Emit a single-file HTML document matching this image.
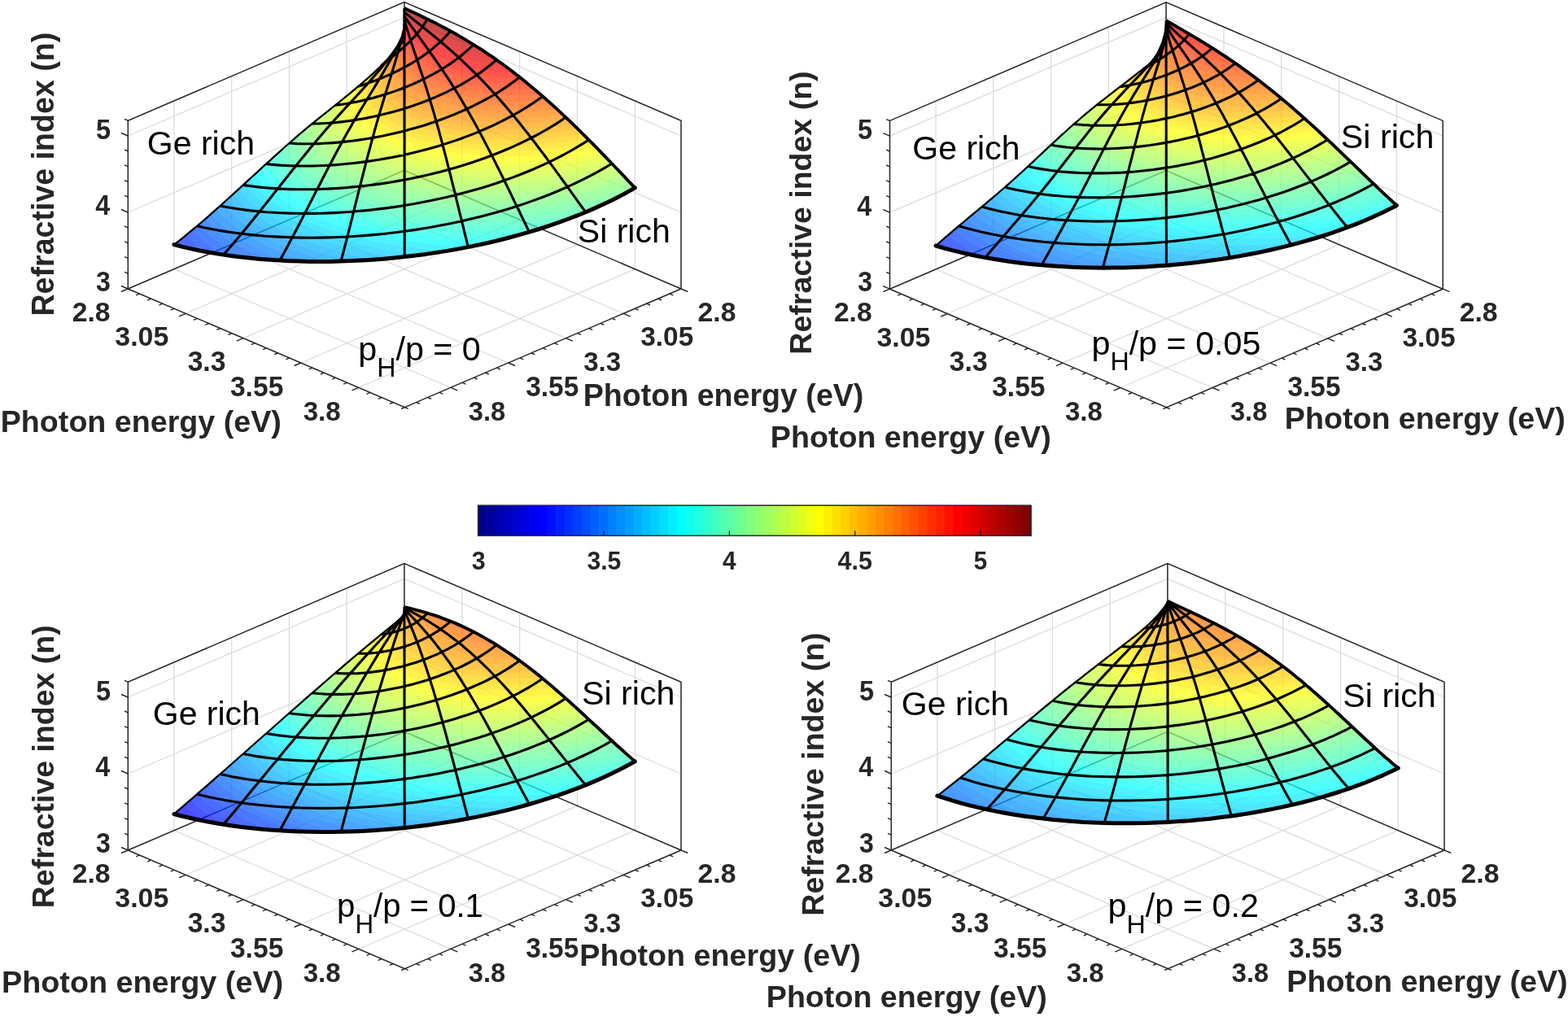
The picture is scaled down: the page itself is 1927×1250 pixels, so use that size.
<!DOCTYPE html>
<html><head><meta charset="utf-8"><title>Refractive index surfaces</title><style>html,body{margin:0;padding:0;background:#fff;}svg{display:block;}</style></head><body>
<svg width="1927" height="1250" viewBox="0 0 1927 1250" font-family='"Liberation Sans", Arial, sans-serif'>
<rect width="1927" height="1250" fill="#fff"/>
<path fill="none" stroke="#dcdcdc" stroke-width="1.3" d="M426.1 239.7L426.1 32.9M567.8 239.7L567.8 32.9M426.1 239.7L766.2 385.3M567.8 239.7L228.2 385.3M355.4 270.1L355.4 63.3M638.6 270.1L638.6 63.3M355.4 270.1L695.5 415.7M638.6 270.1L299 415.7M284.6 300.4L284.6 93.6M709.5 300.4L709.5 93.6M284.6 300.4L624.8 446M709.5 300.4L369.9 446M213.9 330.7L213.9 123.9M780.3 330.7L780.3 123.9M213.9 330.7L554 476.3M780.3 330.7L440.7 476.3M496.9 115.4L157.3 261M496.9 115.4L837 261M496.9 21.4L157.3 167M496.9 21.4L837 167"/>
<path fill="none" stroke="#262626" stroke-width="1.5" d="M496.9 209.4L157.3 355M496.9 209.4L837 355M496.9 209.4L496.9 2.6"/>
<g opacity="0.7">
<path fill="#0020ff" stroke="#0020ff" stroke-width="0.7" d="M218.6 297l-4.7 3.6 14.3 3.6 -7.9 -8.5z"/>
<path fill="#0030ff" stroke="#0030ff" stroke-width="0.7" d="M228 289.5l-7.7 6.2 7.9 8.5 21.8 4.7 -10.7 -9.4 -10.3 -10.8z"/>
<path fill="#0040ff" stroke="#0040ff" stroke-width="0.7" d="M235.1 283.7l-6.1 5 10.3 10.8 10.7 9.4 23.2 4 -10.1 -7.1 -9.8 -7.9 -8.7 -7.9 -7.4 -8z"/>
<path fill="#0050ff" stroke="#0050ff" stroke-width="0.7" d="M244.6 275.8l-7.4 6.2 5.5 6 6.4 6.3 7.3 6.3 6.7 5.2 10.1 7.1 24.3 3.2 -16.7 -10 -14 -10.1 -12 -10.3 -9.8 -10.3z"/>
<path fill="#0060ff" stroke="#0060ff" stroke-width="0.7" d="M251.6 269.7l-6.6 5.7 7.2 7.8 8.3 7.7 8.8 7 7.8 5.7 10.1 6.6 10.3 5.9 25.4 2.6 -11.5 -5.7 -11 -6 -9.6 -5.7 -9.4 -6.3 -8.1 -6.2 -8.6 -7.3 -5.3 -5.1 -6.8 -7.5z"/>
<path fill="#0070ff" stroke="#0070ff" stroke-width="0.7" d="M258.7 263.6l-6.1 5.3 1 1.3 8.4 8.8 8.4 7.5 9.6 7.5 10.8 7.3 16.2 9.4 15.9 8 26.4 1.7 -14.4 -6 -13.9 -6.6 -12.7 -6.7 -11.6 -7 -10.4 -7.1 -9.6 -7.5 -10 -9.2 -6.9 -7.7z"/>
<path fill="#0080ff" stroke="#0080ff" stroke-width="0.7" d="M265.8 257.3l-6 5.3 4.3 4.9 9.1 8.9 9.9 8.2 10 7.1 11.2 7.1 12.3 6.8 8.9 4.4 10.6 4.9 13.2 5.5 27.2 0.9 -17.6 -6.2 -19.6 -8.2 -15.1 -7.2 -14.5 -8 -10.8 -6.9 -12.7 -9.4 -10.6 -9.5 -8.7 -9.6z"/>
<path fill="#008fff" stroke="#008fff" stroke-width="0.7" d="M272.9 251l-6 5.3 4.1 4.8 5.7 5.9 9.5 8.4 9.3 7.1 13.1 8.5 13.1 7.4 13 6.4 13.6 6 13.6 5.4 14.6 5.1 27.8 0.1 -20.8 -6.3 -20.9 -7.5 -19 -7.9 -19.4 -9.7 -16.3 -9.8 -12.7 -9.1 -5.6 -4.6 -6.5 -6 -5.4 -5.7 -3.9 -4.7z"/>
<path fill="#009fff" stroke="#009fff" stroke-width="0.7" d="M279.9 244.6l-6.1 5.5 6.1 7 6.4 6.4 10.7 9 10.9 7.7 14.6 8.9 12.3 6.4 13.4 6.2 19.5 7.8 15.8 5.6 20.8 6.3 28.4 -0.8 -25.5 -6.6 -26 -8.1 -19.8 -7.5 -10.3 -4.4 -11.8 -5.6 -10.3 -5.4 -8.9 -5.2 -9.6 -6.3 -6.6 -4.8 -5.6 -4.5 -7.5 -6.8 -6.4 -6.9 -3.7 -4.5z"/>
<path fill="#00afff" stroke="#00afff" stroke-width="0.7" d="M287 238.2l-6.3 5.8 7.8 9.1 7 6.7 11.4 9.2 12.4 8.3 11.9 6.9 16.6 8.3 18.4 7.8 20.2 7.3 22 6.8 23.6 6 6.4 -0.1 23.1 -1.4 -15.8 -3.2 -18 -4.2 -26 -7.2 -14.7 -4.7 -12.6 -4.6 -9.4 -3.8 -13.2 -5.8 -12.1 -6.1 -7.5 -4.1 -10.4 -6.4 -9.3 -6.5 -8 -6.4 -6.4 -5.8 -5.6 -5.9 -5.1 -6.4z"/>
<path fill="#00bfff" stroke="#00bfff" stroke-width="0.7" d="M291.7 233.9l-4.3 3.9 5.1 6.4 4.5 4.8 7.2 6.7 5.4 4.4 12.2 8.7 11.6 7.1 14.3 7.5 17.3 7.8 19.2 7.4 21 6.8 22.5 6.1 24.4 5.6 9.4 1.8 29 -2.6 -31.5 -5.4 -18 -3.9 -17.2 -4.2 -12.8 -3.7 -14.7 -4.6 -13.9 -4.9 -13.8 -5.5 -12.8 -5.7 -11.7 -6 -10.7 -6.1 -9.7 -6.3 -8.5 -6.5 -8.5 -7.4 -7.5 -7.8 -5.2 -6.6z"/>
<path fill="#00cfff" stroke="#00cfff" stroke-width="0.7" d="M298.8 227.4l-4.8 4.3 4.5 5.8 5.2 5.8 6.3 5.9 7.9 6.5 12.2 8.5 14 8.2 15.9 7.9 17.7 7.5 11.6 4.3 13 4.4 21.5 6.3 23.1 5.6 24.5 4.8 19.1 3.1 29.2 -3.4 -20.8 -2.6 -19.6 -3.1 -18.4 -3.4 -17.3 -3.8 -17.9 -4.5 -15.9 -4.6 -14.9 -4.9 -14 -5.3 -13 -5.5 -12 -5.7 -11 -5.9 -13 -8.2 -10.4 -7.7 -8 -7 -6.7 -7.1 -6.1 -7.9z"/>
<path fill="#00dfff" stroke="#00dfff" stroke-width="0.7" d="M305.9 220.9l-5.2 4.8 4.8 6.4 5.8 6.4 6.9 6.4 7.8 6.3 6.8 4.9 8.7 5.4 14.4 8 16.7 7.8 18.7 7.4 20.9 6.9 24.5 6.8 24.2 5.4 29.9 5.3 28.9 3.8 29 -4.4 -21.7 -1.9 -20.5 -2.5 -19.4 -2.8 -20.4 -3.7 -17.3 -3.7 -21.9 -5.6 -15.4 -4.5 -19.1 -6.6 -13.2 -5.3 -16.1 -7.4 -14 -7.5 -9.9 -6.2 -10.1 -7.3 -9.5 -8.3 -6.7 -7.2 -6.2 -8.4z"/>
<path fill="#00efff" stroke="#00efff" stroke-width="0.7" d="M312.9 214.4l-5.6 5.2 5.2 7.2 6.8 7.5 6.8 6.2 7.9 6.2 7.1 4.9 8.2 5.2 9.9 5.4 8.3 4.2 19.3 8.4 19.3 7 21.6 6.6 27.4 6.8 29.7 5.7 25.1 3.7 19.5 2.2 19.3 1.7 28.9 -5.3 -22.6 -1.2 -26.3 -2.3 -19.1 -2.2 -24.6 -3.8 -17.7 -3.3 -22.2 -5 -17.2 -4.6 -18.3 -5.7 -18.1 -6.7 -14.1 -6 -15.2 -7.5 -13.2 -7.8 -11.3 -8 -9.5 -8.1 -7.7 -8.2 -4 -5.1 -2.6 -4.1z"/>
<path fill="#00ffff" stroke="#00ffff" stroke-width="0.7" d="M320 207.9l-6.1 5.7 0.6 1 5.1 7.2 5.8 6.4 8.5 7.9 7.9 6 7.2 5 8 4.8 10.1 5.5 8 3.9 20.7 8.8 23.4 8.1 25.9 7.2 28.1 6.2 30.1 5 25.4 3.1 26.3 2.3 22.6 1.2 28.4 -6.2 -25.8 -0.5 -26.5 -1.5 -24.3 -2.2 -20.1 -2.4 -24 -3.8 -22.7 -4.5 -21.4 -5.1 -19.9 -5.9 -18.3 -6.3 -16.7 -6.8 -15 -7.2 -14.5 -8.4 -11.3 -7.8 -10.6 -9.1 -4.2 -4.2 -4.5 -5.3 -5.7 -8.5z"/>
<path fill="#10ffef" stroke="#10ffef" stroke-width="0.7" d="M327.1 201.4l-6.6 6.1 1.1 2 5.8 8 5.9 6.5 8.3 7.5 7.8 5.9 7.4 5 8.5 5.1 9.6 5.1 10.1 4.8 11.1 4.7 11.3 4.3 23.7 7.7 26 6.8 28.2 5.7 30.1 4.6 18.9 2.2 15.6 1.3 30.3 1.8 25.8 0.5 27.9 -7.1 -29 0.3 -26.6 -0.6 -25.9 -1.5 -25.2 -2.4 -24.2 -3.2 -22.6 -3.9 -22.2 -4.8 -20.5 -5.3 -22.4 -7.2 -17.6 -6.7 -15.6 -7.1 -9.3 -4.9 -7.3 -4.2 -12.3 -8.4 -10.7 -8.9 -4 -4 -5 -5.9 -3.3 -4.6 -3.1 -5.2z"/>
<path fill="#20ffdf" stroke="#20ffdf" stroke-width="0.7" d="M331.8 197.1l-4.7 4.3 3.1 5.2 3.3 4.6 5 5.9 8.2 7.8 7.5 5.9 8.3 5.7 9.3 5.6 10.3 5.4 10.2 4.8 9.2 3.8 21.9 8 11.4 3.5 14.3 4 15.1 3.6 15.8 3.3 29 4.9 30.7 3.6 32.1 2.3 33.1 0.9 29 -0.3 27.3 -8 -32.1 1.5 -26.5 0.1 -26.1 -0.7 -26.9 -1.7 -28.6 -3.1 -23.8 -3.5 -26.8 -5.1 -21.3 -5.2 -20.8 -6.2 -20 -7.2 -19 -8.4 -9.2 -4.7 -7.4 -4.3 -5.8 -3.7 -7.9 -5.6 -10.3 -8.8 -4.9 -5.1 -4.1 -5.1 -3.3 -5.1 -2.5 -4.7z"/>
<path fill="#30ffcf" stroke="#30ffcf" stroke-width="0.7" d="M338.9 190.7l-5 4.6 3.1 5.7 4 5.8 5.2 5.9 8 7.6 7.3 5.7 10.2 6.8 8.4 4.9 9.2 4.7 11.1 5.1 12.1 4.9 22.2 7.6 13.6 3.9 14.5 3.7 15.4 3.4 16.4 3.1 14.1 2.3 17.8 2.3 30.9 3 33.9 1.6 33.9 0.1 17.3 -0.5 18.7 -1 26.4 -8.8 -28.3 2.3 -26.4 1.2 -27.3 0.3 -31.7 -0.9 -29.5 -2.2 -27.4 -3.2 -25.4 -4.1 -26.4 -5.6 -24.1 -6.5 -22 -7.4 -19.5 -8.1 -7.9 -3.9 -8.9 -4.8 -7.6 -4.7 -7.1 -4.8 -6.3 -4.9 -5.6 -5 -4.8 -4.9 -4.3 -5.5 -3.7 -5.6 -2.7 -5.7z"/>
<path fill="#40ffbf" stroke="#40ffbf" stroke-width="0.7" d="M346 184.4l-5.3 4.7 2.7 5.7 4 6.1 6.3 7.4 7.8 7.2 7.2 5.6 10.3 6.8 10.2 5.8 10.4 5.2 11.4 4.9 11.7 4.5 12 4.1 13 3.9 13.8 3.7 14.7 3.4 15.6 3.2 16.6 2.8 17.4 2.4 17.9 2 18.5 1.5 18.9 1 32.1 0.6 19.7 -0.3 18.2 -0.7 21.4 -1.4 15.1 -1.4 25.5 -9.6 -31.1 3.6 -29.1 2.1 -29.4 1 -31.8 -0.2 -31 -1.6 -29.8 -2.8 -28.3 -4.1 -26.5 -5.2 -24.4 -6.3 -22.6 -7.2 -11 -4.2 -10.1 -4.3 -9.4 -4.4 -8.9 -4.8 -7.4 -4.5 -6.9 -4.7 -6.7 -5.2 -6.2 -5.5 -5.1 -5.6 -4.1 -5.4 -3.4 -5.8 -2.3 -5.5z"/>
<path fill="#50ffaf" stroke="#50ffaf" stroke-width="0.7" d="M353 178.1l-5.4 4.8 2.8 6.5 4.6 7.2 6.3 7.3 7.4 6.8 9.6 7.3 8.4 5.3 9.3 5.2 12 5.8 13.4 5.6 12.4 4.6 13.3 4.2 13.2 3.7 14.1 3.5 14.9 3.1 15.8 2.9 16.7 2.5 17.6 2.1 18.6 1.7 14.9 1 18.8 0.8 19 0.3 19.5 -0.2 19.2 -0.7 19.5 -1.2 19.6 -1.8 24.6 -2.9 24.3 -10.5 -27.2 4.2 -33.1 3.7 -34 2.2 -32.2 0.6 -15.2 -0.2 -18.5 -0.7 -29.9 -2.2 -28.5 -3.5 -26.9 -4.6 -25.9 -5.9 -13 -3.6 -13.1 -4.2 -12.2 -4.4 -11.4 -4.6 -10.4 -4.9 -8.9 -4.7 -9.2 -5.5 -7.6 -5.4 -6.5 -5.2 -5 -4.8 -5.5 -6.3 -3.7 -5.4 -2.9 -5.5 -1.9 -5.4z"/>
<path fill="#60ff9f" stroke="#60ff9f" stroke-width="0.7" d="M360.1 171.9l-5.4 4.8 2.7 7.2 2.1 3.7 3.1 4.7 6.1 7 7.8 7.1 9.4 7 10.5 6.4 9.5 5.1 13.6 6.2 12.2 4.8 12.5 4.3 13.4 4.1 14.2 3.7 15.1 3.5 15.5 3 16.4 2.6 16.9 2.2 17.5 1.8 17.9 1.4 18.4 0.8 18.7 0.4 18.9 -0.1 19.1 -0.6 19.4 -1.1 25.4 -2.3 21.8 -2.7 24.6 -3.9 23 -11.2 -29.5 5.7 -31.2 4.5 -33.3 3.3 -32.6 1.6 -30.7 0.2 -15.8 -0.5 -18 -0.9 -30.6 -2.8 -16.4 -2.2 -15.6 -2.5 -14.7 -2.8 -14.7 -3.3 -14 -3.6 -13.2 -4 -12.4 -4.2 -11.5 -4.5 -10.6 -4.7 -9.7 -4.9 -8.7 -5 -7.8 -5.2 -8.4 -6.7 -6 -5.7 -4.6 -5.4 -3.6 -5.4 -3.1 -6.3 -1.7 -6.2z"/>
<path fill="#70ff8f" stroke="#70ff8f" stroke-width="0.7" d="M367.2 165.8l-5.2 4.5 1 4 1.7 4.5 2.4 4.5 3.1 4.6 5.9 6.9 7.6 6.8 9.2 6.8 10 6.1 9.4 5 13.6 6.2 11.8 4.6 15.1 5.1 15.1 4.3 14.2 3.6 15 3.2 17.3 3 20.3 2.9 17.1 1.9 17.5 1.4 18 0.9 18.3 0.5 18.6 0 20.3 -0.6 21.9 -1.2 22.6 -2.1 23.3 -2.8 24.7 -4 23.4 -4.6 19.9 -11 -0.4 -0.4 -17.5 4.2 -17.9 3.8 -18.1 3.2 -14.9 2.3 -15.9 2.1 -17.8 1.8 -31.8 2.1 -30.9 0.7 -18 -0.2 -17.9 -0.8 -28.8 -2.2 -16.7 -1.9 -16.1 -2.4 -15.5 -2.7 -14.8 -3.1 -14 -3.4 -14.8 -4.3 -15 -5 -11.3 -4.4 -10.4 -4.6 -9.5 -4.8 -9 -5.2 -9.6 -6.6 -6.3 -5.2 -6 -5.9 -5.1 -6.5 -3.1 -5.3 -2.4 -5.9 -1.3 -6.3z"/>
<path fill="#80ff80" stroke="#80ff80" stroke-width="0.7" d="M376.6 157.8l-7.1 6.1 0.5 3.4 1 3.5 3.1 7.1 4.8 7.1 6.9 7.3 7.9 6.7 9.6 6.6 9 5.2 10.6 5.3 13 5.6 11.6 4.3 12.5 4.1 16.8 4.7 15.4 3.6 15 3 15.7 2.6 16.3 2.2 16.9 1.8 17.3 1.3 17.7 0.9 18 0.4 18.4 -0.1 18.1 -0.5 32.2 -2.2 17.8 -1.8 18.5 -2.5 18.3 -2.9 14 -2.6 16 -3.4 17.5 -4.2 -5.2 -5.5 -17.3 4.2 -17.6 3.6 -18 3.1 -18.1 2.6 -18.3 2.2 -18.2 1.6 -18.5 1.1 -18.2 0.6 -30 0 -29.4 -1.4 -16.9 -1.4 -16.1 -1.8 -26.2 -4.1 -14.8 -2.9 -14.1 -3.2 -13.2 -3.6 -12.7 -3.9 -11.8 -4.2 -11.6 -4.7 -9.2 -4.3 -10.9 -5.9 -8.7 -5.5 -6.9 -5.1 -5.8 -5.1 -5.3 -5.7 -4.5 -6.5 -2.7 -5.3 -1.7 -5.3 -0.5 -3.3 -0.2 -3.4z"/>
<path fill="#8fff70" stroke="#8fff70" stroke-width="0.7" d="M383.7 152l-6.4 5.3 0.2 3.4 0.5 3.4 1.3 4.1 1.9 4.2 4 6.5 5.7 6.5 7.1 6.5 8.8 6.4 8.7 5.4 9.6 5 12.9 5.8 11.2 4.4 12 4 14.6 4.3 16.5 4.1 16.1 3.3 14.5 2.5 15.2 2.2 16.4 1.8 16.9 1.4 17.4 1 18.5 0.5 17.2 0 18.1 -0.4 18.3 -1 16.9 -1.3 32.7 -3.8 17.3 -2.7 16.5 -3 13.1 -2.7 17.3 -4.2 -5.1 -5.4 -17.1 4 -17.5 3.5 -17.7 3 -17.9 2.4 -18.1 2 -18 1.5 -18 1.1 -17.9 0.5 -29.4 -0.3 -15.6 -0.6 -16.9 -1.2 -28.6 -3.1 -25.4 -4.1 -14.4 -3 -13.7 -3.3 -12.9 -3.6 -12.1 -3.9 -11.2 -4.2 -11.6 -5 -11.2 -5.6 -7.5 -4.3 -8 -5.4 -6.3 -5.1 -6.4 -6.3 -4.6 -5.7 -3 -5.2 -2.2 -5.7 -1.1 -6 0.2 -5.4z"/>
<path fill="#9fff60" stroke="#9fff60" stroke-width="0.7" d="M393.1 144.4l-7.6 6.1 -0.2 3.4 0.1 3.4 1.6 6.6 3 6.2 4.4 6.3 6.3 6.7 8.2 6.8 8 5.4 10.6 6 12.4 5.9 10.9 4.4 13.3 4.7 15 4.4 14 3.6 13.5 2.9 14.9 2.8 15.4 2.3 16.1 1.9 16.5 1.5 17 1.1 17.3 0.6 17.6 0.1 16 -0.3 31.9 -1.7 18.1 -1.7 18 -2.1 17.8 -2.7 17.7 -3.1 28.7 -6.4 -5.2 -5.4 -16.9 3.8 -17.3 3.3 -17.5 2.9 -17.6 2.4 -17.8 1.8 -19.9 1.5 -19.2 0.9 -18.5 0.3 -30 -0.7 -27.6 -1.9 -26.3 -3.1 -25.4 -4.4 -13.3 -2.8 -13.2 -3.4 -12.4 -3.6 -11.9 -4.1 -10.5 -4.1 -11.3 -5.1 -10.3 -5.5 -7 -4.3 -7.5 -5.4 -5.8 -5 -5.4 -5.9 -4.2 -6.1 -2.5 -5.1 -1.5 -5.2 -0.4 -5.4 0.8 -6.3z"/>
<path fill="#afff50" stroke="#afff50" stroke-width="0.7" d="M402.6 136.8l-8.6 6.8 -0.8 6.3 0.5 5.8 2.1 6.5 4 6.9 5.6 6.7 6.8 6.2 8.3 6 9.7 5.9 9 4.6 11.1 4.9 13.3 5.1 11.2 3.6 13.4 3.8 15.8 3.7 13 2.6 13.7 2.3 15.4 2.2 16 1.7 16.4 1.3 16.9 0.9 17.2 0.4 17.4 -0.1 17.7 -0.6 17.7 -1 17.8 -1.5 14.5 -1.7 15 -2 17.5 -2.9 17.3 -3.3 16.9 -3.8 -5.2 -5.5 -16.7 3.7 -17.1 3.2 -17.3 2.7 -17.4 2.2 -17.5 1.8 -17.5 1.2 -16.8 0.8 -18 0.3 -28.1 -0.6 -29.4 -2.1 -14.9 -1.6 -13.9 -1.9 -26.2 -4.8 -11.9 -2.8 -12.2 -3.3 -11.9 -3.7 -11.8 -4.2 -9.6 -3.9 -10.7 -5.1 -9.7 -5.6 -7.2 -4.8 -6.5 -5.2 -4.9 -4.7 -4.3 -5.2 -3.6 -5.9 -2.2 -5.8 -0.8 -5.2 0.3 -5.9 1.4 -5.5z"/>
<path fill="#bfff40" stroke="#bfff40" stroke-width="0.7" d="M409.6 131.2l-6.8 5.5 -1.1 3.7 -0.6 3.6 0 3.7 0.4 3.7 1.7 5.8 3.1 5.8 4.5 6 6.4 6.2 7.2 5.6 9 5.9 10.6 5.6 10.3 4.7 10.9 4.2 14.8 5 12.8 3.5 13.2 3.2 14 2.9 14.4 2.4 15.4 2.1 15.7 1.7 16.3 1.3 16.6 0.8 31.5 0.3 31.6 -1.3 17.6 -1.4 17.4 -1.9 30.7 -4.6 15.3 -2.9 16.7 -3.7 -5.2 -5.5 -16.6 3.6 -16.8 3 -17.1 2.6 -17.7 2.2 -18.9 1.7 -18.4 1.1 -17.8 0.5 -17.1 0.1 -28.9 -1.1 -26.3 -2.2 -26.9 -3.8 -24.6 -4.8 -14 -3.6 -12 -3.5 -11.2 -3.9 -10.3 -4.1 -9.2 -4.1 -8.8 -4.7 -7.5 -4.6 -6.7 -4.9 -5.4 -4.7 -4.9 -5.2 -3.6 -5.1 -2.5 -5.1 -1.6 -5.4 -0.4 -5.5 0.7 -5.8 2.1 -6.1z"/>
<path fill="#cfff30" stroke="#cfff30" stroke-width="0.7" d="M419.1 123.7l-7.5 6 -1.7 4.5 -0.7 3.2 -0.3 6.6 0.4 3.4 0.9 3.4 2.5 5.6 3.8 5.8 5.3 5.7 6.8 5.8 8.2 5.7 9.8 5.5 9.5 4.6 10.2 4.2 13.9 4.9 12.7 3.8 12.8 3.3 13.1 2.8 14.6 2.7 14.8 2.1 15.3 1.8 15.9 1.4 16.2 0.9 16.6 0.5 16.9 0 17.1 -0.5 17.2 -1 28.7 -2.6 17.1 -2.3 15.9 -2.5 28.9 -5.9 -5.3 -5.4 -16 3.3 -17 3 -16.8 2.4 -17 2 -16.9 1.4 -16.2 1 -17.2 0.5 -17 0 -27.1 -1 -26 -2.2 -26.3 -3.6 -12.3 -2.2 -13.3 -2.9 -12.5 -3.2 -11.7 -3.5 -11.1 -3.9 -10.1 -4 -9.2 -4.3 -8.7 -4.7 -7 -4.5 -6.3 -4.8 -5.4 -4.9 -4.3 -5 -3.1 -4.9 -2.4 -5.5 -1.2 -5.4 0 -6.1 1.2 -6.1 2.5 -5.9z"/>
<path fill="#dfff20" stroke="#dfff20" stroke-width="0.7" d="M428.5 116l-8.2 6.7 -1.9 4.2 -1 3.1 -0.9 6.4 0.5 6.6 0.8 3.2 1.4 3.6 3.2 5.6 4.6 5.6 6.1 5.6 7.4 5.6 8.8 5.3 8.6 4.4 9.8 4.4 13 4.8 12.4 3.9 12.3 3.3 13 3 13.8 2.7 14.3 2.3 15.3 1.9 14.4 1.3 15 1.1 15.6 0.6 16.4 0.2 16.9 -0.3 17.5 -0.8 30 -2.5 16.9 -2.2 16.8 -2.5 27.4 -5.4 -5.3 -5.5 -16.2 3.2 -15.7 2.7 -17.3 2.4 -16.7 1.8 -16.8 1.3 -16.6 0.8 -20 0.4 -15.8 -0.2 -23.5 -1.1 -26.8 -2.6 -25.2 -3.8 -23.6 -5.1 -12.1 -3.3 -11.1 -3.5 -10.7 -4 -9.4 -4.1 -8.8 -4.4 -7.3 -4.2 -7.2 -5 -5.7 -4.9 -4.4 -4.5 -3.9 -5.4 -2.7 -5.4 -1.5 -5.3 -0.5 -5.2 0.5 -5.7 1.7 -5.9 2.6 -5.4z"/>
<path fill="#efff10" stroke="#efff10" stroke-width="0.7" d="M435.6 110.2l-7 5.8 -1.9 3.8 -1.5 4.3 -0.9 3.5 -0.3 3.4 0.2 5.8 1.7 6.5 2.7 5.4 3.9 5.4 5.3 5.4 6.7 5.5 7.3 4.7 8 4.5 9.7 4.6 12.1 4.8 11.6 3.9 11.9 3.4 12.5 3.1 13.3 2.7 14.1 2.4 14.4 2 15.1 1.6 15.5 1.1 15.9 0.7 16.2 0.3 16.5 -0.2 16.6 -0.7 28.8 -2.3 15.7 -1.9 16.6 -2.4 27.1 -5.1 -5.3 -5.6 -16 3.1 -16.3 2.6 -16.4 2.2 -15 1.5 -17 1.3 -16.4 0.7 -15.9 0.2 -17.2 -0.2 -27 -1.5 -26.3 -2.9 -23.7 -4 -22.2 -5.1 -11.6 -3.4 -10.1 -3.4 -10.7 -4.3 -8 -3.7 -6.5 -3.4 -8.2 -5 -5.7 -4.3 -5.4 -4.8 -4.3 -5 -3.3 -5.2 -2.3 -5.3 -1.1 -5.1 -0.3 -6.1 1 -5.7 2 -5.8 2.6 -4.9z"/>
<path fill="#ffff00" stroke="#ffff00" stroke-width="0.7" d="M442.7 104.2l-5.9 4.9 -1.4 2.4 -2.8 6.6 -1.3 6.7 0 5.5 1.3 6.4 2.3 5.3 3.3 5.2 4.7 5.3 5.9 5.3 7.4 5.2 8.3 4.8 8.7 4.3 9.7 4 10.5 3.8 11.4 3.5 12 3.2 14.1 3 12.3 2.3 14.1 2.1 14.6 1.7 15.2 1.3 15.2 0.8 15 0.4 15.7 0 16.1 -0.5 29.3 -2.1 16.5 -1.8 14.7 -2 28.5 -5.2 -5.4 -5.5 -16.2 3 -15.7 2.4 -16.2 2 -16.3 1.5 -16.2 1 -16.1 0.5 -15.9 0.1 -16.2 -0.4 -24.7 -1.6 -24.1 -2.8 -22.5 -3.9 -12.6 -2.9 -10.5 -2.8 -12.4 -3.9 -8.8 -3.1 -7.9 -3.3 -8.7 -4.2 -7.8 -4.5 -6.2 -4.2 -4.6 -3.6 -5.1 -5 -3.9 -5 -2.9 -5.1 -1.9 -5.2 -1 -5 0 -6 1.1 -5.6 1.9 -5.3 3.2 -5.6z"/>
<path fill="#ffef00" stroke="#ffef00" stroke-width="0.7" d="M449.7 98.1l-5.2 4.5 -2 3.3 -2.7 6.1 -1.5 7.1 0 6 1 5.2 2.7 6.6 3.3 5.2 4.4 5.1 5.8 5.1 7.1 5.1 6.4 3.8 8.5 4.3 9.3 4.1 9.5 3.5 11.9 3.7 10.9 3 13.5 3.1 13.3 2.4 11.8 1.8 26.4 2.9 15.2 1 15.6 0.5 26.5 -0.1 15.9 -0.7 16.5 -1.2 16.7 -1.7 15.6 -2.1 26.6 -4.6 -5.5 -5.6 -15.7 2.8 -14 2 -16.5 2 -16.1 1.3 -15.6 0.9 -15.1 0.5 -17.9 -0.1 -15.3 -0.5 -24.7 -1.9 -23.4 -3 -21.8 -4.2 -12.1 -2.9 -9.3 -2.7 -9.2 -3 -10 -3.8 -7.3 -3.3 -7.4 -3.7 -7 -4.2 -6.8 -4.9 -3.9 -3.3 -4.7 -5 -3.5 -5 -2.6 -5.2 -1.6 -4.9 -0.8 -6.3 0.4 -5.9 1.4 -5.2 2 -4.7 3.1 -5z"/>
<path fill="#ffdf00" stroke="#ffdf00" stroke-width="0.7" d="M456.8 91.7l-5 4.6 -2.6 3.9 -2.5 5.8 -1.5 6 -0.3 5.1 0.8 6.4 2.3 6.5 3 5.2 3.9 5 5.1 5 6.4 4.9 6.8 4.3 8.2 4.4 8.6 3.9 10.5 4 9.2 3 13.3 3.7 10.3 2.4 10.7 2.1 13.4 2.3 14.1 1.8 13.9 1.4 27 1.4 14.4 0.2 14.9 -0.2 27.3 -1.5 28.5 -3 14 -2 15.7 -2.8 -5.6 -5.6 -15.5 2.6 -15.7 2.1 -15.7 1.7 -15.8 1.1 -15.7 0.8 -15.6 0.2 -15.2 -0.3 -15 -0.6 -24.1 -2.2 -22.7 -3.3 -21 -4.4 -19 -5.3 -10.3 -3.7 -8.3 -3.4 -6.9 -3.3 -7.7 -4.3 -4.9 -3.2 -6 -4.8 -5 -4.9 -2.9 -3.5 -3 -4.6 -2.4 -5.4 -1.3 -4.9 -0.6 -6 0.5 -5.5 1.3 -4.9 2.5 -5.3 3 -4.5z"/>
<path fill="#ffcf00" stroke="#ffcf00" stroke-width="0.7" d="M463.9 85.2l-5.3 4.9 -2.5 3.5 -2.7 5.4 -1.6 5.8 -0.5 5.5 0.6 6 1.5 5.4 3 6.1 3.7 5.3 4.5 4.8 5.8 4.9 4.5 3.2 7.9 4.7 8.1 4 9.4 3.9 9.9 3.6 11.5 3.4 10.6 2.7 22.7 4.5 13.6 2 12.8 1.4 26 1.8 27.3 0.3 14.6 -0.4 15.2 -0.8 15.5 -1.3 15.6 -1.8 26 -4.1 -5.7 -5.7 -13.7 2.2 -15.6 2 -15.2 1.5 -14.8 1.1 -28.3 0.7 -15 -0.2 -17.5 -0.9 -23.7 -2.3 -19.6 -3.1 -20.6 -4.4 -16.9 -4.9 -8.5 -3 -9.2 -3.8 -6.1 -2.9 -7.9 -4.5 -6.7 -4.6 -4 -3.3 -4.7 -4.6 -3.8 -4.8 -2.9 -4.8 -2.4 -5.7 -1.2 -5.6 -0.2 -4.8 0.5 -5.1 1.7 -5.6 2.5 -4.7 2.8 -3.9z"/>
<path fill="#ffbf00" stroke="#ffbf00" stroke-width="0.7" d="M468.6 80.6l-3.7 3.6 -3.4 4.7 -2.4 5.1 -1.4 5.6 -0.3 5.5 0.6 5.6 1.7 5.7 2.9 5.7 3.5 5 4.7 5.1 3.8 3.3 6.3 4.7 7.6 4.5 5.7 3 9.7 4.2 9.4 3.4 18.6 5.5 12.1 2.8 12.8 2.4 13.4 2 13.5 1.6 24.7 1.7 26.8 0.4 14.1 -0.4 14.7 -0.8 26.3 -2.5 25.6 -3.8 -5.8 -5.7 -25.3 3.5 -14.2 1.4 -16.5 1 -15.2 0.6 -15 0 -14.1 -0.4 -15.1 -0.9 -20 -2.1 -20.6 -3.2 -20.3 -4.6 -17.9 -5.5 -7 -2.6 -9.3 -4.1 -5.6 -2.9 -7.3 -4.4 -6.1 -4.6 -4 -3.5 -3.9 -4.2 -3.6 -4.7 -2.6 -4.7 -2.3 -6.1 -1 -5 -0.2 -4.8 0.7 -4.8 1.6 -5.1 2.3 -4.2 3.2 -4.2z"/>
<path fill="#ffaf00" stroke="#ffaf00" stroke-width="0.7" d="M475.7 73.5l-5.5 5.5 -2.6 3.6 -2.3 4.2 -1.7 5.2 -0.6 6 0.4 5.1 1.2 4.9 2.7 6.1 2.9 4.8 3.8 4.7 4.8 4.6 5.8 4.6 6.9 4.5 8.1 4.3 6.3 2.9 9.8 3.8 10.6 3.4 9.4 2.6 10 2.4 12.6 2.4 21.9 3.2 24 2 24.8 0.7 27.3 -0.7 14.3 -0.9 14.2 -1.4 25.3 -3.5 -5.9 -5.8 -12.9 1.9 -14.4 1.5 -27.6 1.9 -25.9 0.2 -13.9 -0.4 -15.9 -1.1 -21.5 -2.5 -19.4 -3.3 -17.2 -4.2 -15 -4.7 -9.2 -3.6 -6.6 -3 -7.7 -4.1 -4.9 -3.1 -5.7 -4.3 -5.1 -4.5 -4.1 -4.6 -3.3 -4.7 -2.5 -4.6 -1.8 -5 -1.2 -5.6 -0.1 -5 0.8 -4.7 1.6 -4.6 2.5 -4.2 3.1 -3.6z"/>
<path fill="#ff9f00" stroke="#ff9f00" stroke-width="0.7" d="M480.4 68.5l-5.7 6 -2.3 3.1 -2.2 4.2 -1.4 4.8 -0.5 4.5 0.3 5.2 1.4 5.7 2.2 5 2.7 4.7 3.9 4.9 4.1 4.3 5.3 4.5 6.4 4.4 7.4 4.2 6.2 3 8.8 3.7 7.5 2.7 11 3.3 11.6 3 10.3 2.1 10.7 1.8 13.3 1.9 23.3 2 25 0.8 24.2 -0.5 25.2 -1.9 25.1 -3.2 -6.1 -5.8 -15.4 1.9 -13.7 1.3 -26.2 1.4 -24.6 -0.2 -13.3 -0.6 -14.8 -1.2 -20.3 -2.7 -17.7 -3.4 -16.5 -4.3 -14 -4.7 -8.5 -3.6 -6 -3 -5.2 -2.9 -6.3 -4.1 -5.5 -4.3 -4.7 -4.5 -3.9 -4.5 -3.1 -4.6 -2.4 -4.6 -1.9 -5.3 -0.9 -5.2 0 -4.6 0.9 -4.9 1.7 -4 2.3 -3.5 3.2 -3.4z"/>
<path fill="#ff8f00" stroke="#ff8f00" stroke-width="0.7" d="M485.1 63.3l-6.3 6.6 -1.8 2.3 -1.9 3.6 -1.4 4.4 -0.6 5.2 0.4 4.9 1.3 4.9 2.2 5.2 2.9 4.8 4.1 5.3 4.4 4.5 5.3 4.4 6.2 4.3 7.2 4.1 6 3 8.5 3.6 7.9 2.8 9.9 3 16.8 4.1 21.3 3.6 23.5 2.5 23.2 1.1 25 -0.2 24.1 -1.5 24.8 -2.9 -6.2 -5.9 -23.7 2.5 -25.4 1.2 -24 -0.2 -14.2 -0.7 -13.7 -1.2 -18.4 -2.5 -17.5 -3.4 -15.5 -4.1 -13.5 -4.7 -6 -2.4 -8.1 -3.9 -5.6 -3.2 -5.6 -3.7 -5.5 -4.3 -4.7 -4.3 -3.9 -4.5 -3.3 -4.6 -2.5 -4.6 -2.2 -5.6 -0.9 -4.9 -0.1 -4.4 0.8 -4.5 1.8 -4.4 2.5 -3.4 3.3 -3z"/>
<path fill="#ff8000" stroke="#ff8000" stroke-width="0.7" d="M489.8 57.8l-3.8 4.4 -2.4 2.1 -2.2 2.5 -1.9 3.2 -1.3 3.8 -0.6 4.7 0.2 4.5 1.2 5 1.9 4.6 3.4 6 3.5 4.5 4.2 4.4 5 4.4 5.8 4.2 6.1 3.8 5.7 3 8.3 3.8 7.6 2.9 9 3 9.3 2.6 10.4 2.4 18.4 3.3 22.4 2.5 19.2 1.1 23.7 0.2 25.3 -1.2 23.7 -2.5 -6.5 -6 -24.3 2.2 -24 0.8 -23.8 -0.6 -24.3 -2.1 -18.3 -2.8 -16.5 -3.5 -14.5 -4.1 -12.5 -4.6 -5.8 -2.6 -7.3 -3.8 -6.6 -4 -5.8 -4.2 -4.9 -4.2 -4.3 -4.3 -3.5 -4.4 -2.6 -4 -2.5 -5 -1.5 -4.6 -0.8 -4.5 0.1 -4.5 1 -4.1 1.7 -3.3 2.7 -3.2 3.4 -2.5z"/>
<path fill="#ff7000" stroke="#ff7000" stroke-width="0.7" d="M494.5 52.1l-4 5 -2.9 2.1 -2.1 2.1 -1.9 2.9 -1.1 2.6 -0.9 4.1 0 3.8 0.8 4.6 1.7 5.1 2.9 5.4 3.1 4.4 3.8 4.4 5 4.8 4.7 3.7 6.6 4.5 6.3 3.6 8 3.9 6.5 2.7 8.7 3.1 17 4.7 18.4 3.7 19.9 2.7 19.6 1.5 22.5 0.5 24 -0.8 24.3 -2.2 -6.6 -6.1 -24.3 1.8 -22.8 0.4 -24.1 -1 -22.4 -2.4 -16.1 -2.7 -15.4 -3.6 -13.5 -4.2 -11.8 -4.7 -12.3 -6.3 -6.2 -4 -5.5 -4.1 -4.8 -4.1 -4.1 -4.3 -3.4 -4.4 -2.8 -4.4 -2.2 -4.4 -1.4 -4.7 -0.6 -4 0.3 -4.2 1.1 -3.6 1.9 -3.1 2.5 -2.5 3.7 -2.4z"/>
<path fill="#ff6000" stroke="#ff6000" stroke-width="0.7" d="M494.5 52.1l-3.6 2.3 -2.7 2.8 -2 3.6 -0.9 3.5 -0.1 4.4 0.7 4.2 1.8 4.9 2.2 4.2 3 4.5 3.9 4.6 4.3 4.3 5 4.1 5.8 4.1 6.5 3.9 12.8 6.2 13.8 5.1 16.1 4.4 16.4 3.3 21 2.8 18.3 1.4 20.4 0.4 22.4 -0.6 19.2 -1.6 -6.9 -6.1 -23.6 1.3 -21.6 0 -20.6 -1.1 -22.1 -2.7 -12.7 -2.2 -14.6 -3.5 -10 -3 -11.8 -4.5 -12.6 -6 -6.2 -3.7 -4.9 -3.4 -4.5 -3.5 -4.7 -4.1 -4 -4.2 -3.3 -4.3 -2.7 -4.3 -2.1 -4.5 -1.3 -4.5 -0.4 -3.7 0.6 -4.3 1.9 -3.8 2.7 -2.8 3.5 -2.2 0 1.4 -2.3 2.8z"/>
<path fill="#ff5000" stroke="#ff5000" stroke-width="0.7" d="M496.6 48l-3.4 2.2 -2.5 2.6 -1.7 3.2 -0.7 3.4 0.1 4.1 0.9 4.1 1.9 4.4 2.5 4.4 3.1 4.3 3.8 4.3 4.4 4.2 5.1 4 5.8 4 5.6 3.4 5.9 3.1 7.5 3.4 15.1 5.5 13.9 3.8 15.8 3.3 17.5 2.4 19.3 1.6 17.4 0.6 20.1 -0.4 17.9 -1.1 -7.2 -6.4 -18.9 0.9 -18.7 -0.1 -14.7 -0.7 -18.1 -1.8 -16.5 -2.7 -14.8 -3.3 -13.2 -3.9 -11.5 -4.3 -12.4 -5.9 -10.4 -6.4 -5.3 -4 -4.8 -4 -4.1 -4.2 -3.3 -3.9 -3.1 -4.6 -2.2 -4.4 -1.4 -4 -0.4 -3.3 0.5 -4.2 1.7 -3.6 1.8 -1.9 2 -1.5 0 3.2z"/>
<path fill="#ff4000" stroke="#ff4000" stroke-width="0.7" d="M496.6 44.8l-2.4 2 -1.9 2.6 -1.1 2.8 -0.3 3.6 0.4 3.3 1.4 4 2.2 4.4 2.9 4.3 3.5 4.2 3.8 3.8 8.5 7.1 5.8 3.9 6.5 3.8 12.4 5.9 11.5 4.3 13.2 3.9 14.8 3.3 16.5 2.7 18.1 1.8 14.7 0.7 18.7 0.1 18.9 -0.9 -7.5 -6.4 -18.8 0.4 -15.9 -0.3 -13.8 -1 -16 -1.8 -13 -2.2 -14.3 -3.2 -12.8 -3.8 -12.1 -4.6 -11.5 -5.5 -10.4 -6.2 -8.7 -6.6 -4.5 -4 -3.5 -3.7 -3.3 -4.2 -2.4 -3.7 -1.6 -3.2 -1.2 -3.7 -0.3 -3.8 0.8 -3.5 1.3 -2.3 1.7 -1.7 0 3.2z"/>
<path fill="#ff3000" stroke="#ff3000" stroke-width="0.7" d="M496.6 41.6l-1.7 1.9 -1.2 2.4 -0.6 3 0.2 3 0.9 3.5 2 4.2 2.4 3.7 2.9 3.7 3.9 4.2 4.5 4 8.7 6.6 10.4 6.2 11.5 5.5 12.1 4.6 12.8 3.8 14.3 3.2 13 2.2 16 1.8 13.8 1 15.9 0.3 18.8 -0.4 -8 -6.7 -17.1 0.1 -13.9 -0.6 -15.3 -1.3 -14 -2 -12.4 -2.4 -12.3 -3 -12.1 -3.9 -10.8 -4.2 -10.3 -4.9 -9.8 -5.8 -8.6 -6.2 -7.2 -6.4 -5.8 -6.8 -2.1 -3.4 -1.5 -2.9 -0.9 -3.4 -0.2 -3.3 0.7 -2.7 1.3 -2.1 0 3.3z"/>
<path fill="#ff2000" stroke="#ff2000" stroke-width="0.7" d="M496.6 38.5l-1.2 2.2 -0.5 2.2 0 2.6 0.6 2.6 1.4 3.4 1.9 3.2 5.2 6.5 6.7 6.4 8.8 6.6 9.9 6 11.9 5.8 10.8 4.2 12.1 3.9 12.3 3 12.4 2.4 14 2 15.3 1.3 13.9 0.6 17.1 -0.1 -8.5 -6.8 -13.4 -0.3 -13.2 -0.7 -12.4 -1.3 -15.3 -2.3 -10.6 -2.2 -12.9 -3.4 -8.8 -2.9 -10.7 -4.1 -9.5 -4.5 -8.6 -4.7 -8.8 -5.9 -7 -5.6 -6.6 -6.6 -4.2 -5.6 -1.5 -2.9 -0.9 -2.9 -0.2 -2.1 0.3 -2.2 0.5 -1.4 0 3.2z"/>
<path fill="#ff1000" stroke="#ff1000" stroke-width="0.7" d="M496.7 35.3l-0.5 2.1 0 2.4 0.5 2.3 1.2 2.8 3.9 5.9 6.2 6.5 7.9 6.5 7.4 5 10.3 5.9 9.8 4.6 10.7 4.1 8.8 2.9 12.9 3.4 10.6 2.2 15.3 2.3 12.4 1.3 13.2 0.7 13.4 0.3 -9.1 -7.1 -13.2 -0.7 -12.2 -1.1 -11.5 -1.5 -9.5 -1.7 -11.4 -2.5 -9.3 -2.5 -9.8 -3.2 -9.5 -3.7 -9.6 -4.4 -8.7 -4.6 -7.7 -4.8 -6.5 -4.7 -6.9 -6 -5.6 -6.4 -1.8 -2.8 -1.2 -2.8 -0.4 -2.1 0.1 -2.2 0 3.2z"/>
<path fill="#ff0000" stroke="#ff0000" stroke-width="0.7" d="M496.8 32.2l0.1 2.3 0.6 2.2 2.3 4.3 4.7 5.7 6.1 5.6 8.6 6.4 7.7 4.8 8.7 4.6 9.6 4.4 9.5 3.7 9.8 3.2 9.3 2.5 11.4 2.5 9.5 1.7 11.5 1.5 12.2 1.1 13.2 0.7 -9.8 -7.5 -19.3 -1.8 -11 -1.7 -10.3 -2 -9.6 -2.3 -9 -2.5 -8.4 -2.8 -10.3 -4.1 -7.7 -3.5 -8.2 -4.2 -6 -3.6 -7.4 -4.9 -7.8 -6.2 -5 -4.9 -3.4 -4.7 -1 -2.3 -0.5 -2 0 3.3z"/>
<path fill="#ef0000" stroke="#ef0000" stroke-width="0.7" d="M496.9 28.5l1.1 3.4 2.9 4.4 4.4 4.7 5.9 5 7 5 7.8 4.8 8.5 4.6 9.4 4.3 10.3 4.1 8.4 2.8 9 2.5 9.6 2.3 10.3 2 11 1.7 19.3 1.8 -11 -7.9 -19.1 -2.6 -16.4 -3.4 -17.6 -5.1 -15.5 -6 -7 -3.2 -8.8 -4.4 -8 -4.7 -5.6 -3.7 -6.1 -4.6 -4.3 -3.8 -3.6 -4 -1.9 -3.3 0 3.2z"/>
<path fill="#df0000" stroke="#df0000" stroke-width="0.7" d="M496.9 25.3l1.9 3.2 3.6 4 4.3 3.8 6.1 4.6 5.6 3.7 8 4.7 8.8 4.4 7 3.2 15.5 6 17.6 5.1 16.4 3.4 19.1 2.6 -12.3 -8.5 -13.6 -2.4 -15.5 -3.7 -14.2 -4.3 -15.2 -5.9 -14.7 -6.9 -13.1 -7.6 -8.7 -6.2 -4 -3.5 -2.6 -3 0 3.2z"/>
<path fill="#cf0000" stroke="#cf0000" stroke-width="0.7" d="M497 22.2l2.5 2.8 4 3.5 10.6 7.4 12.2 6.9 13.7 6.4 15.2 5.9 14.2 4.3 15.5 3.7 13.6 2.4 -14.6 -9.5 -10.9 -2.5 -9.7 -2.6 -11 -3.5 -10.3 -3.8 -14.2 -6.2 -12.9 -6.6 -10.9 -6.6 -7.1 -5.4 0 3.2z"/>
<path fill="#bf0000" stroke="#bf0000" stroke-width="0.7" d="M497.2 19.1l6.8 5.1 8.8 5.5 11.9 6.2 12.4 5.7 12.6 4.9 10.8 3.5 11.5 3.3 11.9 2.7 -18.4 -11.1 -19.3 -6 -17.4 -6.8 -18 -8.5 -7.5 -4.1 -6.4 -4 0 3.3z"/>
<path fill="#af0000" stroke="#af0000" stroke-width="0.7" d="M497.7 16.1l13.4 7.6 17.7 8.4 17.4 6.8 19.3 6 -27.2 -14.9 -21 -8.2 -20.4 -9.5 0 3.2z"/>
<path fill="#9f0000" stroke="#9f0000" stroke-width="0.7" d="M499.1 13.4l11.2 5.3 11.8 5.1 16.2 6.2 -6 -3 -16.5 -8.1 -18.9 -8.8 0 2.2z"/>
</g>
<path fill="none" stroke="#000" stroke-width="3.1" stroke-linejoin="round" d="M496.9 44.3 492.5 51.2 488 57.7 483.6 64 479.1 70 474.7 75.7 470.2 81.3 465.8 86.7 461.3 92 456.9 97.1 452.4 102.2 448 107.2 443.6 112.1 439.1 117 434.7 121.8 430.2 126.6 425.8 131.4 421.3 136.3 416.9 141.1 412.4 146 408 150.9 403.5 156 399.1 161 394.7 166.2 390.2 171.4 385.8 176.7 381.3 182.1 376.9 187.5 372.4 192.9 368 198.4 363.5 203.9 359.1 209.5 354.6 215.1 350.2 220.7 345.8 226.3 341.3 231.9 336.9 237.5 332.4 243.2 328 248.8 323.5 254.4 319.1 259.9 314.6 265.5 310.2 271 305.7 276.5 301.3 281.9 296.9 287.3 292.4 292.6 288 297.8 283.5 303 279.1 308.1 274.6 313.1M496.9 39.4 493.8 46.1 490.8 52.5 487.7 58.6 484.7 64.5 481.6 70.3 478.5 75.9 475.5 81.3 472.4 86.6 469.4 91.8 466.3 97 463.2 102.1 460.2 107.2 457.1 112.2 454.1 117.2 451 122.2 447.9 127.3 444.9 132.3 441.8 137.4 438.8 142.5 435.7 147.6 432.6 152.9 429.6 158.2 426.5 163.6 423.5 169 420.4 174.6 417.3 180.2 414.3 185.8 411.2 191.5 408.2 197.3 405.1 203.1 402 209 399 214.8 395.9 220.7 392.9 226.7 389.8 232.6 386.7 238.6 383.7 244.5 380.6 250.5 377.6 256.5 374.5 262.4 371.4 268.4 368.4 274.3 365.3 280.2 362.3 286 359.2 291.8 356.1 297.6 353.1 303.3 350 309 347 314.6 343.9 320.1M496.9 34.5 495.3 40.9 493.8 47 492.2 52.9 490.7 58.6 489.1 64.2 487.6 69.6 486 75 484.4 80.2 482.9 85.4 481.3 90.6 479.8 95.7 478.2 100.7 476.7 105.8 475.1 110.9 473.5 116 472 121 470.4 126.2 468.9 131.3 467.3 136.5 465.8 141.8 464.2 147.2 462.6 152.6 461.1 158.1 459.5 163.7 458 169.4 456.4 175.1 454.9 180.9 453.3 186.7 451.7 192.7 450.2 198.6 448.6 204.6 447.1 210.7 445.5 216.8 444 222.9 442.4 229 440.8 235.2 439.3 241.4 437.7 247.6 436.2 253.8 434.6 260 433.1 266.3 431.5 272.5 430 278.6 428.4 284.8 426.8 291 425.3 297.1 423.7 303.1 422.2 309.2 420.6 315.2 419.1 321.1M496.9 29.6 496.9 35.5 496.9 41.2 496.9 46.7 496.9 52.1 496.9 57.4 496.9 62.6 496.9 67.7 496.9 72.7 497 77.7 497 82.7 497 87.7 497 92.7 497 97.7 497 102.6 497 107.7 497 112.7 497 117.8 497 122.9 497 128.1 497 133.4 497 138.7 497 144.1 497 149.6 497 155.2 497 160.9 497.1 166.6 497.1 172.4 497.1 178.3 497.1 184.2 497.1 190.2 497.1 196.3 497.1 202.4 497.1 208.5 497.1 214.7 497.1 221 497.1 227.2 497.1 233.5 497.1 239.8 497.1 246.2 497.1 252.5 497.1 258.9 497.1 265.2 497.2 271.6 497.2 278 497.2 284.3 497.2 290.6 497.2 296.9 497.2 303.2 497.2 309.4 497.2 315.6M496.9 24.8 498.5 30 500 35.1 501.6 40.1 503.2 45 504.7 49.9 506.3 54.7 507.9 59.4 509.4 64.1 511 68.8 512.6 73.5 514.2 78.2 515.7 83 517.3 87.7 518.9 92.5 520.4 97.3 522 102.2 523.6 107.1 525.1 112.1 526.7 117.1 528.3 122.2 529.8 127.4 531.4 132.7 533 138.1 534.5 143.5 536.1 149.1 537.7 154.7 539.3 160.4 540.8 166.1 542.4 172 544 177.9 545.5 183.8 547.1 189.9 548.7 195.9 550.2 202.1 551.8 208.3 553.4 214.5 554.9 220.7 556.5 227.1 558.1 233.4 559.6 239.7 561.2 246.1 562.8 252.5 564.3 258.9 565.9 265.4 567.5 271.8 569.1 278.2 570.6 284.6 572.2 291 573.8 297.3 575.3 303.6M496.9 19.9 500 24.3 503 28.8 506.1 33.1 509.2 37.4 512.3 41.7 515.3 45.9 518.4 50.2 521.5 54.4 524.5 58.7 527.6 63 530.7 67.3 533.8 71.6 536.8 76 539.9 80.5 543 85 546 89.5 549.1 94.1 552.2 98.8 555.2 103.6 558.3 108.4 561.4 113.4 564.5 118.4 567.5 123.5 570.6 128.7 573.7 134 576.7 139.3 579.8 144.8 582.9 150.3 586 155.9 589 161.6 592.1 167.3 595.2 173.2 598.2 179.1 601.3 185 604.4 191 607.5 197.1 610.5 203.2 613.6 209.4 616.7 215.6 619.7 221.8 622.8 228.1 625.9 234.4 628.9 240.7 632 247.1 635.1 253.4 638.2 259.8 641.2 266.2 644.3 272.5 647.4 278.9 650.4 285.2M496.9 15 501.4 18.6 505.8 22.1 510.3 25.7 514.7 29.3 519.2 32.9 523.6 36.5 528.1 40.1 532.5 43.7 537 47.4 541.5 51.2 545.9 54.9 550.4 58.8 554.8 62.7 559.3 66.7 563.7 70.7 568.2 74.8 572.6 79 577.1 83.3 581.5 87.7 586 92.1 590.5 96.7 594.9 101.3 599.4 106 603.8 110.9 608.3 115.8 612.7 120.8 617.2 125.9 621.6 131 626.1 136.3 630.6 141.7 635 147.1 639.5 152.6 643.9 158.2 648.4 163.8 652.8 169.5 657.3 175.3 661.7 181.2 666.2 187.1 670.7 193 675.1 199.1 679.6 205.1 684 211.2 688.5 217.3 692.9 223.5 697.4 229.7 701.8 235.9 706.3 242.1 710.7 248.3 715.2 254.5 719.7 260.7M468.6 80.6 469.5 79.8 470.5 79 471.5 78.2 472.5 77.4 473.6 76.6 474.7 75.7 475.8 74.9 476.9 74 478 73.1 479.2 72.2 480.4 71.2 481.6 70.3 482.8 69.3 484.1 68.3 485.3 67.3 486.6 66.3 487.8 65.2 489.1 64.2 490.4 63.1 491.7 62 493 60.9 494.3 59.7 495.6 58.6 496.9 57.4 498.2 56.2 499.5 55 500.9 53.7 502.2 52.5 503.5 51.2 504.7 49.9 506 48.6 507.3 47.2 508.6 45.9 509.8 44.5 511 43.1 512.3 41.7 513.5 40.3 514.6 38.8 515.8 37.4 517 35.9 518.1 34.4 519.2 32.9 520.3 31.3 521.3 29.8 522.3 28.2 523.3 26.6 524.3 25 525.2 23.4M440.3 106.2 442.2 105.6 444.1 105 446.1 104.3 448.2 103.7 450.3 102.9 452.4 102.2 454.7 101.4 456.9 100.6 459.2 99.8 461.5 98.9 463.9 98 466.3 97 468.7 96 471.2 95 473.7 93.9 476.2 92.9 478.8 91.7 481.3 90.6 483.9 89.3 486.5 88.1 489.1 86.8 491.7 85.5 494.3 84.1 497 82.7 499.6 81.3 502.2 79.8 504.8 78.3 507.4 76.8 510 75.2 512.6 73.5 515.1 71.9 517.7 70.2 520.2 68.4 522.7 66.7 525.2 64.8 527.6 63 530 61.1 532.4 59.2 534.7 57.2 537 55.2 539.3 53.2 541.5 51.2 543.6 49.1 545.7 46.9 547.8 44.8 549.8 42.6 551.7 40.4 553.6 38.2M412 129.3 414.8 129 417.7 128.6 420.7 128.2 423.8 127.7 427 127.2 430.2 126.6 433.5 126 436.9 125.4 440.3 124.7 443.8 123.9 447.4 123.1 451 122.2 454.7 121.3 458.4 120.4 462.1 119.3 465.9 118.3 469.7 117.1 473.5 116 477.4 114.7 481.3 113.4 485.2 112.1 489.1 110.6 493.1 109.2 497 107.7 500.9 106.1 504.8 104.4 508.8 102.7 512.7 101 516.6 99.2 520.4 97.3 524.3 95.4 528.1 93.4 531.9 91.4 535.6 89.3 539.3 87.2 543 85 546.6 82.7 550.1 80.4 553.6 78.1 557.1 75.7 560.4 73.2 563.7 70.7 567 68.2 570.1 65.6 573.2 62.9 576.2 60.3 579.1 57.5 581.9 54.8M383.7 152 387.5 152 391.4 151.9 395.4 151.7 399.5 151.5 403.7 151.3 408 150.9 412.4 150.6 416.9 150.1 421.5 149.6 426.1 149 430.9 148.4 435.7 147.6 440.6 146.8 445.5 146 450.5 145.1 455.5 144.1 460.6 143 465.8 141.8 470.9 140.6 476.1 139.3 481.3 137.9 486.5 136.5 491.8 135 497 133.4 502.3 131.7 507.5 130 512.7 128.1 517.9 126.2 523.1 124.3 528.3 122.2 533.4 120.1 538.5 117.9 543.5 115.6 548.5 113.3 553.4 110.9 558.3 108.4 563.1 105.9 567.9 103.3 572.5 100.6 577.1 97.8 581.6 95 586 92.1 590.3 89.2 594.5 86.2 598.6 83.1 602.6 80 606.5 76.8 610.3 73.6M355.4 176 360.1 176.3 365 176.6 370 176.7 375.1 176.8 380.4 176.8 385.8 176.7 391.3 176.6 396.9 176.3 402.6 176 408.5 175.6 414.4 175.1 420.4 174.6 426.5 173.9 432.7 173.2 438.9 172.4 445.2 171.5 451.6 170.5 458 169.4 464.4 168.2 470.9 166.9 477.4 165.5 483.9 164.1 490.5 162.5 497 160.9 503.6 159.1 510.1 157.3 516.7 155.4 523.2 153.4 529.7 151.3 536.1 149.1 542.5 146.8 548.9 144.4 555.2 141.9 561.4 139.4 567.6 136.7 573.7 134 579.7 131.1 585.6 128.2 591.4 125.2 597.2 122.2 602.8 119 608.3 115.8 613.7 112.5 618.9 109.1 624.1 105.6 629.1 102.1 633.9 98.5 638.6 94.8M327.1 201.4 332.8 202.1 338.6 202.6 344.6 203.1 350.7 203.4 357.1 203.7 363.5 203.9 370.2 204 376.9 204 383.8 204 390.8 203.8 397.9 203.5 405.1 203.1 412.4 202.6 419.8 202 427.3 201.3 434.9 200.5 442.5 199.6 450.2 198.6 457.9 197.5 465.7 196.3 473.5 194.9 481.4 193.5 489.2 191.9 497.1 190.2 504.9 188.4 512.8 186.5 520.6 184.5 528.4 182.4 536.2 180.2 544 177.9 551.6 175.4 559.3 172.9 566.8 170.2 574.3 167.4 581.7 164.6 589 161.6 596.2 158.5 603.3 155.3 610.3 152.1 617.2 148.7 624 145.2 630.6 141.7 637 138 643.3 134.2 649.5 130.4 655.5 126.5 661.3 122.5 667 118.4M298.8 227.4 305.4 228.4 312.2 229.3 319.2 230.1 326.4 230.8 333.8 231.4 341.3 231.9 349 232.3 356.9 232.6 364.9 232.8 373.1 232.8 381.4 232.8 389.8 232.6 398.3 232.3 407 231.9 415.7 231.4 424.5 230.7 433.4 229.9 442.4 229 451.4 228 460.5 226.9 469.6 225.6 478.8 224.2 487.9 222.6 497.1 221 506.3 219.2 515.4 217.2 524.6 215.2 533.7 213 542.8 210.7 551.8 208.3 560.8 205.7 569.7 203 578.5 200.2 587.2 197.3 595.9 194.2 604.4 191 612.8 187.7 621.1 184.3 629.2 180.8 637.3 177.2 645.1 173.4 652.8 169.5 660.4 165.6 667.7 161.5 674.9 157.3 681.9 153.1 688.7 148.7 695.3 144.2M270.5 253.1 278 254.5 285.8 255.8 293.8 257 302 258.1 310.5 259.1 319.1 259.9 327.9 260.7 336.9 261.3 346.1 261.8 355.4 262.1 364.9 262.3 374.5 262.4 384.3 262.4 394.1 262.2 404.1 261.9 414.2 261.4 424.4 260.8 434.6 260 444.9 259.1 455.3 258.1 465.7 256.9 476.2 255.6 486.7 254.1 497.1 252.5 507.6 250.8 518.1 248.8 528.5 246.8 539 244.6 549.3 242.2 559.6 239.7 569.9 237.1 580.1 234.3 590.1 231.4 600.1 228.4 610 225.2 619.7 221.8 629.4 218.4 638.8 214.8 648.1 211 657.3 207.2 666.3 203.2 675.1 199.1 683.7 194.8 692.1 190.5 700.4 186 708.3 181.4 716.1 176.7 723.6 171.9M242.2 277.8 250.7 279.7 259.4 281.4 268.4 283.1 277.7 284.6 287.2 286 296.9 287.3 306.8 288.4 316.9 289.4 327.2 290.2 337.7 290.9 348.4 291.4 359.2 291.8 370.2 292.1 381.3 292.2 392.5 292.1 403.9 291.9 415.3 291.5 426.8 291 438.4 290.3 450.1 289.4 461.8 288.4 473.6 287.2 485.4 285.8 497.2 284.3 509 282.6 520.7 280.8 532.5 278.8 544.2 276.6 555.9 274.3 567.5 271.8 579 269.1 590.5 266.3 601.8 263.3 613 260.2 624.1 256.9 635.1 253.4 645.9 249.9 656.6 246.1 667.1 242.2 677.4 238.2 687.5 234 697.4 229.7 707.1 225.2 716.5 220.6 725.8 215.9 734.8 211.1 743.5 206.1 752 201"/>
<path fill="none" stroke="#000" stroke-width="3.1" d="M496.9 49.2 496.9 10.1"/>
<path fill="none" stroke="#000" stroke-width="2.3" stroke-linejoin="round" d="M496.9 49.2 491.2 56.1 485.6 62.7 479.9 69 474.3 74.9 468.6 80.6 462.9 86.1 457.3 91.3 451.6 96.4 446 101.4 440.3 106.2 434.6 111 429 115.6 423.3 120.2 417.7 124.8 412 129.3 406.3 133.8 400.7 138.3 395 142.9 389.4 147.4 383.7 152 378 156.7 372.4 161.4 366.7 166.2 361.1 171.1 355.4 176 349.7 181 344.1 186.1 338.4 191.2 332.8 196.3 327.1 201.4 321.4 206.6 315.8 211.8 310.1 217 304.5 222.2 298.8 227.4 293.1 232.6 287.5 237.7 281.8 242.9 276.2 248 270.5 253.1 264.8 258.1 259.2 263.1 253.5 268.1 247.9 273 242.2 277.8 236.5 282.5 230.9 287.2 225.2 291.8 219.6 296.3 213.9 300.6"/>
<path fill="none" stroke="#000" stroke-width="3.9" stroke-linejoin="round" d="M496.9 10.1 502.6 12.7 508.2 15.3 513.9 18 519.6 20.7 525.2 23.4 530.9 26.3 536.6 29.1 542.2 32.1 547.9 35.1 553.6 38.2 559.3 41.3 564.9 44.6 570.6 47.9 576.3 51.3 581.9 54.8 587.6 58.3 593.3 62 598.9 65.8 604.6 69.6 610.3 73.6 615.9 77.6 621.6 81.8 627.3 86 632.9 90.4 638.6 94.8 644.3 99.3 649.9 104 655.6 108.7 661.3 113.5 667 118.4 672.6 123.4 678.3 128.5 684 133.6 689.6 138.9 695.3 144.2 701 149.6 706.6 155.1 712.3 160.6 718 166.3 723.6 171.9 729.3 177.7 735 183.4 740.6 189.3 746.3 195.1 752 201 757.6 207 763.3 212.9 769 218.9 774.6 224.8 780.3 230.8"/>
<path fill="none" stroke="#000" stroke-width="5.0" stroke-linejoin="round" stroke-linecap="round" d="M213.9 300.6 223.3 303.1 233 305.4 243 307.5 253.3 309.5 263.8 311.4 274.6 313.1 285.7 314.7 296.9 316.1 308.4 317.3 320 318.4 331.9 319.3 343.9 320.1 356.1 320.7 368.4 321.1 380.9 321.4 393.5 321.5 406.2 321.4 419.1 321.1 431.9 320.6 444.9 320 457.9 319.2 471 318.2 484.1 317 497.2 315.6 510.3 314.1 523.4 312.4 536.5 310.4 549.5 308.4 562.4 306.1 575.3 303.6 588.1 301 600.8 298.2 613.4 295.2 625.9 292 638.3 288.7 650.4 285.2 662.5 281.5 674.3 277.7 686 273.7 697.4 269.5 708.7 265.2 719.7 260.7 730.4 256.1 741 251.3 751.2 246.4 761.2 241.4 770.9 236.2 780.3 230.8"/>
<path fill="none" stroke="#262626" stroke-width="1.5" stroke-linejoin="miter" d="M157.3 355L497.4 500.6L837 355M157.3 355L157.3 148.2L496.9 2.6L837 148.2L837 355"/>
<path fill="none" stroke="#262626" stroke-width="1.4" d="M157.3 355L149 358.5M837 355L845.3 358.5M171.5 361.1L167.2 362.9M822.9 361.1L827.2 362.9M185.6 367.1L181.3 369M808.7 367.1L813 369M199.8 373.2L195.5 375.1M794.5 373.2L798.9 375M214 379.3L209.7 381.1M780.4 379.3L784.7 381.1M228.2 385.3L219.9 388.9M766.2 385.3L774.5 388.9M242.3 391.4L238 393.3M752.1 391.4L756.4 393.2M256.5 397.5L252.2 399.3M738 397.5L742.3 399.3M270.7 403.5L266.3 405.4M723.8 403.5L728.1 405.4M284.8 409.6L280.5 411.5M709.6 409.6L714 411.4M299 415.7L290.7 419.2M695.5 415.7L703.8 419.2M313.2 421.7L308.9 423.6M681.4 421.7L685.7 423.6M327.4 427.8L323 429.7M667.2 427.8L671.5 429.6M341.5 433.9L337.2 435.7M653 433.9L657.4 435.7M355.7 439.9L351.4 441.8M638.9 439.9L643.2 441.8M369.9 446L361.6 449.5M624.8 446L633 449.5M384 452.1L379.7 453.9M610.6 452.1L614.9 453.9M398.2 458.1L393.9 460M596.4 458.1L600.8 460M412.4 464.2L408.1 466.1M582.3 464.2L586.6 466M426.5 470.3L422.2 472.1M568.1 470.3L572.5 472.1M440.7 476.3L432.4 479.9M554 476.3L562.3 479.9M454.9 482.4L450.6 484.3M539.9 482.4L544.2 484.2M469.1 488.5L464.7 490.3M525.7 488.5L530 490.3M483.2 494.5L478.9 496.4M511.5 494.5L515.9 496.4M497.4 500.6L493.1 502.5M497.4 500.6L501.7 502.4M157.3 355L149 351.5M157.3 336.2L153 334.4M157.3 317.4L153 315.6M157.3 298.6L153 296.8M157.3 279.8L153 278M157.3 261L149 257.5M157.3 242.2L153 240.4M157.3 223.4L153 221.6M157.3 204.6L153 202.8M157.3 185.8L153 184M157.3 167L149 163.5M157.3 148.2L153 146.4"/>
<path fill="none" stroke="#dcdcdc" stroke-width="1.3" d="M1362.3 239.9L1362.3 33.1M1504 239.9L1504 33.1M1362.3 239.9L1702.4 385.5M1504 239.9L1164.4 385.5M1291.6 270.3L1291.6 63.5M1574.8 270.3L1574.8 63.5M1291.6 270.3L1631.7 415.9M1574.8 270.3L1235.2 415.9M1220.8 300.6L1220.8 93.8M1645.7 300.6L1645.7 93.8M1220.8 300.6L1560.9 446.2M1645.7 300.6L1306.1 446.2M1150.1 330.9L1150.1 124.1M1716.5 330.9L1716.5 124.1M1150.1 330.9L1490.2 476.5M1716.5 330.9L1376.9 476.5M1433.1 115.6L1093.5 261.2M1433.1 115.6L1773.2 261.2M1433.1 21.6L1093.5 167.2M1433.1 21.6L1773.2 167.2"/>
<path fill="none" stroke="#262626" stroke-width="1.5" d="M1433.1 209.6L1093.5 355.2M1433.1 209.6L1773.2 355.2M1433.1 209.6L1433.1 2.8"/>
<g opacity="0.7">
<path fill="#0010ff" stroke="#0010ff" stroke-width="0.7" d="M1150.1 302l1.3 0.4 -1 -0.7z"/>
<path fill="#0020ff" stroke="#0020ff" stroke-width="0.7" d="M1157.2 295.8l-6.8 5.9 1 0.7 12.9 3.7 14.8 3.8 -11.2 -7.2 -10.2 -7.3z"/>
<path fill="#0030ff" stroke="#0030ff" stroke-width="0.7" d="M1164.2 289.7l-6.5 5.7 10.2 7.3 11.2 7.2 30.3 6.4 -11.7 -6.1 -11.8 -7 -10.9 -7 -9.9 -7.2z"/>
<path fill="#0040ff" stroke="#0040ff" stroke-width="0.7" d="M1171.3 283.7l-6.2 5.3 8.3 6.1 8.7 5.8 7.6 4.7 11.8 6.6 7.9 4.1 32.7 5.3 -21.2 -9.6 -16.8 -8.8 -15.7 -9.5 -9.4 -6.5 -6.2 -4.8z"/>
<path fill="#0050ff" stroke="#0050ff" stroke-width="0.7" d="M1178.4 277.7l-5.6 4.7 9.4 7.1 12.9 8.4 13.1 7.6 12.7 6.5 21.2 9.6 34.8 4 -12.8 -4.7 -14.8 -5.8 -13.8 -6.1 -12.9 -6.3 -11.9 -6.5 -11 -6.6 -10.1 -6.8 -9 -7z"/>
<path fill="#0060ff" stroke="#0060ff" stroke-width="0.7" d="M1187.8 269.8l-7.2 6 10.7 8.2 12.6 8.2 14.6 8.4 17 8.4 18.7 8.1 22.7 8.5 36.8 2.5 -19.8 -5.9 -18.7 -6.4 -17.5 -6.8 -16.5 -7.3 -14.7 -7.4 -13.6 -7.7 -12.7 -8.4 -11.6 -9z"/>
<path fill="#0070ff" stroke="#0070ff" stroke-width="0.7" d="M1194.9 263.9l-6.3 5.3 11.6 9 12.7 8.4 13.6 7.7 15 7.5 16.2 7.2 11.1 4.4 15.7 5.6 15.5 5.1 13.7 4 38.4 1 -26.4 -6.4 -21.9 -6.4 -20.9 -7 -23.1 -9.1 -17.4 -8.1 -18.5 -10 -13.6 -8.9 -8.4 -6.2 -5.3 -4.5z"/>
<path fill="#0080ff" stroke="#0080ff" stroke-width="0.7" d="M1204.3 256.1l-7.7 6.4 11.1 8.9 14.4 9.5 16.8 9.4 16.5 8 18.2 7.5 18.4 6.7 19 6 20.4 5.7 20.7 4.9 22.5 -0.1 17.2 -0.4 -28.6 -5.5 -28.9 -6.8 -26.8 -7.7 -25.6 -9 -12.5 -5 -11.3 -5 -9.3 -4.6 -11.2 -5.9 -10.3 -6.2 -7.7 -5.2 -7.3 -5.4 -7.7 -6.4z"/>
<path fill="#008fff" stroke="#008fff" stroke-width="0.7" d="M1211.4 250.2l-6.8 5.7 10.5 8.6 12.2 8.4 13.9 8.2 16.9 8.5 20.3 8.7 19.1 6.9 20.5 6.5 21.9 6 23.3 5.4 28.6 5.5 21.9 -1.1 18.8 -1.2 -34.9 -5 -32.8 -6.3 -16.6 -3.8 -16.3 -4.3 -15.6 -4.5 -14.8 -4.8 -13.9 -5.1 -13.1 -5.4 -12.2 -5.5 -11.3 -5.8 -11.1 -6.4 -11.2 -7.2 -8.9 -6.6 -7.3 -6.3z"/>
<path fill="#009fff" stroke="#009fff" stroke-width="0.7" d="M1218.5 244.2l-6 5.1 6.3 5.4 6.5 5 8.8 6.1 6.5 4.1 17.9 9.8 16 7.4 22.3 8.8 19.5 6.5 26.4 7.4 28.4 6.5 26.5 5 29.3 4.3 5.6 0.7 20.5 -1.9 20.7 -2.2 -20.9 -1.8 -19.4 -2.1 -19.5 -2.6 -22.3 -3.7 -18.7 -3.6 -16.8 -3.7 -21.2 -5.6 -15 -4.4 -15.3 -5.2 -16.7 -6.3 -14.1 -6.1 -13.3 -6.6 -12.3 -7 -10.2 -6.6 -10.3 -7.7 -7.4 -6.5z"/>
<path fill="#00afff" stroke="#00afff" stroke-width="0.7" d="M1225.6 238.2l-5.3 4.5 7.4 6.5 9.7 7.2 9.7 6.4 9.9 5.8 18.6 9.3 20.8 8.6 23.5 8.2 20.4 5.9 26.9 6.6 29.1 5.7 30.7 4.6 32.3 3.5 14.4 1.2 18.5 -2.5 22.9 -3.5 -23.9 -0.9 -19.7 -1.2 -25.6 -2.4 -18.7 -2.2 -20.4 -3 -21.4 -3.8 -21.6 -4.6 -20.9 -5.3 -19.5 -5.8 -18.2 -6.3 -16.6 -6.7 -14.2 -6.6 -14.7 -7.9 -12.1 -7.6 -10.6 -7.8 -9.1 -7.9z"/>
<path fill="#00bfff" stroke="#00bfff" stroke-width="0.7" d="M1235 230l-7.1 6.2 8.2 7.2 8.7 6.6 11.4 7.4 10.1 5.8 10.7 5.5 11.1 5.1 21.5 8.5 23.4 7.7 25.4 6.8 27.5 6 32.1 5.4 34.2 4.2 32.4 2.5 30.5 1.3 21.9 -4 19.2 -3.9 -27.2 0.3 -24.7 -0.6 -24.9 -1.2 -24 -2 -28 -3.2 -23.3 -3.5 -22.3 -4.2 -21.1 -4.9 -19.8 -5.3 -18.5 -5.9 -20.6 -7.7 -15.9 -7 -13.9 -7 -15.2 -9.2 -10.4 -7.5 -11.1 -9.6z"/>
<path fill="#00cfff" stroke="#00cfff" stroke-width="0.7" d="M1242.1 223.8l-6.8 6 2 1.9 9.1 7.7 10.4 7.5 12 7.4 12.5 6.6 8.3 4 12.2 5.2 11.8 4.6 13.3 4.6 14 4.4 14.7 4.1 26.2 6.1 16.6 3.2 17.2 2.8 29.9 3.9 33.9 3 16.7 0.9 19.7 0.7 19.9 0.2 20.5 -0.3 18.3 -4.2 22.1 -5.7 -27 1.7 -26.4 0.7 -29.7 -0.2 -25.5 -1 -24.8 -1.8 -29.8 -3.2 -22.9 -3.4 -27.1 -5.1 -25.3 -6 -19.9 -5.8 -20.6 -7.1 -19.5 -8 -17.3 -8.5 -15 -8.8 -12.8 -9.2 -10.5 -9.2z"/>
<path fill="#00dfff" stroke="#00dfff" stroke-width="0.7" d="M1249.1 217.5l-6.6 6 4 3.7 11.4 9.2 10.7 7.3 12.2 7 13.2 6.7 11.6 5.1 12 4.7 12.7 4.6 13.5 4.3 14.3 4 14.9 3.7 29.7 6.1 19.1 3.1 17.4 2.3 18 2 18.3 1.5 18.8 1.1 19.2 0.7 32.5 0.2 26.3 -0.9 24.3 -1.5 19.8 -5.6 19.2 -6.2 -28.1 3.2 -32.4 2.4 -25.8 0.9 -31.8 0 -31 -1.2 -24.1 -1.8 -29 -3.2 -27.6 -4.4 -25.9 -5.2 -24.1 -6.2 -22.1 -6.8 -20.9 -7.9 -10.1 -4.4 -9.3 -4.5 -7.3 -3.8 -9.6 -5.6 -7.4 -4.8 -7.3 -5.3 -6.6 -5.3 -5.8 -5.4z"/>
<path fill="#00efff" stroke="#00efff" stroke-width="0.7" d="M1253.9 213.2l-4.5 4.1 5.8 5.4 9 7.1 10.2 7 11.7 6.9 13.1 6.7 13.6 6 12.6 4.9 12.5 4.4 13.3 4.1 14 3.9 14.7 3.6 15.3 3.2 16 3 16.5 2.6 17.1 2.2 17.6 1.8 18 1.5 18.4 1 18.7 0.5 19 0.2 19.2 -0.3 19.4 -0.8 32.4 -2.4 28.1 -3.2 20.3 -7.2 16.8 -6.5 -27.6 4.6 -29.5 3.8 -31.6 2.8 -31.6 1.5 -31.1 0.1 -30.4 -1 -32.6 -2.5 -30.4 -3.8 -16.1 -2.6 -14.2 -2.7 -25.6 -5.8 -13.7 -3.7 -12 -3.6 -21.1 -7.5 -11.1 -4.6 -10.3 -4.7 -9.5 -4.8 -8.8 -5 -8 -5 -7.3 -5.1 -8.5 -6.9 -5.6 -5.2z"/>
<path fill="#00ffff" stroke="#00ffff" stroke-width="0.7" d="M1260.9 206.7l-4.8 4.5 7.6 6.9 8.9 6.9 12.9 8.4 11.9 6.6 13.2 6.4 13.7 5.7 12.7 4.7 12.5 4.2 17.9 5.1 14.2 3.5 16 3.5 19.2 3.6 16.5 2.5 16.8 2.1 19.2 1.9 21.6 1.5 18.2 0.8 18.4 0.3 18.7 -0.1 19.1 -0.6 18.7 -1 20.6 -1.6 17.3 -1.9 18.9 -2.4 31.9 -5.3 19.7 -8.6 15 -7.1 -29.6 6.8 -30.1 5.5 -18.3 2.7 -16.4 1.9 -33 2.9 -30.8 1.3 -18.3 0.2 -17.4 -0.3 -18.4 -0.7 -15.6 -0.9 -29.9 -2.9 -16.3 -2.1 -15.7 -2.5 -15.1 -2.8 -14.6 -3.1 -13.9 -3.4 -13.2 -3.7 -12.6 -3.9 -11.8 -4.1 -11.1 -4.3 -10.4 -4.5 -11.8 -5.7 -9.6 -5.3 -7.9 -4.8 -9.5 -6.6 -7.1 -5.8 -6.3 -6z"/>
<path fill="#10ffef" stroke="#10ffef" stroke-width="0.7" d="M1268 200.2l-5.3 4.9 6.3 6 7.1 5.8 10.8 7.4 12.3 7.2 12.4 6.3 13.7 6 15 5.7 12 4 17.2 5.1 13.7 3.5 16.1 3.6 18.3 3.4 15.7 2.5 16.3 2.1 16.7 1.8 17.2 1.3 17.5 1 17.9 0.5 18.1 0.1 18.3 -0.3 18.5 -0.8 18.5 -1.2 18.6 -1.7 18.5 -2.2 18.3 -2.7 18.7 -3.2 23.2 -4.8 17.8 -4.3 9.1 -4.7 -4.8 -4.4 -16.8 4.4 -17.2 3.9 -17.6 3.4 -17.7 3 -18 2.6 -18.1 2 -18.1 1.7 -18.2 1.1 -29.9 0.9 -29.5 -0.3 -32.5 -1.7 -29 -2.9 -15.8 -2.1 -14.8 -2.4 -26.5 -5.4 -16 -4 -12.8 -3.6 -12.1 -3.8 -11.4 -4.1 -10.7 -4.2 -10.2 -4.4 -9 -4.4 -11.3 -6.2 -9.9 -6.3 -6.7 -4.8 -5.9 -4.8 -6.9 -6.6z"/>
<path fill="#20ffdf" stroke="#20ffdf" stroke-width="0.7" d="M1275.1 193.6l-6 5.5 5 4.9 5.7 4.9 11.1 8 10.6 6.5 14.4 7.4 13.1 5.8 14.4 5.6 11.7 4 12.4 3.8 16.1 4.3 15.1 3.5 14.5 2.9 15 2.6 19.1 2.7 18 2 16.7 1.4 17.1 1 17.4 0.6 17.6 0.2 17.9 -0.3 30.1 -1.4 18.2 -1.5 18.1 -1.9 29.9 -4.2 17.7 -3.2 17.4 -3.6 28.3 -7 -6.5 -6 -16.6 4.2 -16.8 3.8 -17.2 3.3 -17.5 2.9 -17.6 2.4 -18.6 2 -22.8 1.8 -17.6 0.9 -29.2 0.5 -28.5 -0.6 -27.7 -1.8 -26.5 -2.8 -29.8 -4.6 -25.7 -5.3 -15.2 -3.9 -12.3 -3.5 -22.6 -7.7 -10.3 -4.1 -10.7 -4.8 -10.6 -5.3 -7.9 -4.5 -8 -5.1 -7.9 -5.7 -5.6 -4.7 -6.5 -6.4z"/>
<path fill="#30ffcf" stroke="#30ffcf" stroke-width="0.7" d="M1279.8 189.1l-4.3 4 6.5 6.4 7.6 6.3 8.9 6.2 10.2 6 11.4 5.9 14.3 6.4 12.2 4.7 11.2 3.9 15.9 4.9 12.8 3.4 14.9 3.5 17.2 3.4 14.7 2.5 15.3 2.1 15.8 1.8 16.2 1.5 16.5 1 17 0.7 17.2 0.2 17.4 -0.1 29.4 -1.3 17.8 -1.3 17.3 -1.8 29.8 -4 17.3 -3.1 16.5 -3.3 28.4 -6.9 -6.4 -6 -16.2 4.1 -16.6 3.6 -16.9 3.2 -17.1 2.7 -17.3 2.3 -17.3 1.8 -17.4 1.4 -20.6 1.1 -25.2 0.5 -29.5 -0.6 -30.5 -2 -26.1 -2.9 -29 -4.6 -25.3 -5.4 -14 -3.7 -11.9 -3.4 -21.7 -7.5 -19.1 -8.2 -11.2 -5.7 -7.6 -4.4 -8.8 -5.7 -6.3 -4.8 -5.4 -4.6 -5.9 -6.1z"/>
<path fill="#40ffbf" stroke="#40ffbf" stroke-width="0.7" d="M1286.9 182.5l-5 4.7 5.9 6.1 5.4 4.6 10.4 7.6 9.7 5.9 10.9 5.7 12.1 5.6 9.9 4 14.2 5 15.4 4.8 12.2 3.3 13.9 3.4 16.8 3.4 29.4 4.7 31 3.3 16.1 1.1 16.5 0.7 16.8 0.4 17 -0.1 28.7 -1.1 31.9 -2.6 31.6 -4.1 29.8 -5.4 15.1 -3.3 16.2 -4.1 -6.2 -5.9 -16 3.9 -16.3 3.5 -16.6 3.1 -16.8 2.5 -16.9 2.2 -17 1.7 -17 1.3 -22.2 1 -28.1 0.2 -27 -0.8 -26.1 -2 -25 -2.9 -28.1 -4.6 -25.3 -5.6 -24 -6.7 -20.9 -7.3 -10.4 -4.3 -10.7 -5 -7.9 -4.2 -8 -4.8 -7.8 -5.3 -5.7 -4.4 -5.9 -5.5 -4.6 -5z"/>
<path fill="#50ffaf" stroke="#50ffaf" stroke-width="0.7" d="M1294 175.9l-5.7 5.3 4.1 4.5 4.7 4.5 9.4 7.4 8.9 5.7 12.1 6.7 11.4 5.4 12.5 5.1 11.6 4.1 14.8 4.7 11.8 3.3 12.4 3 16.3 3.5 15 2.7 14.3 2.1 30.1 3.4 31.7 1.9 16.3 0.4 16.6 0 28.1 -0.9 16.9 -1.1 17 -1.6 28.2 -3.6 16.7 -2.7 16.5 -3.2 26.9 -6.3 -6.2 -5.9 -15.7 3.8 -16.1 3.3 -16.3 2.9 -16.4 2.5 -16.6 2 -16.6 1.6 -16.6 1.2 -16.6 0.7 -27.1 0.3 -26.5 -0.8 -25.6 -1.8 -24.9 -2.8 -27 -4.4 -25.4 -5.4 -22.9 -6.4 -10.6 -3.4 -12.6 -4.7 -9.6 -4 -8.4 -3.9 -9.8 -5.3 -7.2 -4.3 -6.2 -4.3 -7.2 -5.7 -6 -5.8 -3.7 -4.4z"/>
<path fill="#60ff9f" stroke="#60ff9f" stroke-width="0.7" d="M1301 169.4l-6.2 5.8 6.5 7.3 8.5 7.2 8.1 5.7 11.8 6.9 10.8 5.3 11.9 5.1 9.7 3.7 14 4.6 11.1 3.3 14.6 3.8 13.9 3 17.6 3.3 13.8 2.2 29.2 3.4 31.2 2.1 31.7 0.5 30.4 -0.9 30.2 -2.3 27.6 -3.4 16.4 -2.6 16.2 -3 26.4 -6.1 -6.1 -5.8 -15.5 3.6 -15.7 3.2 -16 2.8 -16.2 2.3 -16.3 1.9 -16.2 1.4 -16.3 1.1 -16.1 0.6 -26.5 0.2 -25.8 -0.9 -24.8 -1.9 -25.5 -3.1 -24.8 -4.1 -24.4 -5.4 -22.1 -6.2 -11.4 -3.9 -11.2 -4.3 -8.7 -3.7 -8.9 -4.4 -8.8 -4.8 -6.4 -4.1 -6.8 -4.9 -5.8 -4.8 -4.2 -4.2 -4.6 -5.7z"/>
<path fill="#70ff8f" stroke="#70ff8f" stroke-width="0.7" d="M1305.8 165.1l-4.5 4.1 4.6 5.7 5.8 5.6 8 6.3 8.5 5.5 9.7 5.4 10.7 5.2 11.8 4.9 10.9 3.9 22.8 6.9 14 3.5 12.3 2.6 12.9 2.5 16.1 2.5 15.9 2.1 14.5 1.4 30.1 1.9 31.4 0.5 26.8 -0.8 16.3 -1.1 16.2 -1.4 27.1 -3.4 26.7 -4.6 25.9 -5.8 -6 -5.8 -15.3 3.4 -15.5 3.1 -15.7 2.6 -15.9 2.2 -15.9 1.7 -15.9 1.4 -15.9 0.9 -17.2 0.6 -24.4 -0.1 -25 -1 -24.9 -2 -25.4 -3.3 -26.4 -4.7 -23.2 -5.4 -20.8 -6.3 -18.4 -6.9 -8.2 -3.7 -9.8 -4.9 -6.9 -4 -6.1 -4 -7.1 -5.4 -4.5 -4.1 -4 -4.3 -3.9 -5.4z"/>
<path fill="#80ff80" stroke="#80ff80" stroke-width="0.7" d="M1312.8 158.7l-4.8 4.4 3.9 5.4 4 4.3 7.9 6.8 7.7 5.3 9 5.4 9.8 4.9 11.1 4.9 9.1 3.5 13.1 4.4 10.5 3.1 14.1 3.6 12.7 2.8 26.4 4.7 26.2 3.4 29 2.2 30.4 0.9 31.3 -0.7 26.5 -1.8 28.3 -3.1 29.7 -4.9 25.6 -5.5 -6 -5.8 -15 3.3 -15.3 2.9 -15.4 2.4 -15.6 2.1 -15.6 1.6 -15.6 1.2 -15.5 0.8 -19.1 0.5 -26.4 -0.3 -24.1 -1.3 -23.1 -2.2 -21.9 -3 -23.8 -4.4 -22.8 -5.6 -20 -6.1 -10.2 -3.8 -10 -4.2 -7.6 -3.7 -7.8 -4.2 -7.4 -4.6 -5.5 -3.9 -4.7 -4 -4.1 -4 -3.9 -4.6 -3.1 -4.9z"/>
<path fill="#8fff70" stroke="#8fff70" stroke-width="0.7" d="M1319.9 152.4l-5.1 4.5 3.1 4.9 3.9 4.6 6.5 6.1 7 5.2 8.2 5.2 9.3 5 10.5 4.8 9.7 3.9 20.7 6.8 23.8 6.1 15.8 3.2 12.4 2.2 26.4 3.5 28.1 2.3 29.6 1 30.5 -0.5 29.8 -1.9 27.3 -3 25.7 -4.1 25.2 -5.3 -6 -5.8 -14.8 3.1 -15 2.8 -15.2 2.3 -15.3 1.9 -30.5 2.6 -17.5 0.7 -17.6 0.3 -24.3 -0.5 -23.4 -1.4 -22.2 -2.2 -21.2 -3 -23.5 -4.5 -21.7 -5.5 -18.7 -6 -11.1 -4.3 -8.1 -3.6 -13.7 -7.2 -5.9 -3.8 -6.4 -4.8 -4.8 -4.2 -3.6 -3.9 -3.4 -4.6 -2.5 -4.7z"/>
<path fill="#9fff60" stroke="#9fff60" stroke-width="0.7" d="M1329.3 144.3l-7.4 6.3 2.9 5.3 5.3 6.6 6.1 5.5 6.8 5.1 9.8 5.9 7.3 3.8 10.2 4.6 11.2 4.4 12.2 4 13.1 3.7 11.3 2.8 24.8 5 27.9 3.9 27.2 2.4 28.5 1.1 27.5 -0.2 28.5 -1.5 29.3 -3 25.7 -3.9 24.8 -5 -6 -5.8 -14.5 2.9 -14.9 2.6 -14.9 2.2 -14.9 1.8 -15 1.3 -16.1 1.1 -18.1 0.6 -14.8 0.1 -23.7 -0.6 -21.8 -1.4 -22.4 -2.4 -20.4 -3 -22.6 -4.5 -22.1 -5.9 -17.5 -5.9 -9.7 -3.9 -7.4 -3.5 -7.1 -3.7 -5.7 -3.4 -5.5 -3.7 -6 -4.9 -4 -4 -3.2 -3.8 -2.7 -4.3 -1.9 -4.8z"/>
<path fill="#afff50" stroke="#afff50" stroke-width="0.7" d="M1336.4 138.3l-7 5.9 0.9 2.6 2 3.9 4.1 5.5 4.8 4.9 7.8 6.1 7.7 4.9 6.5 3.6 9.7 4.6 9.7 3.9 11.5 4 21.1 6.1 11.3 2.6 14.4 2.9 24.3 3.7 26 2.7 27.6 1.5 29.1 0.1 27.3 -1.2 28.2 -2.5 28.5 -4.1 24.4 -4.7 -6.1 -5.8 -14.3 2.8 -14.5 2.4 -29.3 3.6 -14.9 1.3 -17.8 1 -29.7 0.4 -22.9 -0.7 -22 -1.6 -20.8 -2.4 -19.6 -3 -21.7 -4.5 -19.6 -5.4 -8.9 -2.9 -10.1 -3.8 -8.3 -3.6 -6.9 -3.3 -6.3 -3.5 -5.6 -3.6 -5.1 -3.8 -5.2 -4.6 -3.5 -4 -2.6 -3.8 -1.9 -3.8 -1.4 -5.1z"/>
<path fill="#bfff40" stroke="#bfff40" stroke-width="0.7" d="M1343.5 132.5l-6.2 5.1 0.9 3.8 1.6 3.7 3.4 5.2 4.6 5 5.8 5 7.1 4.8 8.2 4.7 6.9 3.3 8.3 3.6 10.7 4 11.4 3.7 9.7 2.7 10.2 2.5 14.5 3 23.4 3.7 27.8 3 24.6 1.4 27.4 0.3 24.5 -0.9 28.7 -2.3 25.9 -3.3 27.3 -5 -6.1 -5.9 -14.1 2.7 -14.3 2.2 -28.1 3.3 -29 1.9 -14 0.4 -16.7 0 -23.9 -0.9 -21.2 -1.6 -20.1 -2.5 -18.8 -3.1 -20.8 -4.5 -18.6 -5.3 -8.6 -3 -9.9 -3.9 -13.7 -6.7 -6.4 -3.9 -6 -4.3 -4.2 -3.7 -3.4 -3.7 -2.8 -3.8 -2.3 -4.3 -1.2 -4.2 -0.3 -4z"/>
<path fill="#cfff30" stroke="#cfff30" stroke-width="0.7" d="M1352.9 125l-7.2 5.7 0.3 4 1 3.6 2.5 4.9 3.8 5.1 5.2 4.9 6.3 4.8 7.5 4.6 6.4 3.3 7.3 3.4 10.1 4 10.6 3.6 10 2.9 13.1 3.3 10.5 2.2 22.4 3.8 25.3 3 24.8 1.6 27.2 0.4 28 -0.8 23.8 -1.9 28.7 -3.6 23.6 -4.2 -6.1 -5.9 -13.9 2.5 -14 2.2 -14.1 1.7 -15.8 1.5 -16.7 1 -13.8 0.5 -26.9 0 -21.5 -1 -20.5 -1.7 -19.3 -2.5 -21.5 -3.9 -19.5 -4.7 -18.1 -5.7 -9.4 -3.7 -6.9 -3.1 -5.6 -2.9 -6.4 -3.8 -5 -3.4 -4.3 -3.6 -3.9 -3.9 -3.1 -4.2 -2.1 -4.1 -1.2 -3.8 -0.3 -3.7 0.3 -3.7z"/>
<path fill="#dfff20" stroke="#dfff20" stroke-width="0.7" d="M1362.3 117.6l-7.9 6.1 -0.3 3.7 0.3 3.4 1.7 5.3 3 4.9 3.7 4.3 4.7 4.2 5.9 4.2 7 4.2 7.8 3.9 7.2 3.1 7.7 3 11.3 3.7 9.8 2.7 12.3 3 12.8 2.6 12.1 2 23 2.9 25.3 1.8 26.3 0.7 27.3 -0.7 25.2 -1.8 25.7 -3 23.7 -4.1 -6.3 -5.9 -27.4 4.3 -27.4 2.8 -27.8 1.4 -15.7 0.1 -15.3 -0.3 -19.6 -1.1 -19.7 -1.9 -18.6 -2.5 -20.6 -4 -18.5 -4.7 -16.9 -5.8 -8.8 -3.6 -6.5 -3.2 -5.7 -3.3 -5.1 -3.3 -4.5 -3.6 -3.6 -3.5 -3 -3.7 -2.2 -3.6 -1.5 -3.6 -0.7 -3.8 0 -3.7 1 -4.6z"/>
<path fill="#efff10" stroke="#efff10" stroke-width="0.7" d="M1371.8 110.3l-8.2 6.3 -0.9 3.5 -0.2 2.9 0.5 4.4 2 5.2 2.9 4.5 4.4 4.8 5.7 4.7 5.2 3.4 7.8 4.3 6.6 3.1 7.3 3 10.6 3.7 8.9 2.7 11.4 2.9 20.9 4.3 24.7 3.4 25.3 2.2 25.5 0.8 24.9 -0.4 24.3 -1.5 24.6 -2.6 25.7 -4.1 -6.3 -5.9 -26.9 4 -26.8 2.4 -28.2 1.2 -15.1 -0.1 -14.7 -0.4 -21.4 -1.5 -19.2 -2.2 -17.6 -2.8 -16.2 -3.4 -17.5 -4.8 -15.4 -5.6 -12.6 -6.1 -5.2 -3.1 -5.3 -3.8 -4.3 -3.9 -3.4 -3.8 -2.4 -3.8 -1.6 -3.7 -0.8 -3.8 -0.1 -3.6 0.6 -3.5 1.8 -4.3z"/>
<path fill="#ffff00" stroke="#ffff00" stroke-width="0.7" d="M1381.2 103.1l-8.1 6.2 -1.5 3.4 -0.8 3.4 0 4.8 1.2 4.8 2.3 4.4 3.1 4 3.6 3.7 5.7 4.4 5.2 3.4 8 4.2 6.7 3 8.7 3.3 9.8 3.2 10.6 2.9 19.8 4.3 23.2 3.6 24.9 2.3 24.7 1 22.8 -0.1 25 -1.3 26.9 -2.7 22.4 -3.4 -6.4 -6 -26.4 3.6 -26.2 2.2 -28.2 0.9 -14.5 -0.2 -14 -0.6 -20.4 -1.6 -18.2 -2.3 -16.7 -2.9 -15.4 -3.5 -17.4 -5.3 -13.3 -5.3 -6.1 -3.1 -5.5 -3.1 -4.8 -3.4 -4 -3.4 -3.4 -3.5 -2.6 -3.5 -1.8 -3.6 -1.4 -4.8 -0.1 -3.6 0.5 -3.5 1.2 -3.3 2.3 -4.1z"/>
<path fill="#ffef00" stroke="#ffef00" stroke-width="0.7" d="M1390.6 95.8l-8 6.2 -2.3 4.1 -1.2 3.4 -0.5 4.6 0.5 4 1.5 4.4 3 4.7 3.2 3.7 4.2 3.7 5.1 3.7 6.1 3.5 7 3.5 8.1 3.3 15.9 5.3 19.1 4.7 22.3 3.8 21.4 2.4 24.2 1.5 25.3 0.2 25.2 -1 26.3 -2.5 22 -3.1 -6.6 -6 -25.8 3.3 -25.6 1.8 -27.7 0.6 -13.8 -0.3 -13.4 -0.7 -19.3 -1.8 -18.1 -2.5 -16.7 -3.3 -15.1 -3.8 -9 -2.9 -7 -2.6 -11.6 -5.4 -9.4 -5.9 -4.1 -3.4 -3.4 -3.4 -2.7 -3.5 -1.9 -3.6 -1.1 -3.5 -0.5 -3.5 0.2 -3.5 1.2 -4.2 1.7 -3.2 2.8 -3.9z"/>
<path fill="#ffdf00" stroke="#ffdf00" stroke-width="0.7" d="M1400.1 88.5l-8 6.2 -2.9 3.9 -1.9 4.1 -1 4 0 3.9 1 4.7 1.7 3.5 2.3 3.5 3.2 3.6 4.1 3.5 6.1 4.3 5.5 3.1 6.2 3 7.3 3 9.5 3.2 8.5 2.5 10.3 2.5 20.4 3.9 20.7 2.6 23.1 1.6 24.1 0.5 24.9 -0.8 25.7 -2.1 21.5 -2.8 -6.8 -6.2 -25.2 3 -24.9 1.6 -26.7 0.2 -25.8 -1.2 -18.3 -1.9 -17 -2.6 -15.6 -3.3 -13.8 -3.9 -14.3 -5.3 -10.7 -5.3 -5.1 -3.3 -4.4 -3.4 -3.5 -3.4 -2.8 -3.4 -2 -3.4 -1.3 -3.4 -0.6 -3.3 0.1 -4.3 0.7 -3.3 1.7 -3.6 2.1 -3.3 3.2 -3.4z"/>
<path fill="#ffcf00" stroke="#ffcf00" stroke-width="0.7" d="M1409.5 81l-9 7.3 -3 3.6 -2.2 3.8 -1.4 4.3 -0.4 3.7 0.5 4.2 1.2 3.5 2.3 4.1 2.8 3.4 3.5 3.4 4.4 3.4 5.1 3.3 6 3.2 7 3.1 7.7 2.9 8.7 2.8 9.2 2.4 18.3 3.8 20.5 2.9 21.5 1.8 23.3 0.7 24.1 -0.5 24.4 -1.7 21.6 -2.7 -6.9 -6.2 -24.7 2.6 -24.2 1.3 -25 -0.1 -24.5 -1.4 -17.2 -2 -15.9 -2.7 -14.4 -3.3 -12.7 -3.8 -11.3 -4.4 -5.8 -2.9 -5.5 -3.1 -4.6 -3.2 -3.8 -3.3 -3.1 -3.3 -2.6 -3.6 -1.7 -3.5 -1 -3.5 -0.3 -3.3 0.5 -4 1.1 -3.4 2.2 -3.8 2.6 -3.2 3.4 -3.1z"/>
<path fill="#ffbf00" stroke="#ffbf00" stroke-width="0.7" d="M1414.2 76.8l-7.9 7.4 -2.7 3.5 -1.7 3.2 -1.2 3.8 -0.3 4.1 0.5 3.7 1.3 3.4 2.5 4.4 2.8 3.3 3.4 3.3 4.2 3.2 5.1 3.2 5.8 3 6.6 3 7.5 2.8 16 4.6 16.2 3.5 18.1 2.6 22 2 21.7 0.7 23.2 -0.4 20.2 -1.2 21.2 -2.4 -7.2 -6.3 -24.1 2.3 -23.5 0.9 -22.7 -0.3 -11.8 -0.7 -12.7 -1.1 -14.8 -2 -14.8 -2.7 -13.3 -3.3 -11.6 -3.8 -6.8 -2.7 -6 -2.9 -8.6 -5.3 -6.6 -5.5 -2.7 -3.2 -2.3 -3.6 -1.5 -3.4 -0.7 -3.4 -0.1 -3.3 0.5 -3.1 1 -3 1.5 -2.8 1.8 -2.5 4.5 -5.1z"/>
<path fill="#ffaf00" stroke="#ffaf00" stroke-width="0.7" d="M1418.9 71.3l-7.8 9.3 -1.8 2.6 -1.3 2.9 -1 4.1 -0.1 3.2 0.5 3.3 1.2 3.4 2 3.5 2.6 3.4 3.4 3.4 4.2 3.2 8.6 5.3 6 2.9 6.8 2.7 14.8 4.6 14.9 3.5 18.1 2.9 19.4 1.9 19.3 0.9 22.9 -0.1 19.9 -1 20 -2 -7.4 -6.4 -18.3 1.6 -20.5 0.8 -18.5 -0.1 -19.9 -1.2 -17.7 -2 -17.4 -3 -14.4 -3.6 -12 -4.1 -10.4 -4.7 -9 -5.5 -3.8 -3 -3.1 -3.1 -2.4 -3.1 -1.6 -2.7 -1.1 -2.2 -0.9 -3.4 -0.3 -3.2 0.3 -3.1 1.6 -4.8 5.3 -8.5z"/>
<path fill="#ff9f00" stroke="#ff9f00" stroke-width="0.7" d="M1421.3 67.9l-6.1 9.6 -2 4.8 -0.4 3 0.1 3.1 0.7 3.3 1.5 3.4 1.6 2.7 2.4 3.1 3.3 3.2 4.2 3.3 9 5.4 12.1 5.3 12.3 3.9 16.4 3.8 14.7 2.4 18 1.9 20.5 1 17.8 0.1 18.4 -0.8 18.3 -1.6 -7.7 -6.5 -19.2 1.3 -18.6 0.4 -17.9 -0.5 -15.9 -1.1 -14.9 -1.9 -13.9 -2.5 -13.6 -3.3 -12.3 -4.2 -10 -4.5 -8.2 -5 -3.8 -2.9 -2.9 -2.7 -2.7 -3.3 -1.6 -2.4 -2.2 -5.2 -0.5 -3.1 -0.1 -2.5 1.1 -4.8 3.6 -8.6z"/>
<path fill="#ff8f00" stroke="#ff8f00" stroke-width="0.7" d="M1423.7 63.9l-1.9 3.4 -2.3 6 -1.3 5.1 0 3 0.4 2.8 1.2 3.3 1.1 2.2 1.6 2.4 2.7 3.3 2.9 2.7 3.8 2.9 8.2 5 10.3 4.6 12 4.1 13.6 3.3 13.9 2.5 14.9 1.9 15.9 1.1 17.9 0.5 18.6 -0.4 19.2 -1.3 -8.1 -6.7 -18.2 0.9 -16.5 0.1 -15.7 -0.6 -15 -1.3 -13.8 -1.9 -12.7 -2.5 -12.4 -3.3 -11.7 -4.1 -8.3 -4 -8.1 -5 -5.6 -4.7 -4.2 -5.2 -2.5 -5.2 -0.8 -4.5 0.9 -8.3 1.3 -4.7z"/>
<path fill="#ff8000" stroke="#ff8000" stroke-width="0.7" d="M1426 59.1l-1.3 2.8 -0.7 2.4 -1.2 9 0.1 2.5 0.7 3 2.5 5.2 4.6 5.6 6.5 5.3 7.1 4.2 10.2 4.6 10.6 3.7 11.3 2.9 12.7 2.5 15.4 2.1 13.4 1.1 17.3 0.6 14.9 -0.1 18.2 -0.9 -8.6 -6.9 -13.9 0.5 -15.6 -0.1 -14.9 -0.7 -14 -1.4 -12.9 -2 -11.8 -2.5 -10.6 -3 -9.2 -3.3 -8.1 -3.7 -6.7 -3.9 -5.5 -4.1 -5.2 -5.5 -2.8 -4.4 -1.5 -4.3 -0.9 -8.5 0.2 -2.8 0.5 -1.7z"/>
<path fill="#ff7000" stroke="#ff7000" stroke-width="0.7" d="M1428.4 53.4l-2.1 5.2 -0.1 4.6 1.1 8.1 1.1 3.1 1.7 2.9 4.1 5 5.8 5 7.6 4.6 8 3.8 10.4 3.8 10.6 3 11.8 2.5 12.9 2 14 1.4 14.9 0.7 15.6 0.1 13.9 -0.5 -9 -7.1 -14 0.2 -13.8 -0.5 -9.9 -0.7 -13.2 -1.4 -12.1 -2.1 -11 -2.5 -9.9 -2.9 -8.7 -3.3 -7.6 -3.6 -6.3 -3.9 -5.2 -4 -4.1 -4.2 -3.1 -4.6 -2.4 -6.2 -1.5 -5.9 0.1 -1.5 0.4 -1.2z"/>
<path fill="#ff6000" stroke="#ff6000" stroke-width="0.7" d="M1428.4 53.3l-0.5 2 0.2 2 2.4 7.7 1.9 4.2 3.3 4.4 4.6 4.5 5.8 4.1 6.8 3.8 7.9 3.5 9.1 3.2 10 2.7 11.3 2.4 9.1 1.4 12.7 1.4 13.2 0.9 10.5 0.3 14 -0.2 -9.7 -7.4 -21.6 -0.6 -11.8 -1.1 -9.3 -1.2 -8.9 -1.6 -9.6 -2.1 -9.3 -2.7 -7.2 -2.5 -6.5 -2.8 -5.1 -2.6 -5.8 -3.6 -3.7 -2.8 -5.5 -5.5 -4 -6.1 -3 -6 -0.4 -1.9 0.5 -1.5 -1.4 3.7z"/>
<path fill="#ff5000" stroke="#ff5000" stroke-width="0.7" d="M1430.7 46.7l-1.3 3.9 0.3 2.4 3 6 4.5 6.7 3.4 3.5 5.3 4.2 5.8 3.6 7.2 3.5 8.3 3.3 8.4 2.7 8.1 2 10.7 2.2 12.1 1.7 10.7 1 11.2 0.6 12.6 0.2 -10.5 -7.7 -19.9 -1.3 -18.5 -2.6 -8.6 -1.8 -8.2 -2.2 -8.3 -2.7 -7.9 -3.2 -6.4 -3.2 -4.5 -2.7 -3.8 -2.7 -3.9 -3.4 -5 -5.5 -4 -5.2 -1 -2.8 0.5 -1.4z"/>
<path fill="#ff4000" stroke="#ff4000" stroke-width="0.7" d="M1431 45.8l-0.4 1 0.1 1.3 1.7 3.1 4.4 5.5 4.9 5.2 4.2 3.3 4.9 3.2 5.9 3.2 6.4 2.8 12.8 4.4 7.6 2 9.4 1.9 8.3 1.4 11.1 1.3 18.2 1.1 -11.5 -8.2 -17.1 -1.7 -14.3 -2.5 -12.8 -3.2 -11.2 -3.9 -6.6 -2.9 -5.1 -2.6 -4.4 -2.7 -4.5 -3.3 -5.7 -4.9 -4 -4 -1.7 -2.8 0 -1 0.5 -0.7 -1.1 3.7z"/>
<path fill="#ff3000" stroke="#ff3000" stroke-width="0.7" d="M1432.1 42.2l-0.5 0.6 0 1 1.5 2.5 3.1 3.2 5.5 4.9 8.1 5.9 5.1 2.8 6.5 3 12.3 4.4 13.9 3.6 14.3 2.5 17.1 1.7 -12.8 -8.7 -12.7 -1.8 -11.3 -2.3 -11.9 -3.3 -10.1 -3.7 -10.6 -5.3 -11.2 -7.4 -3.2 -2.5 -2.4 -2.6 -0.5 -1.3 0.8 -1.1 -1 3.8z"/>
<path fill="#ff2000" stroke="#ff2000" stroke-width="0.7" d="M1433.1 38.3l-0.8 1.1 0.5 1.3 2.4 2.6 3.2 2.5 11.2 7.4 10 5 10.6 3.9 11.2 3.2 12.1 2.5 12.7 1.8 -14.5 -9.4 -15.4 -3.3 -14 -4.4 -9.8 -4 -11.3 -6.1 -4.2 -2.6 -3 -2.3 -1 -1.4 0.1 -1 0 3.2z"/>
<path fill="#ff1000" stroke="#ff1000" stroke-width="0.7" d="M1433.1 35.1l-0.2 1 0.8 1.2 5 3.6 9.6 5.5 8.9 4.2 7.7 2.9 8.5 2.6 9.1 2.3 9.2 1.8 -16.6 -10.4 -13.6 -3.8 -11.7 -4.5 -12.9 -6.3 -3.2 -2.2 -0.6 -1.1 0 3.2z"/>
<path fill="#ff0000" stroke="#ff0000" stroke-width="0.7" d="M1433.1 31.9l0.6 1.1 3.2 2.2 12.9 6.3 11.7 4.5 13.6 3.8 -19.4 -11.5 -8.3 -2.9 -7.3 -3 -4.6 -2.1 -2.4 -1.7 0 3.3z"/>
<path fill="#ef0000" stroke="#ef0000" stroke-width="0.7" d="M1433.2 28.8l2.8 1.7 5.5 2.5 14.2 5.3 -21.7 -12.5 -0.9 -0.4 0 3.2z"/>
</g>
<path fill="none" stroke="#000" stroke-width="3.1" stroke-linejoin="round" d="M1433.1 37.1 1428.7 52.8 1424.2 63.4 1419.8 70.9 1415.3 76.5 1410.9 81.3 1406.4 86 1402 90.7 1397.5 95.3 1393.1 100 1388.6 104.7 1384.2 109.4 1379.8 114.1 1375.3 118.9 1370.9 123.7 1366.4 128.6 1362 133.5 1357.5 138.6 1353.1 143.7 1348.6 148.9 1344.2 154.2 1339.7 159.6 1335.3 165.1 1330.9 170.7 1326.4 176.3 1322 181.9 1317.5 187.6 1313.1 193.3 1308.6 199 1304.2 204.7 1299.7 210.4 1295.3 216.1 1290.8 221.7 1286.4 227.3 1282 232.8 1277.5 238.2 1273.1 243.6 1268.6 248.9 1264.2 254.2 1259.7 259.5 1255.3 264.7 1250.8 269.9 1246.4 275.1 1241.9 280.2 1237.5 285.4 1233.1 290.5 1228.6 295.7 1224.2 300.9 1219.7 306.1 1215.3 311.3 1210.8 316.6M1433.1 35.4 1430 49.6 1427 59.6 1423.9 66.8 1420.9 72.4 1417.8 77.3 1414.7 82.1 1411.7 87 1408.6 91.9 1405.6 96.8 1402.5 101.7 1399.4 106.6 1396.4 111.6 1393.3 116.6 1390.3 121.7 1387.2 126.8 1384.1 132 1381.1 137.3 1378 142.7 1375 148.2 1371.9 153.8 1368.8 159.5 1365.8 165.3 1362.7 171.1 1359.7 177 1356.6 182.9 1353.5 188.9 1350.5 194.9 1347.4 200.9 1344.4 206.9 1341.3 212.9 1338.2 218.9 1335.2 224.8 1332.1 230.7 1329.1 236.6 1326 242.4 1322.9 248.2 1319.9 253.9 1316.8 259.5 1313.8 265.2 1310.7 270.8 1307.6 276.3 1304.6 281.9 1301.5 287.4 1298.5 292.9 1295.4 298.4 1292.3 303.9 1289.3 309.4 1286.2 314.9 1283.2 320.3 1280.1 325.8M1433.1 33.7 1431.5 46.4 1430 55.5 1428.4 62.3 1426.9 67.8 1425.3 72.8 1423.8 77.7 1422.2 82.6 1420.6 87.5 1419.1 92.5 1417.5 97.5 1416 102.6 1414.4 107.7 1412.9 112.8 1411.3 118 1409.7 123.3 1408.2 128.7 1406.6 134.1 1405.1 139.6 1403.5 145.3 1402 151 1400.4 156.8 1398.8 162.7 1397.3 168.7 1395.7 174.7 1394.2 180.8 1392.6 186.9 1391.1 193 1389.5 199.2 1387.9 205.4 1386.4 211.6 1384.8 217.7 1383.3 223.9 1381.7 230 1380.2 236.1 1378.6 242.2 1377 248.2 1375.5 254.1 1373.9 260.1 1372.4 266 1370.8 271.8 1369.3 277.7 1367.7 283.5 1366.2 289.3 1364.6 295 1363 300.8 1361.5 306.5 1359.9 312.2 1358.4 317.9 1356.8 323.5 1355.3 329.2M1433.1 32 1433.1 43 1433.1 51.2 1433.1 57.5 1433.1 62.8 1433.1 67.7 1433.1 72.5 1433.1 77.4 1433.1 82.3 1433.2 87.2 1433.2 92.2 1433.2 97.2 1433.2 102.3 1433.2 107.4 1433.2 112.6 1433.2 117.9 1433.2 123.2 1433.2 128.7 1433.2 134.2 1433.2 139.8 1433.2 145.6 1433.2 151.4 1433.2 157.2 1433.2 163.2 1433.2 169.2 1433.2 175.3 1433.3 181.4 1433.3 187.6 1433.3 193.8 1433.3 200 1433.3 206.2 1433.3 212.5 1433.3 218.7 1433.3 224.9 1433.3 231.1 1433.3 237.3 1433.3 243.4 1433.3 249.5 1433.3 255.6 1433.3 261.6 1433.3 267.6 1433.3 273.6 1433.3 279.6 1433.4 285.5 1433.4 291.4 1433.4 297.3 1433.4 303.1 1433.4 309 1433.4 314.7 1433.4 320.5 1433.4 326.2M1433.1 30.3 1434.7 39.5 1436.2 46.6 1437.8 52.4 1439.4 57.3 1440.9 62 1442.5 66.6 1444.1 71.3 1445.6 76 1447.2 80.8 1448.8 85.6 1450.4 90.5 1451.9 95.4 1453.5 100.4 1455.1 105.4 1456.6 110.5 1458.2 115.8 1459.8 121.1 1461.3 126.4 1462.9 131.9 1464.5 137.5 1466 143.1 1467.6 148.9 1469.2 154.7 1470.7 160.5 1472.3 166.5 1473.9 172.5 1475.5 178.5 1477 184.6 1478.6 190.7 1480.2 196.8 1481.7 203 1483.3 209.1 1484.9 215.3 1486.4 221.4 1488 227.6 1489.6 233.7 1491.1 239.8 1492.7 245.9 1494.3 252 1495.8 258 1497.4 264 1499 270 1500.5 276 1502.1 282 1503.7 287.9 1505.3 293.7 1506.8 299.6 1508.4 305.4 1510 311.1 1511.5 316.8M1433.1 28.7 1436.2 36 1439.2 41.9 1442.3 46.9 1445.4 51.4 1448.5 55.7 1451.5 60.1 1454.6 64.4 1457.7 68.8 1460.7 73.3 1463.8 77.8 1466.9 82.4 1470 87 1473 91.7 1476.1 96.5 1479.2 101.3 1482.2 106.3 1485.3 111.3 1488.4 116.4 1491.4 121.5 1494.5 126.8 1497.6 132.2 1500.7 137.6 1503.7 143.1 1506.8 148.7 1509.9 154.3 1512.9 160 1516 165.8 1519.1 171.6 1522.2 177.5 1525.2 183.4 1528.3 189.3 1531.4 195.3 1534.4 201.2 1537.5 207.2 1540.6 213.2 1543.7 219.2 1546.7 225.2 1549.8 231.1 1552.9 237.1 1555.9 243.1 1559 249 1562.1 255 1565.1 260.9 1568.2 266.7 1571.3 272.6 1574.4 278.4 1577.4 284.1 1580.5 289.8 1583.6 295.5 1586.6 301.1M1433.1 27 1437.6 32.3 1442 36.9 1446.5 41.1 1450.9 45.1 1455.4 48.9 1459.8 52.8 1464.3 56.8 1468.7 60.8 1473.2 64.8 1477.7 68.9 1482.1 73 1486.6 77.3 1491 81.5 1495.5 85.9 1499.9 90.3 1504.4 94.8 1508.8 99.4 1513.3 104.1 1517.7 108.8 1522.2 113.7 1526.7 118.6 1531.1 123.6 1535.6 128.7 1540 133.8 1544.5 139.1 1548.9 144.4 1553.4 149.7 1557.8 155.2 1562.3 160.6 1566.8 166.2 1571.2 171.7 1575.7 177.4 1580.1 183 1584.6 188.7 1589 194.4 1593.5 200.1 1597.9 205.9 1602.4 211.6 1606.9 217.4 1611.3 223.2 1615.8 228.9 1620.2 234.7 1624.7 240.4 1629.1 246.1 1633.6 251.8 1638 257.4 1642.5 263 1646.9 268.6 1651.4 274 1655.9 279.4M1404.8 84.8 1405.7 84.2 1406.7 83.7 1407.7 83.1 1408.7 82.5 1409.8 81.9 1410.9 81.3 1412 80.6 1413.1 80 1414.2 79.3 1415.4 78.7 1416.6 78 1417.8 77.3 1419 76.6 1420.3 75.8 1421.5 75.1 1422.8 74.3 1424 73.5 1425.3 72.8 1426.6 71.9 1427.9 71.1 1429.2 70.3 1430.5 69.4 1431.8 68.5 1433.1 67.7 1434.4 66.7 1435.7 65.8 1437.1 64.9 1438.4 63.9 1439.7 63 1440.9 62 1442.2 61 1443.5 60 1444.8 58.9 1446 57.9 1447.2 56.8 1448.5 55.7 1449.7 54.6 1450.8 53.5 1452 52.4 1453.2 51.3 1454.3 50.1 1455.4 48.9 1456.5 47.8 1457.5 46.6 1458.5 45.4 1459.5 44.2 1460.5 42.9 1461.4 41.7M1376.5 106.7 1378.4 106.4 1380.3 106.1 1382.3 105.8 1384.4 105.4 1386.5 105.1 1388.6 104.7 1390.9 104.2 1393.1 103.8 1395.4 103.3 1397.7 102.8 1400.1 102.2 1402.5 101.7 1404.9 101 1407.4 100.4 1409.9 99.7 1412.4 99 1415 98.3 1417.5 97.5 1420.1 96.7 1422.7 95.9 1425.3 95 1427.9 94.1 1430.5 93.1 1433.2 92.2 1435.8 91.2 1438.4 90.1 1441 89 1443.6 87.9 1446.2 86.8 1448.8 85.6 1451.3 84.4 1453.9 83.1 1456.4 81.8 1458.9 80.5 1461.4 79.2 1463.8 77.8 1466.2 76.4 1468.6 75 1470.9 73.5 1473.2 72 1475.5 70.5 1477.7 68.9 1479.8 67.3 1481.9 65.7 1484 64.1 1486 62.4 1487.9 60.7 1489.8 59M1348.2 128.7 1351 128.8 1353.9 128.8 1356.9 128.8 1360 128.8 1363.2 128.7 1366.4 128.6 1369.7 128.4 1373.1 128.2 1376.5 127.9 1380 127.6 1383.6 127.2 1387.2 126.8 1390.9 126.4 1394.6 125.9 1398.3 125.3 1402.1 124.7 1405.9 124 1409.7 123.3 1413.6 122.5 1417.5 121.7 1421.4 120.8 1425.3 119.9 1429.3 118.9 1433.2 117.9 1437.1 116.8 1441 115.7 1445 114.5 1448.9 113.2 1452.8 111.9 1456.6 110.5 1460.5 109.1 1464.3 107.7 1468.1 106.2 1471.8 104.6 1475.5 103 1479.2 101.3 1482.8 99.6 1486.3 97.8 1489.8 96 1493.3 94.2 1496.6 92.3 1499.9 90.3 1503.2 88.3 1506.3 86.3 1509.4 84.2 1512.4 82.1 1515.3 79.9 1518.1 77.7M1319.9 152.4 1323.7 152.9 1327.6 153.2 1331.6 153.6 1335.7 153.8 1339.9 154.1 1344.2 154.2 1348.6 154.3 1353.1 154.3 1357.7 154.3 1362.3 154.2 1367.1 154.1 1371.9 153.8 1376.8 153.5 1381.7 153.2 1386.7 152.7 1391.7 152.2 1396.8 151.6 1402 151 1407.1 150.3 1412.3 149.5 1417.5 148.6 1422.7 147.7 1428 146.6 1433.2 145.6 1438.5 144.4 1443.7 143.2 1448.9 141.8 1454.1 140.5 1459.3 139 1464.5 137.5 1469.6 135.9 1474.7 134.2 1479.7 132.5 1484.7 130.6 1489.6 128.8 1494.5 126.8 1499.3 124.8 1504.1 122.7 1508.7 120.5 1513.3 118.3 1517.8 116 1522.2 113.7 1526.5 111.3 1530.7 108.8 1534.8 106.3 1538.8 103.7 1542.7 101.1 1546.5 98.4M1291.6 178.1 1296.3 179 1301.2 179.7 1306.2 180.4 1311.3 181 1316.6 181.5 1322 181.9 1327.5 182.3 1333.1 182.6 1338.8 182.8 1344.7 182.9 1350.6 183 1356.6 182.9 1362.7 182.8 1368.9 182.5 1375.1 182.2 1381.4 181.8 1387.8 181.3 1394.2 180.8 1400.6 180.1 1407.1 179.3 1413.6 178.5 1420.1 177.5 1426.7 176.4 1433.2 175.3 1439.8 174.1 1446.3 172.7 1452.9 171.3 1459.4 169.8 1465.9 168.2 1472.3 166.5 1478.7 164.7 1485.1 162.8 1491.4 160.8 1497.6 158.7 1503.8 156.6 1509.9 154.3 1515.9 152 1521.8 149.6 1527.6 147.1 1533.4 144.5 1539 141.8 1544.5 139.1 1549.9 136.2 1555.1 133.3 1560.3 130.4 1565.3 127.3 1570.1 124.2 1574.8 121M1263.3 204.5 1269 205.7 1274.8 206.9 1280.8 207.9 1286.9 208.8 1293.3 209.7 1299.7 210.4 1306.4 211.1 1313.1 211.6 1320 212.1 1327 212.5 1334.1 212.7 1341.3 212.9 1348.6 212.9 1356 212.9 1363.5 212.7 1371.1 212.4 1378.7 212.1 1386.4 211.6 1394.1 211 1401.9 210.2 1409.7 209.4 1417.6 208.5 1425.4 207.4 1433.3 206.2 1441.1 205 1449 203.6 1456.8 202 1464.6 200.4 1472.4 198.7 1480.2 196.8 1487.8 194.9 1495.5 192.8 1503 190.6 1510.5 188.3 1517.9 185.9 1525.2 183.4 1532.4 180.8 1539.5 178 1546.5 175.2 1553.4 172.3 1560.2 169.3 1566.8 166.2 1573.2 163 1579.5 159.6 1585.7 156.2 1591.7 152.8 1597.5 149.2 1603.1 145.5M1235 230 1241.6 231.7 1248.4 233.2 1255.4 234.6 1262.6 235.9 1270 237.1 1277.5 238.2 1285.2 239.2 1293.1 240.1 1301.1 240.8 1309.3 241.5 1317.6 242 1326 242.4 1334.5 242.7 1343.2 242.8 1351.9 242.9 1360.7 242.8 1369.6 242.5 1378.6 242.2 1387.6 241.7 1396.7 241.1 1405.8 240.3 1415 239.4 1424.1 238.4 1433.3 237.3 1442.5 236 1451.6 234.6 1460.8 233 1469.9 231.3 1479 229.5 1488 227.6 1497 225.5 1505.9 223.3 1514.7 221 1523.4 218.5 1532.1 215.9 1540.6 213.2 1549 210.4 1557.3 207.4 1565.4 204.3 1573.5 201.1 1581.3 197.8 1589 194.4 1596.6 190.9 1603.9 187.2 1611.1 183.5 1618.1 179.6 1624.9 175.7 1631.5 171.6M1206.7 254.1 1214.2 256.2 1222 258.1 1230 259.9 1238.2 261.6 1246.7 263.2 1255.3 264.7 1264.1 266 1273.1 267.2 1282.3 268.3 1291.6 269.3 1301.1 270.1 1310.7 270.8 1320.5 271.3 1330.3 271.7 1340.3 272 1350.4 272.1 1360.6 272 1370.8 271.8 1381.1 271.5 1391.5 271 1401.9 270.4 1412.4 269.6 1422.9 268.7 1433.3 267.6 1443.8 266.4 1454.3 265 1464.7 263.5 1475.2 261.8 1485.5 260 1495.8 258 1506.1 255.9 1516.3 253.6 1526.3 251.2 1536.3 248.6 1546.2 245.9 1555.9 243.1 1565.6 240.1 1575 237 1584.3 233.7 1593.5 230.3 1602.5 226.8 1611.3 223.2 1619.9 219.4 1628.3 215.5 1636.6 211.5 1644.5 207.3 1652.3 203.1 1659.8 198.7M1178.4 277.7 1186.9 280.2 1195.6 282.5 1204.6 284.7 1213.9 286.8 1223.4 288.7 1233.1 290.5 1243 292.2 1253.1 293.7 1263.4 295.1 1273.9 296.4 1284.6 297.5 1295.4 298.4 1306.4 299.2 1317.5 299.8 1328.7 300.3 1340.1 300.6 1351.5 300.8 1363 300.8 1374.6 300.6 1386.3 300.3 1398 299.8 1409.8 299.1 1421.6 298.3 1433.4 297.3 1445.2 296.1 1456.9 294.8 1468.7 293.3 1480.4 291.7 1492.1 289.8 1503.7 287.9 1515.2 285.7 1526.7 283.4 1538 280.9 1549.2 278.3 1560.3 275.5 1571.3 272.6 1582.1 269.5 1592.8 266.2 1603.3 262.8 1613.6 259.3 1623.7 255.6 1633.6 251.8 1643.3 247.8 1652.7 243.7 1662 239.5 1671 235.1 1679.7 230.6 1688.2 226"/>
<path fill="none" stroke="#000" stroke-width="3.1" d="M1433.1 38.7 1433.1 25.3"/>
<path fill="none" stroke="#000" stroke-width="2.3" stroke-linejoin="round" d="M1433.1 38.7 1427.4 55.8 1421.8 67.1 1416.1 74.8 1410.5 80.3 1404.8 84.8 1399.1 89.2 1393.5 93.6 1387.8 98 1382.2 102.3 1376.5 106.7 1370.8 111 1365.2 115.4 1359.5 119.8 1353.9 124.2 1348.2 128.7 1342.5 133.3 1336.9 137.9 1331.2 142.7 1325.6 147.5 1319.9 152.4 1314.2 157.4 1308.6 162.5 1302.9 167.7 1297.3 172.9 1291.6 178.1 1285.9 183.4 1280.3 188.7 1274.6 194 1269 199.3 1263.3 204.5 1257.6 209.8 1252 214.9 1246.3 220 1240.7 225.1 1235 230 1229.3 235 1223.7 239.8 1218 244.6 1212.4 249.4 1206.7 254.1 1201 258.8 1195.4 263.5 1189.7 268.2 1184.1 273 1178.4 277.7 1172.7 282.5 1167.1 287.3 1161.4 292.1 1155.8 297 1150.1 302"/>
<path fill="none" stroke="#000" stroke-width="3.9" stroke-linejoin="round" d="M1433.1 25.3 1438.8 28.5 1444.4 31.8 1450.1 35.1 1455.8 38.4 1461.4 41.7 1467.1 45.1 1472.8 48.5 1478.4 51.9 1484.1 55.4 1489.8 59 1495.5 62.6 1501.1 66.3 1506.8 70 1512.5 73.8 1518.1 77.7 1523.8 81.7 1529.5 85.8 1535.1 89.9 1540.8 94.1 1546.5 98.4 1552.1 102.7 1557.8 107.2 1563.5 111.7 1569.1 116.3 1574.8 121 1580.5 125.8 1586.1 130.6 1591.8 135.5 1597.5 140.5 1603.1 145.5 1608.8 150.6 1614.5 155.8 1620.2 161 1625.8 166.3 1631.5 171.6 1637.2 177 1642.8 182.4 1648.5 187.8 1654.2 193.3 1659.8 198.7 1665.5 204.2 1671.2 209.7 1676.8 215.1 1682.5 220.6 1688.2 226 1693.8 231.4 1699.5 236.8 1705.2 242.1 1710.8 247.3 1716.5 252.5"/>
<path fill="none" stroke="#000" stroke-width="5.0" stroke-linejoin="round" stroke-linecap="round" d="M1150.1 302 1159.5 304.8 1169.2 307.4 1179.2 309.9 1189.5 312.3 1200 314.5 1210.8 316.6 1221.9 318.5 1233.1 320.3 1244.6 321.9 1256.2 323.4 1268.1 324.7 1280.1 325.8 1292.3 326.8 1304.6 327.6 1317.1 328.3 1329.7 328.7 1342.4 329 1355.3 329.2 1368.1 329.1 1381.1 328.9 1394.1 328.5 1407.2 327.9 1420.3 327.1 1433.4 326.2 1446.5 325.1 1459.6 323.8 1472.7 322.3 1485.7 320.6 1498.6 318.8 1511.5 316.8 1524.3 314.6 1537 312.2 1549.6 309.7 1562.1 307 1574.5 304.1 1586.6 301.1 1598.7 297.9 1610.5 294.5 1622.2 291 1633.6 287.3 1644.9 283.4 1655.9 279.4 1666.6 275.3 1677.2 271 1687.4 266.6 1697.4 262 1707.1 257.3 1716.5 252.5"/>
<path fill="none" stroke="#262626" stroke-width="1.5" stroke-linejoin="miter" d="M1093.5 355.2L1433.6 500.8L1773.2 355.2M1093.5 355.2L1093.5 148.4L1433.1 2.8L1773.2 148.4L1773.2 355.2"/>
<path fill="none" stroke="#262626" stroke-width="1.4" d="M1093.5 355.2L1085.2 358.7M1773.2 355.2L1781.5 358.7M1107.7 361.3L1103.4 363.1M1759.1 361.3L1763.4 363.1M1121.8 367.3L1117.5 369.2M1744.9 367.3L1749.2 369.2M1136 373.4L1131.7 375.3M1730.8 373.4L1735.1 375.2M1150.2 379.5L1145.9 381.3M1716.6 379.5L1720.9 381.3M1164.4 385.5L1156.1 389.1M1702.4 385.5L1710.7 389.1M1178.5 391.6L1174.2 393.5M1688.3 391.6L1692.6 393.4M1192.7 397.7L1188.4 399.5M1674.2 397.7L1678.5 399.5M1206.9 403.7L1202.5 405.6M1660 403.7L1664.3 405.6M1221 409.8L1216.7 411.7M1645.8 409.8L1650.2 411.6M1235.2 415.9L1226.9 419.4M1631.7 415.9L1640 419.4M1249.4 421.9L1245.1 423.8M1617.5 421.9L1621.9 423.8M1263.5 428L1259.2 429.9M1603.4 428L1607.7 429.8M1277.7 434.1L1273.4 435.9M1589.2 434.1L1593.6 435.9M1291.9 440.1L1287.6 442M1575.1 440.1L1579.4 442M1306.1 446.2L1297.8 449.7M1560.9 446.2L1569.2 449.7M1320.2 452.3L1315.9 454.1M1546.8 452.3L1551.1 454.1M1334.4 458.3L1330.1 460.2M1532.6 458.3L1537 460.2M1348.6 464.4L1344.3 466.3M1518.5 464.4L1522.8 466.2M1362.7 470.5L1358.4 472.3M1504.3 470.5L1508.7 472.3M1376.9 476.5L1368.6 480.1M1490.2 476.5L1498.5 480.1M1391.1 482.6L1386.8 484.5M1476 482.6L1480.4 484.4M1405.3 488.7L1400.9 490.5M1461.9 488.7L1466.2 490.5M1419.4 494.7L1415.1 496.6M1447.7 494.7L1452.1 496.6M1433.6 500.8L1429.3 502.7M1433.6 500.8L1437.9 502.6M1093.5 355.2L1085.2 351.7M1093.5 336.4L1089.2 334.6M1093.5 317.6L1089.2 315.8M1093.5 298.8L1089.2 297M1093.5 280L1089.2 278.2M1093.5 261.2L1085.2 257.7M1093.5 242.4L1089.2 240.6M1093.5 223.6L1089.2 221.8M1093.5 204.8L1089.2 203M1093.5 186L1089.2 184.2M1093.5 167.2L1085.2 163.7M1093.5 148.4L1089.2 146.6"/>
<path fill="none" stroke="#dcdcdc" stroke-width="1.3" d="M426.1 929.7L426.1 722.9M567.8 929.7L567.8 722.9M426.1 929.7L766.2 1075.3M567.8 929.7L228.2 1075.3M355.4 960.1L355.4 753.3M638.6 960.1L638.6 753.3M355.4 960.1L695.5 1105.7M638.6 960.1L299 1105.7M284.6 990.4L284.6 783.6M709.5 990.4L709.5 783.6M284.6 990.4L624.8 1136M709.5 990.4L369.9 1136M213.9 1020.7L213.9 813.9M780.3 1020.7L780.3 813.9M213.9 1020.7L554 1166.3M780.3 1020.7L440.7 1166.3M496.9 805.4L157.3 951M496.9 805.4L837 951M496.9 711.4L157.3 857M496.9 711.4L837 857"/>
<path fill="none" stroke="#262626" stroke-width="1.5" d="M496.9 899.4L157.3 1045M496.9 899.4L837 1045M496.9 899.4L496.9 692.6"/>
<g opacity="0.7">
<path fill="#0000ef" stroke="#0000ef" stroke-width="0.7" d="M218.6 996.5l-4.7 4 16 4.1 -10.4 -8.9z"/>
<path fill="#0000ff" stroke="#0000ff" stroke-width="0.7" d="M225.7 990.4l-6.2 5.3 10.4 8.9 22.9 4.9 -13.7 -9.9 -12.1 -10.4z"/>
<path fill="#0010ff" stroke="#0010ff" stroke-width="0.7" d="M232.8 984.3l-5.8 4.9 12.1 10.4 13.7 9.9 24.5 4.2 -13.9 -8.4 -10.8 -7.4 -9.6 -7.5 -8.5 -7.6z"/>
<path fill="#0020ff" stroke="#0020ff" stroke-width="0.7" d="M239.8 978.2l-5.3 4.6 6.9 6.3 7.9 6.4 10.4 7.4 7.5 4.9 10.1 5.9 25.8 3.5 -18.8 -9.9 -16.6 -10.2 -14.3 -10.5 -11.5 -10.2z"/>
<path fill="#0030ff" stroke="#0030ff" stroke-width="0.7" d="M246.9 972.1l-5 4.3 2.6 2.5 8.5 7.4 9.6 7.3 10.8 7.3 10.9 6.4 18.8 9.9 27.1 2.6 -13.2 -5.7 -13.6 -6.5 -8.4 -4.5 -11.8 -6.8 -8.5 -5.5 -9.6 -6.9 -8.4 -6.9 -7.5 -7z"/>
<path fill="#0040ff" stroke="#0040ff" stroke-width="0.7" d="M256.3 963.8l-7.1 6.2 10.7 9.7 9.2 7.2 10.4 7.1 11.4 6.9 18.6 9.7 20.7 9.2 28.2 1.8 -17.5 -6.6 -14.5 -6.1 -13.5 -6.3 -15.6 -8.3 -11.7 -7.2 -10 -6.9 -8.9 -7 -10.2 -9.5z"/>
<path fill="#0050ff" stroke="#0050ff" stroke-width="0.7" d="M263.4 957.7l-6.9 6 3.8 3.7 9.3 8.1 11.9 8.9 11.3 7.2 15.9 8.9 8.6 4.3 13.8 6.2 14.9 6 12.4 4.6 29.2 0.8 -22.3 -7.1 -17 -6.3 -17.3 -7.3 -17.1 -8.3 -15.4 -8.7 -13.4 -8.9 -11.6 -9.2 -9.7 -9.3z"/>
<path fill="#0060ff" stroke="#0060ff" stroke-width="0.7" d="M270.5 951.4l-6.7 5.9 7.4 7.3 10.8 8.9 10.9 7.7 13.1 7.9 16.2 8.5 18.1 8.1 14.7 5.8 15.7 5.6 16.9 5.3 30 -0.1 -25.8 -7 -23 -7.5 -22.7 -8.7 -19 -8.6 -17.7 -9.5 -14.8 -9.6 -12.6 -9.8 -6.6 -6 -4.4 -4.6z"/>
<path fill="#0070ff" stroke="#0070ff" stroke-width="0.7" d="M277.6 945.2l-6.6 5.8 6.8 6.8 7.7 6.8 12.1 8.9 11.8 7.5 13.6 7.4 16.4 7.8 19.4 8 16.8 5.9 20.1 6.3 21.9 5.9 30.6 -1.1 -27.2 -6.2 -28 -7.8 -25.6 -8.6 -23.1 -9.4 -8.3 -3.9 -11.9 -6 -8.8 -5.1 -9.9 -6.2 -7.9 -5.6 -8.1 -6.6 -4.8 -4.4 -6.4 -6.7z"/>
<path fill="#0080ff" stroke="#0080ff" stroke-width="0.7" d="M284.6 939l-6.4 5.7 7.1 7.3 9.4 8.2 12 8.6 13.8 8.5 15.5 8 17.3 7.8 24 9.1 21.1 6.7 22.6 6.1 27.2 6.2 31.2 -2.1 -33 -6.2 -17.7 -4 -16.9 -4.4 -16 -4.7 -12.4 -4 -12.4 -4.5 -13.7 -5.5 -8.5 -3.7 -12.1 -5.8 -11 -6 -10.1 -6.2 -9.1 -6.3 -8 -6.4 -7.1 -6.5 -6.1 -6.5z"/>
<path fill="#008fff" stroke="#008fff" stroke-width="0.7" d="M291.7 932.8l-6.4 5.6 4 4.4 6.3 6.1 10.9 8.9 14.5 9.7 15.7 8.8 16.3 7.7 18 7.3 20.1 7 26.3 7.7 24.3 5.9 29.5 5.8 8.2 1.4 31.4 -3.1 -20.1 -2.8 -18.8 -3.2 -18.2 -3.5 -17.5 -3.8 -16.7 -4.2 -15.8 -4.6 -15 -4.8 -14.1 -5.1 -13.2 -5.4 -12.3 -5.6 -11.2 -5.8 -11.3 -6.5 -11.2 -7.6 -8 -6.2 -8.3 -7.6 -6.7 -7.2z"/>
<path fill="#009fff" stroke="#009fff" stroke-width="0.7" d="M298.8 926.5l-6.4 5.6 5.8 6.4 4.4 4.2 7.3 6.3 7.7 5.7 13.9 9 17.6 9.3 17.1 7.7 20.8 7.8 23 7.3 26.2 6.9 26 5.5 28.7 5 19.9 2.8 31.5 -4.3 -19.3 -1.9 -21.2 -2.7 -19.4 -3 -21.8 -4 -17.2 -3.7 -21.7 -5.4 -15.4 -4.5 -15.9 -5.3 -13.7 -5.1 -15.3 -6.5 -14.3 -7.1 -11 -6.2 -12.1 -7.9 -8.2 -6.3 -8.8 -8 -7.5 -8.2z"/>
<path fill="#00afff" stroke="#00afff" stroke-width="0.7" d="M305.9 920.3l-6.4 5.6 6.4 7.1 6.4 6 7.3 6.1 8.2 5.9 15 9.2 9.7 5.1 8.9 4.3 21.2 8.8 18.8 6.5 25.6 7.5 27.6 6.5 27.8 5.2 29.4 4.3 30.5 3.3 31.5 -5.3 -25.4 -1.7 -19.7 -1.9 -25.3 -3.1 -20.2 -3.1 -21.6 -4 -22.1 -5 -16.6 -4.3 -18.8 -5.7 -17.1 -6.1 -13.6 -5.6 -15.3 -7.1 -13.6 -7.5 -12 -7.8 -10.2 -7.9 -8.6 -8 -7.1 -8z"/>
<path fill="#00bfff" stroke="#00bfff" stroke-width="0.7" d="M312.9 914l-6.3 5.6 6.1 7 7.3 7 9.5 7.8 8.8 6 8.8 5.4 7.4 4.1 11.1 5.5 8.8 4 20.5 8 23.8 7.7 26.2 6.8 28.3 5.9 30.2 4.9 31.8 3.8 19.9 1.7 18.7 1.2 31.1 -6.4 -24.8 -0.8 -26.5 -1.6 -21.8 -1.9 -22.5 -2.7 -23.9 -3.6 -22.8 -4.3 -21.5 -4.9 -20.1 -5.5 -18.6 -6.1 -17.1 -6.5 -15.6 -6.9 -13.8 -7.2 -12.4 -7.7 -11.6 -8.5 -9.7 -8.7 -3.7 -3.9 -4.8 -5.9z"/>
<path fill="#00cfff" stroke="#00cfff" stroke-width="0.7" d="M320 907.7l-6.3 5.6 1.5 2 7 7.8 6.3 5.8 9.7 7.8 9.6 6.4 9.2 5.5 9.1 4.8 19.2 8.7 21.6 8.1 14.1 4.5 11.8 3.3 13.6 3.5 16.2 3.6 30.3 5.5 16.4 2.4 18.6 2.3 32.2 2.8 20 1.1 24.8 0.8 30.7 -7.4 -24.4 0 -29.1 -0.7 -23.6 -1.3 -27.6 -2.4 -22 -2.7 -25 -3.9 -25.7 -5.2 -20.5 -5 -19.1 -5.6 -21.7 -7.7 -15.7 -6.6 -17.4 -8.8 -14.7 -9.1 -11 -8.4 -9.4 -8.7 -4.9 -5.6 -3 -3.9z"/>
<path fill="#00dfff" stroke="#00dfff" stroke-width="0.7" d="M327.1 901.5l-6.3 5.5 4.5 5.7 7.3 7.6 8.8 7.6 10.4 7.5 8.9 5.5 9.8 5.3 10.7 5.3 19.8 8.2 22.3 7.5 14.4 4.2 12.5 3.2 13.4 3 16.4 3.3 31.5 5 15.6 1.9 18.6 1.8 32.2 2.1 26.6 0.9 31.1 0 30 -8.6 -30.7 1.1 -26.6 0.1 -28.3 -0.7 -29.4 -1.8 -24.4 -2.4 -29 -4 -22.1 -4 -23.6 -5.2 -21.9 -6.1 -19.8 -6.6 -17.7 -7 -17.3 -8.3 -15 -8.9 -12.6 -9.1 -6 -5.3 -4.1 -4 -5 -5.5 -4.2 -5.5z"/>
<path fill="#00efff" stroke="#00efff" stroke-width="0.7" d="M334.2 895.2l-6.3 5.6 5.2 6.6 5.8 6.3 8.6 7.7 9.6 7 11.4 7.2 9.6 5.2 10.6 5.1 11.4 4.8 12.3 4.7 13.2 4.4 11 3.3 12.7 3.4 15.2 3.6 16 3.3 16.7 2.9 17.2 2.5 15.3 1.9 33.4 2.9 19.1 1 19.5 0.5 33.2 0 30.7 -1.1 29 -9.6 -30.2 2.2 -33.1 1.2 -25.9 0.1 -31.7 -1 -26.2 -1.8 -28.4 -3 -26.5 -4 -24.5 -4.9 -22.4 -5.5 -22.2 -6.8 -20.1 -7.5 -17.8 -8.2 -9.1 -4.8 -8.4 -5.2 -7.7 -5.2 -5.2 -4 -6.3 -5.4 -5.4 -5.4 -4.6 -5.4 -3.9 -5.3z"/>
<path fill="#00ffff" stroke="#00ffff" stroke-width="0.7" d="M341.2 889l-6.2 5.5 6.9 8.9 7 7.2 8.6 7.2 10.1 7.1 11.6 6.9 11.6 6 10.6 4.7 11.5 4.6 12.4 4.4 13.4 4.2 14.2 3.9 12.6 3 15.5 3.3 16.1 2.9 16.8 2.6 17.4 2.1 17.9 1.8 18.3 1.3 18.8 0.9 19.1 0.4 19.4 0 32.9 -1 36.9 -2.5 27.9 -10.7 -29.8 3.3 -32.6 2.4 -32.3 1.2 -31.5 -0.1 -30.7 -1.3 -29.5 -2.5 -26.8 -3.4 -24.9 -4.3 -13 -2.7 -14.5 -3.5 -22.5 -6.5 -20.3 -7.3 -11 -4.6 -10.2 -4.8 -15.5 -8.7 -7.7 -5.1 -6.8 -5.1 -6.2 -5.3 -5.3 -5.3 -4.7 -5.4 -4.6 -6.5z"/>
<path fill="#10ffef" stroke="#10ffef" stroke-width="0.7" d="M348.3 882.7l-6.2 5.5 4.6 6.5 4.7 5.4 7.5 7.3 8.8 6.9 10.2 6.9 11.8 6.7 10.4 5.1 14 6 11.9 4.5 12.7 4.1 13.5 3.9 14.3 3.6 15 3.3 15.6 3 20.9 3.2 18.1 2.1 17.5 1.7 18 1.2 18.4 0.8 18.8 0.3 19 -0.1 19.3 -0.5 19.5 -1.1 19.6 -1.4 36.3 -3.9 26.6 -11.7 -31.4 4.7 -32.1 3.5 -32.1 2.3 -31.6 1 -34.4 -0.4 -29.7 -1.6 -28.5 -2.8 -28.8 -4.2 -13.6 -2.6 -14.7 -3.1 -22.9 -6.1 -12.5 -3.8 -11.7 -4.2 -10.8 -4.3 -11 -5 -9.4 -4.8 -8.6 -4.9 -7.6 -5 -6.9 -5.1 -6 -5.1 -6.8 -6.8 -4.4 -5.3 -4.3 -6.5z"/>
<path fill="#20ffdf" stroke="#20ffdf" stroke-width="0.7" d="M355.4 876.5l-6.1 5.4 4.5 6.7 5.8 6.8 9.1 8.5 9 6.8 10.4 6.6 11.4 6.3 10.5 4.9 14.6 6 12.2 4.4 12.6 3.9 18.1 4.8 14.5 3.3 15.1 3 15.8 2.6 21.5 2.8 17.6 1.7 17.6 1.3 17.9 0.8 18.3 0.4 18.6 0 18.8 -0.5 21 -1.1 21.4 -1.7 21.3 -2.2 19.3 -2.5 22.9 -3.5 12.1 -5.9 12.9 -6.8 -16.5 3.3 -18.6 3.4 -31.2 4.5 -31.2 3.2 -31.1 2 -30.6 0.7 -18 -0.2 -17.8 -0.6 -17.3 -1 -17 -1.5 -28.7 -3.5 -13.9 -2.3 -14.9 -2.9 -14.3 -3.2 -13.5 -3.5 -12.7 -3.8 -12 -4.1 -11.1 -4.3 -10.5 -4.5 -9.1 -4.5 -8.8 -4.9 -10.2 -6.5 -7.1 -5.3 -5.9 -4.9 -6.2 -6.3 -5.4 -6.5 -4.1 -6.5z"/>
<path fill="#30ffcf" stroke="#30ffcf" stroke-width="0.7" d="M362.5 870.3l-6.1 5.3 4.1 6.5 5.4 6.5 8.5 8.3 8.4 6.6 9.8 6.5 11.3 6.4 12.8 6.2 10.6 4.4 12.3 4.5 11.9 3.9 17 4.7 13.9 3.3 14.7 3 15.3 2.6 16 2.3 16.4 1.8 17 1.5 16.3 1 18.8 0.6 18 0.2 33.5 -0.8 21.1 -1.3 19.6 -1.7 18.7 -2.1 18.7 -2.6 24.9 -4.1 22.7 -4.5 6.2 -3.4 -5.4 -4.7 -17.9 3.8 -18.1 3.4 -18.2 2.9 -18.3 2.5 -18.3 2 -18.3 1.6 -18.2 1.1 -18.1 0.6 -29.6 0.1 -28.8 -1.2 -27.7 -2.3 -28 -3.7 -15.1 -2.6 -12.7 -2.6 -13.7 -3.2 -13 -3.5 -12.3 -3.8 -11.4 -4.1 -10.4 -4.1 -9.4 -4.3 -8.7 -4.4 -9 -5.1 -7.4 -4.8 -8.4 -6.4 -5.5 -4.9 -6.2 -6.4 -4.7 -6.1 -3.9 -6.4z"/>
<path fill="#40ffbf" stroke="#40ffbf" stroke-width="0.7" d="M369.5 864.1l-5.9 5.2 3.9 6.4 4.7 6.1 6.2 6.5 8.6 7.3 10 7 10.8 6.3 9.6 4.9 12.6 5.6 12.4 4.7 11.5 3.8 15.6 4.5 13.4 3.4 14.2 3 14.9 2.7 15.4 2.3 16 1.9 16.5 1.6 15 1 30.9 1 17.8 -0.1 18 -0.5 32.5 -2 16.1 -1.5 18.3 -2.2 18.3 -2.6 18.1 -3.1 30 -6.1 -7 -6.3 -17.5 3.7 -17.7 3.3 -17.8 2.9 -17.8 2.3 -19 2.1 -20.4 1.6 -20 1 -17.7 0.4 -28.7 -0.3 -27.9 -1.6 -25.2 -2.4 -23.2 -3.4 -14.5 -2.6 -13.6 -2.9 -12.8 -3.2 -11.9 -3.4 -11.4 -3.7 -10.4 -3.8 -9.7 -4.1 -9 -4.1 -8.2 -4.3 -9.4 -5.6 -6.8 -4.6 -7.3 -5.7 -5.7 -5.3 -5.7 -6.2 -4.4 -6.1 -3.4 -5.9z"/>
<path fill="#50ffaf" stroke="#50ffaf" stroke-width="0.7" d="M376.6 857.9l-5.8 5.1 3.4 5.9 3.9 5.5 6.7 7.3 8.1 7.1 8.8 6.5 10 6.1 10 5.3 11.1 5 12.7 5.1 10.9 3.7 14.1 4.3 12.9 3.3 13.7 3.1 14.3 2.7 15 2.4 15.5 2 30 2.6 30.8 1.2 17.3 0.1 17.6 -0.4 30.3 -1.8 17.3 -1.5 17.8 -2.1 29.7 -4.5 17.7 -3.3 17.5 -3.7 -6.9 -6.1 -17 3.6 -17.3 3.2 -17.4 2.7 -17.6 2.3 -20.1 2 -19.9 1.4 -18 0.8 -17.2 0.3 -22.5 -0.3 -27.4 -1.4 -26.2 -2.6 -25.6 -3.8 -13.8 -2.6 -12.7 -2.9 -20.8 -5.7 -11.4 -3.7 -10.7 -3.9 -9.8 -4.2 -9.4 -4.4 -7.8 -4.2 -7.5 -4.6 -8.7 -6 -6 -5 -5.9 -5.7 -5.2 -5.9 -4 -5.9 -3.1 -5.6z"/>
<path fill="#60ff9f" stroke="#60ff9f" stroke-width="0.7" d="M383.7 851.7l-5.7 5 3.1 5.6 4 5.9 6.1 7 7.7 6.9 9 6.8 10.4 6.4 11.2 5.9 9.3 4.2 10 4.1 11 3.9 15.8 4.8 12.5 3.3 12.9 2.9 13.8 2.6 14.5 2.3 15.3 2 27.4 2.5 16.4 0.8 15.8 0.5 29.5 -0.3 17.3 -0.7 17.5 -1.2 29.2 -3.1 29 -4.2 17.3 -3.2 17 -3.6 -6.7 -6.1 -16.7 3.5 -16.8 3 -17.1 2.6 -17.1 2.2 -17.1 1.7 -17.1 1.2 -17 0.8 -17.4 0.4 -27 -0.5 -26.6 -1.6 -25.5 -2.7 -23.9 -3.8 -13.2 -2.7 -12.3 -2.9 -20.8 -5.9 -10.9 -3.7 -10.1 -4 -8.8 -3.8 -9 -4.5 -7.7 -4.4 -6.9 -4.4 -7.6 -5.6 -5.6 -4.7 -5.8 -5.9 -4.4 -5.4 -3.9 -5.9 -2.7 -5.4z"/>
<path fill="#70ff8f" stroke="#70ff8f" stroke-width="0.7" d="M390.8 845.5l-5.5 4.8 2.7 5.4 3.9 5.9 5.9 7 7.2 6.8 8.2 6.4 9 5.8 8.7 4.9 10.5 5.1 10.9 4.6 9.7 3.6 14.4 4.6 12.2 3.3 13.2 3.1 13 2.7 13.8 2.3 14.6 2 26.4 2.6 30.5 1.5 29.6 0 17 -0.7 17.1 -1.1 28.5 -2.8 17.1 -2.3 15.1 -2.4 29.8 -5.9 -6.5 -6.1 -16.4 3.4 -16.5 2.9 -16.7 2.5 -16.8 2 -16.8 1.6 -16.7 1.1 -16.8 0.7 -16.3 0.2 -26.7 -0.6 -23.8 -1.6 -22.2 -2.5 -23.3 -3.7 -21.9 -4.7 -11.3 -3 -12 -3.6 -10.6 -3.7 -9.8 -3.9 -9 -4 -8.5 -4.3 -7.2 -4.1 -8.7 -5.7 -6 -4.7 -6.1 -5.4 -5.3 -5.6 -3.6 -4.6 -3.8 -6.2 -2.4 -5.2z"/>
<path fill="#80ff80" stroke="#80ff80" stroke-width="0.7" d="M397.8 839.4l-5.2 4.5 3.1 6.5 3.5 5.3 5.2 6.4 6.8 6.7 8.1 6.4 9.2 6.1 10.1 5.6 8.5 4.2 8.8 3.8 10.6 4 10.8 3.6 11.6 3.3 13.9 3.5 12.4 2.6 13.1 2.4 13.9 2 14.5 1.8 15.4 1.3 16 1 15.9 0.5 27.1 -0.1 28 -1.4 16.7 -1.4 16.8 -1.9 27.8 -4.1 27.4 -5.4 -6.5 -6 -16.1 3.2 -16.2 2.8 -16.4 2.4 -16.4 1.8 -16.4 1.5 -16.3 1 -16.4 0.5 -16 0.1 -26.1 -0.8 -22.6 -1.8 -21.9 -2.6 -22.6 -3.9 -20.8 -4.8 -11.6 -3.3 -10.8 -3.4 -10 -3.7 -9.1 -3.8 -7.7 -3.7 -8.6 -4.5 -6.9 -4.2 -7.3 -5 -5.9 -4.8 -5.9 -5.5 -4.7 -5.4 -3.7 -5.3 -2.9 -5 -2 -4.9z"/>
<path fill="#8fff70" stroke="#8fff70" stroke-width="0.7" d="M407.3 831.3l-7.3 6.2 3.3 7.4 5.3 7.8 6.1 6.8 7.8 6.8 7.8 5.7 9 5.6 8.6 4.5 10.5 4.9 9.5 3.8 10 3.5 11.4 3.6 11.8 3.1 14.8 3.4 25.5 4.4 13.8 1.8 14.4 1.4 25.7 1.5 15.8 0.4 15 -0.1 28.2 -1.1 27.4 -2.4 16.4 -2.1 16.3 -2.5 26.9 -5.1 -6.5 -6 -15.7 3.1 -16 2.6 -30.1 3.8 -28.8 2.1 -16 0.5 -15.7 0.1 -22.7 -0.7 -22.9 -1.6 -23.6 -2.9 -22.1 -3.9 -20.7 -4.8 -10.1 -2.9 -11.2 -3.7 -9.8 -3.7 -8.9 -3.8 -7.9 -3.8 -7.6 -4.2 -6.6 -4.1 -7.3 -5.1 -5.3 -4.4 -5.5 -5.3 -4.2 -4.9 -3.8 -5.3 -3 -5.8 -1.8 -4.8z"/>
<path fill="#9fff60" stroke="#9fff60" stroke-width="0.7" d="M414.4 825.2l-6.9 5.9 1.7 4.6 1.7 3.5 4.9 7.5 5.8 6.5 7 6.3 7.8 5.9 8.6 5.4 7.6 4.2 10.8 5.1 8.7 3.6 10.5 3.8 10.7 3.3 12.4 3.4 11.1 2.6 24.2 4.5 26.9 3.3 14.4 1.1 14.6 0.7 26 0.4 15.9 -0.4 16.1 -0.9 26.8 -2.3 26.8 -3.7 26.3 -4.9 -6.5 -6 -26.9 4.8 -14.7 2 -15.8 1.8 -15.8 1.2 -15.7 0.9 -15.6 0.3 -15.4 0 -21.3 -0.9 -22.9 -1.9 -23.3 -3.1 -20.8 -4 -11.9 -2.9 -10.4 -2.9 -17.9 -6 -8.9 -3.6 -8.3 -3.8 -7.6 -4 -6.8 -3.9 -6 -4 -5.3 -4 -6 -5.2 -4.6 -4.7 -4.3 -5.4 -3 -4.8 -2.4 -4.8 -1.7 -5z"/>
<path fill="#afff50" stroke="#afff50" stroke-width="0.7" d="M421.4 819.1l-6.4 5.6 1.4 4.2 1.4 3.4 3.7 6.1 4.9 6.3 6.1 6.1 8 6.5 7.5 5.1 7.1 4.1 9.3 4.8 9.6 4.2 10.2 4 9.3 3.1 10.9 3.2 13.7 3.4 22.8 4.5 25.4 3.4 27 2 25.4 0.6 26 -0.7 15.7 -0.9 14.6 -1.3 26.4 -3.4 26.9 -4.8 -6.5 -6 -28.1 4.7 -28.2 3.2 -15.5 1.1 -15.4 0.7 -15.3 0.2 -15 -0.2 -19.5 -1 -23.5 -2.2 -20.2 -3 -18.2 -3.7 -11.6 -2.9 -10.8 -3.1 -16.9 -5.9 -8.2 -3.5 -8 -3.8 -7.2 -3.8 -6.4 -3.9 -5.7 -3.9 -6.6 -5.2 -4.6 -4.3 -4 -4.4 -3.7 -4.7 -3 -5.1 -2.2 -4.8 -1.4 -4.9z"/>
<path fill="#bfff40" stroke="#bfff40" stroke-width="0.7" d="M428.5 813.1l-5.9 5.1 1.1 3.9 1.7 4.2 3.2 5.8 4.7 6.1 5.7 5.9 7.3 6.2 7.2 5 6.7 4.1 8.8 4.6 9.2 4.2 9.4 3.8 9.5 3.3 10.5 3.2 12 3.1 21.5 4.5 24.8 3.5 25.8 2.1 27.6 0.8 25.5 -0.6 25.8 -1.8 25.8 -3.1 25.4 -4.4 -6.5 -6 -15 2.6 -14 2 -26.4 2.7 -28.5 1.3 -14.6 0.1 -14 -0.3 -19.9 -1.2 -20.1 -2.1 -21.1 -3.3 -16.4 -3.5 -18.3 -4.9 -10 -3.3 -9.1 -3.5 -7.5 -3.2 -8.5 -4.2 -12.7 -7.5 -5.6 -4 -6 -5 -4 -3.8 -4 -4.5 -3.3 -4.5 -2.8 -4.9 -2.2 -5.4 -1 -4.6z"/>
<path fill="#cfff30" stroke="#cfff30" stroke-width="0.7" d="M437.9 805.2l-7.6 6.4 1.3 5.6 3 6.5 4 6 5.2 6 6.7 6.1 6.1 4.7 8.1 5.3 7.2 4 8.5 4.2 10.4 4.4 8.4 3 11.3 3.6 10.9 3 20.3 4.4 22.6 3.5 25.1 2.4 25.3 1 24.2 -0.3 26.1 -1.6 25.3 -2.8 25 -4 -6.6 -6.1 -14.8 2.4 -14.5 1.9 -25.2 2.3 -27 1 -27 -0.5 -18.8 -1.3 -21.8 -2.6 -17.1 -3 -18.9 -4.3 -17.2 -5.2 -9.4 -3.4 -8.5 -3.6 -6.8 -3.2 -7.9 -4.2 -11.3 -7.3 -5 -3.9 -5.3 -4.8 -3.6 -3.8 -3.2 -4.1 -2.8 -4.2 -2.4 -4.9 -1.4 -4.5 -0.8 -4.2z"/>
<path fill="#dfff20" stroke="#dfff20" stroke-width="0.7" d="M445 799.2l-7 5.9 1.4 6.3 2.5 6 3.7 5.8 4.7 5.6 5.8 5.6 6.4 5.1 7.1 4.8 6.5 3.8 8.8 4.5 9.2 4 8.5 3.3 10.4 3.4 10.5 3 19 4.4 21.4 3.6 23.6 2.5 25.9 1.2 21 0 24.8 -1.3 24.8 -2.4 24.7 -3.8 -6.8 -6.1 -13.9 2.1 -15.1 1.8 -24.6 1.9 -24.9 0.6 -13 -0.2 -14.6 -0.7 -18.1 -1.5 -19.2 -2.6 -18.3 -3.6 -14.4 -3.6 -17 -5.4 -16.2 -6.5 -12.6 -6.6 -11.5 -7.6 -5.7 -4.7 -4.1 -3.9 -3.6 -4 -3.1 -4.2 -2.7 -4.6 -1.7 -3.9 -1.2 -4.2 -0.5 -4.5z"/>
<path fill="#efff10" stroke="#efff10" stroke-width="0.7" d="M452.1 793.3l-6.2 5.2 0.4 3.7 0.7 3.2 2.3 5.7 3.4 5.6 4.4 5.4 5.2 5.3 6.2 5.1 5.5 3.8 6.9 4.3 8.6 4.6 7.5 3.4 9.2 3.7 9 3.1 10.2 3.1 18.3 4.5 20.9 3.7 21.4 2.5 24.4 1.4 23.3 0.2 24.4 -1.2 22.3 -2.1 21.5 -3.1 -6.9 -6.2 -23.9 3.1 -25 1.8 -26.1 0.4 -24.6 -1.1 -17.8 -1.7 -18.6 -2.7 -14.2 -2.9 -16.5 -4.2 -15 -4.9 -8.3 -3.3 -7.8 -3.5 -11.6 -6.3 -11 -7.5 -5.4 -4.5 -3.8 -3.8 -3.4 -3.9 -3.4 -4.9 -2.4 -4.7 -1.5 -4.1 -0.7 -3.7 -0.1 -4z"/>
<path fill="#ffff00" stroke="#ffff00" stroke-width="0.7" d="M461.5 785.5l-7.6 6.3 0.3 5.4 1.6 5.6 2.7 5.4 3.9 5.4 4.4 5 5.8 5.2 5.5 4.2 5.5 3.7 7.9 4.6 8.1 4 6.9 3 7.2 2.8 10.6 3.6 9.4 2.7 11.1 2.7 19.1 3.7 20.9 2.7 19.7 1.5 23.4 0.5 23.9 -0.7 22.1 -1.8 21.1 -2.8 -7.1 -6.3 -23.6 2.7 -23.7 1.4 -23.5 0 -13.6 -0.6 -13.5 -1 -16.1 -1.9 -14.2 -2.4 -14.6 -3.1 -14.2 -3.9 -15.8 -5.6 -13.3 -5.9 -12.7 -7.2 -10.1 -7.5 -5 -4.6 -3.4 -3.7 -3.4 -4.6 -2.2 -3.7 -1.7 -3.8 -1.2 -4 -0.4 -4 0.3 -3.4z"/>
<path fill="#ffef00" stroke="#ffef00" stroke-width="0.7" d="M468.6 779.7l-6.6 5.4 -0.3 2.8 0.2 3.2 1.3 5.1 2.3 5 3.1 4.8 4.4 5.2 3.9 3.9 5.7 4.7 6.5 4.6 7.4 4.4 14.1 6.9 16.7 6.2 17.8 5.1 19.2 4 19.6 2.8 19.6 1.6 19.5 0.7 22.3 -0.3 22.6 -1.5 20 -2.4 -7.3 -6.3 -24.6 2.3 -22.1 0.8 -24.9 -0.5 -20.8 -1.7 -16.4 -2.3 -15.3 -2.9 -11.9 -2.9 -14.3 -4.3 -12.7 -4.9 -13.7 -6.6 -11.4 -7.1 -9.3 -7.5 -3.6 -3.7 -3.5 -4.2 -2.5 -3.7 -2.2 -4.3 -1.3 -3.8 -0.6 -3.4 0.1 -3.5 0.7 -3.1z"/>
<path fill="#ffdf00" stroke="#ffdf00" stroke-width="0.7" d="M478 772.1l-7.7 6.2 -0.8 4.8 0.5 4.6 1.4 4.4 2.5 4.7 3.4 4.9 4.3 4.7 3.8 3.5 5.1 4.1 6.5 4.5 6.9 4.1 8 4 15.1 6.3 17.6 5.5 16.1 3.8 17.9 3.1 19.8 2.2 21.6 1.1 18.5 0 23.4 -1.1 18.7 -1.9 -7.7 -6.5 -18.5 1.5 -20.5 0.7 -16.4 -0.3 -20.4 -1.4 -18.5 -2.3 -16.5 -3 -15.3 -3.9 -13.4 -4.3 -11.9 -4.8 -12.7 -6.4 -10.7 -6.9 -5.5 -4.3 -4 -3.7 -3.4 -3.8 -3.5 -4.6 -2 -3.5 -1.7 -3.9 -0.8 -3.4 -0.2 -3.4 0.6 -3.3 1.2 -2.6z"/>
<path fill="#ffcf00" stroke="#ffcf00" stroke-width="0.7" d="M485.1 766.4l-6.3 5.1 -1.2 2.6 -0.6 3.3 0.3 4.1 1.3 4.2 2.1 4.2 3.2 4.7 4 4.6 4.5 4.3 9.7 7.3 6.7 4.1 7.3 3.9 14.2 6.2 16.5 5.4 15 3.8 16.8 3.1 18.5 2.3 20.4 1.4 16.4 0.3 20.5 -0.7 18.5 -1.5 -8 -6.7 -18 1.1 -16.3 0.2 -16 -0.5 -18.5 -1.5 -17.3 -2.4 -15.7 -3.2 -14 -3.8 -15.5 -5.4 -13.2 -6 -11.1 -6.4 -9.3 -6.9 -7.4 -7.2 -2.8 -3.5 -2.6 -3.9 -1.9 -4 -1 -3.4 -0.3 -3.4 0.4 -2.8 1.1 -2.6 1.9 -2.3z"/>
<path fill="#ffbf00" stroke="#ffbf00" stroke-width="0.7" d="M494.5 758.8l-7.6 6.2 -1.6 2.1 -1 2.7 -0.3 3.4 0.6 3.6 1.4 3.8 2.1 3.9 3.3 4.5 4 4.3 4.6 4.3 5.3 4.2 6 4 6.5 3.8 13 6.2 15 5.5 13.6 3.9 15.3 3.3 16.9 2.7 18.6 1.8 18 0.7 18.7 -0.2 18 -1.1 -8.6 -6.9 -18.3 0.6 -15.3 -0.2 -14.2 -0.9 -17.4 -1.9 -15.8 -2.7 -14.3 -3.4 -12.7 -3.9 -14 -5.4 -12 -6 -10.1 -6.4 -5.2 -4 -4.3 -3.8 -3 -3.1 -3.6 -4.3 -2.7 -4.2 -1.6 -3.1 -1.1 -3.2 -0.4 -3.5 0.4 -2.8 1.2 -2.4 2 -2 2.3 -1.4z"/>
<path fill="#ffaf00" stroke="#ffaf00" stroke-width="0.7" d="M495.9 757.7l-2.6 1.7 -1.8 2.1 -0.9 2.3 -0.3 3 0.6 3.4 1.5 3.9 2.2 3.8 2.6 3.6 7 7.4 4.4 3.7 5.5 4 10.4 6.3 12.4 5.9 11.4 4.3 12.7 3.9 14.3 3.4 15.8 2.7 17.4 1.9 14.2 0.9 15.3 0.2 18.3 -0.6 -9.3 -7.2 -12.7 0.1 -14.8 -0.5 -13.7 -1.1 -15.1 -1.9 -11.2 -2.1 -13.7 -3.2 -12.3 -3.8 -11 -4.2 -9.7 -4.5 -8.9 -5 -8.9 -6.1 -7.1 -6.1 -5.7 -6.2 -4.6 -6.8 -1.4 -3.2 -0.8 -2.9 -0.2 -2.4 0.2 -1.6 1.5 -2.8 0 3 -0.7 0.5z"/>
<path fill="#ff9f00" stroke="#ff9f00" stroke-width="0.7" d="M496.7 754.2l-1.1 2 -0.4 2.2 0.2 2.7 0.9 2.9 1.7 3.5 2.2 3.5 5.8 7 7.4 6.7 8.9 6.3 10.5 6.1 9.7 4.5 11 4.2 12.3 3.8 13.7 3.2 11.2 2.1 15.1 1.9 13.7 1.1 14.8 0.5 12.7 -0.1 -10.2 -7.7 -10.1 -0.2 -13 -0.8 -12.1 -1.3 -11.3 -1.7 -10.5 -2.2 -12.8 -3.3 -8.7 -2.8 -10.6 -4 -7.2 -3.3 -8.6 -4.6 -5.9 -3.7 -6.9 -5 -7.5 -6.4 -7.2 -7.8 -5 -7.1 -1.5 -2.8 -1 -2.8 0 3.2z"/>
<path fill="#ff8f00" stroke="#ff8f00" stroke-width="0.7" d="M497 751.1l2.4 5.3 4.8 6.9 6 6.7 5.7 5.2 6.5 5.1 7.5 4.9 8.3 4.6 9.5 4.5 10.6 4 8.7 2.8 12.8 3.3 10.5 2.2 11.3 1.7 12.1 1.3 13 0.8 10.1 0.2 -11.7 -8.2 -9.3 -0.7 -11.6 -1.3 -17.7 -3 -9.6 -2.3 -8.9 -2.6 -8.2 -2.8 -7.6 -3 -13.5 -6.6 -5.9 -3.5 -7.2 -4.8 -9.6 -7.6 -14.3 -12.9 -4.8 -3.8 0 3.3z"/>
<path fill="#ff8000" stroke="#ff8000" stroke-width="0.7" d="M510.2 759.1l12 10.2 10.6 7.3 12.4 6.9 7 3.2 7.6 3 14.1 4.6 16 3.8 18.1 2.8 17.1 1.5 -14.2 -9.3 -15 -2.3 -15.8 -3.6 -14 -4.3 -12.4 -5 -8.9 -4.3 -10 -5.8 -9.1 -6 -14.1 -10.1 -5.4 -3.4 -9.3 -2.2 0 1.4 4.4 3.4 8.6 7.9z"/>
<path fill="#ff7000" stroke="#ff7000" stroke-width="0.7" d="M531.1 765.5l9.6 5.8 8.4 4.5 9.4 4.1 10.2 3.9 11.4 3.4 9.2 2.3 10 1.9 11.6 1.7 -20.2 -11.9 -16.5 -4.5 -15.1 -5.7 -15.5 -7.5 -15.3 -9 -22.1 -6.2 5.4 3.4 18.9 13.4z"/>
<path fill="#ff6000" stroke="#ff6000" stroke-width="0.7" d="M541.6 762.3l12.8 6.6 12 5 13.3 4.5 11 2.8 -20.6 -10.4 -18.9 -8.2 -11.8 -4.4 -11.1 -3.7 11.2 6.7z"/>
</g>
<path fill="none" stroke="#000" stroke-width="3.1" stroke-linejoin="round" d="M496.9 755.6 492.5 760.2 488 764.9 483.6 769.5 479.1 774.2 474.7 779 470.2 783.7 465.8 788.5 461.3 793.3 456.9 798.2 452.4 803.1 448 808 443.6 812.9 439.1 817.9 434.7 822.9 430.2 827.9 425.8 832.9 421.3 838 416.9 843.1 412.4 848.2 408 853.4 403.5 858.6 399.1 863.8 394.7 869 390.2 874.2 385.8 879.5 381.3 884.7 376.9 890 372.4 895.3 368 900.7 363.5 906 359.1 911.4 354.6 916.7 350.2 922.1 345.8 927.5 341.3 932.9 336.9 938.2 332.4 943.6 328 949 323.5 954.4 319.1 959.8 314.6 965.2 310.2 970.6 305.7 976 301.3 981.4 296.9 986.7 292.4 992.1 288 997.4 283.5 1002.8 279.1 1008.1 274.6 1013.3M496.9 754.3 493.8 758.9 490.8 763.5 487.7 768.1 484.7 772.8 481.6 777.6 478.5 782.3 475.5 787.1 472.4 791.9 469.4 796.8 466.3 801.7 463.2 806.6 460.2 811.6 457.1 816.6 454.1 821.7 451 826.7 447.9 831.9 444.9 837 441.8 842.2 438.8 847.5 435.7 852.7 432.6 858 429.6 863.4 426.5 868.7 423.5 874.1 420.4 879.6 417.3 885 414.3 890.5 411.2 896.1 408.2 901.6 405.1 907.2 402 912.8 399 918.4 395.9 924 392.9 929.7 389.8 935.4 386.7 941.1 383.7 946.8 380.6 952.5 377.6 958.2 374.5 963.9 371.4 969.7 368.4 975.4 365.3 981.1 362.3 986.8 359.2 992.5 356.1 998.2 353.1 1003.9 350 1009.6 347 1015.2 343.9 1020.8M496.9 752.9 495.3 757.3 493.8 761.8 492.2 766.3 490.7 770.8 489.1 775.4 487.6 780 486 784.7 484.4 789.4 482.9 794.2 481.3 798.9 479.8 803.8 478.2 808.7 476.7 813.6 475.1 818.6 473.5 823.6 472 828.7 470.4 833.8 468.9 839 467.3 844.2 465.8 849.5 464.2 854.8 462.6 860.2 461.1 865.6 459.5 871 458 876.5 456.4 882.1 454.9 887.7 453.3 893.3 451.7 899 450.2 904.7 448.6 910.4 447.1 916.2 445.5 922 444 927.8 442.4 933.7 440.8 939.6 439.3 945.4 437.7 951.4 436.2 957.3 434.6 963.2 433.1 969.2 431.5 975.1 430 981.1 428.4 987 426.8 992.9 425.3 998.8 423.7 1004.7 422.2 1010.6 420.6 1016.5 419.1 1022.3M496.9 751.5 496.9 755.6 496.9 759.8 496.9 764 496.9 768.3 496.9 772.5 496.9 776.9 496.9 781.3 496.9 785.7 497 790.2 497 794.7 497 799.3 497 804 497 808.7 497 813.5 497 818.4 497 823.3 497 828.2 497 833.3 497 838.3 497 843.5 497 848.7 497 854 497 859.3 497 864.7 497 870.2 497.1 875.7 497.1 881.2 497.1 886.9 497.1 892.5 497.1 898.2 497.1 904 497.1 909.8 497.1 915.7 497.1 921.5 497.1 927.5 497.1 933.4 497.1 939.4 497.1 945.4 497.1 951.4 497.1 957.4 497.1 963.5 497.1 969.5 497.2 975.6 497.2 981.6 497.2 987.6 497.2 993.7 497.2 999.6 497.2 1005.6 497.2 1011.6 497.2 1017.5M496.9 750.2 498.5 753.8 500 757.5 501.6 761.2 503.2 765 504.7 768.9 506.3 772.8 507.9 776.8 509.4 780.8 511 784.9 512.6 789 514.2 793.3 515.7 797.6 517.3 802 518.9 806.4 520.4 810.9 522 815.5 523.6 820.2 525.1 825 526.7 829.8 528.3 834.7 529.8 839.7 531.4 844.8 533 849.9 534.5 855.1 536.1 860.4 537.7 865.8 539.3 871.2 540.8 876.7 542.4 882.2 544 887.8 545.5 893.5 547.1 899.2 548.7 905 550.2 910.8 551.8 916.7 553.4 922.6 554.9 928.5 556.5 934.4 558.1 940.4 559.6 946.4 561.2 952.4 562.8 958.5 564.3 964.5 565.9 970.5 567.5 976.5 569.1 982.5 570.6 988.5 572.2 994.4 573.8 1000.3 575.3 1006.1M496.9 748.8 500 751.8 503 754.9 506.1 758 509.2 761.2 512.3 764.5 515.3 767.8 518.4 771.2 521.5 774.7 524.5 778.3 527.6 781.9 530.7 785.6 533.8 789.4 536.8 793.3 539.9 797.3 543 801.4 546 805.6 549.1 809.9 552.2 814.2 555.2 818.7 558.3 823.2 561.4 827.9 564.5 832.6 567.5 837.4 570.6 842.3 573.7 847.3 576.7 852.4 579.8 857.5 582.9 862.8 586 868.1 589 873.5 592.1 878.9 595.2 884.4 598.2 890 601.3 895.7 604.4 901.3 607.5 907.1 610.5 912.8 613.6 918.6 616.7 924.5 619.7 930.3 622.8 936.2 625.9 942.1 628.9 948 632 953.8 635.1 959.7 638.2 965.5 641.2 971.3 644.3 977.1 647.4 982.8 650.4 988.5M496.9 747.4 501.4 749.7 505.8 752 510.3 754.4 514.7 756.8 519.2 759.4 523.6 762 528.1 764.7 532.5 767.5 537 770.4 541.5 773.4 545.9 776.5 550.4 779.7 554.8 783 559.3 786.4 563.7 789.9 568.2 793.5 572.6 797.3 577.1 801.1 581.5 805.1 586 809.1 590.5 813.3 594.9 817.6 599.4 822 603.8 826.5 608.3 831.1 612.7 835.8 617.2 840.5 621.6 845.4 626.1 850.4 630.6 855.4 635 860.6 639.5 865.8 643.9 871.1 648.4 876.4 652.8 881.8 657.3 887.2 661.7 892.7 666.2 898.3 670.7 903.9 675.1 909.5 679.6 915.1 684 920.7 688.5 926.3 692.9 931.9 697.4 937.5 701.8 943.1 706.3 948.6 710.7 954.1 715.2 959.5 719.7 964.9M468.6 779.7 469.5 779.6 470.5 779.5 471.5 779.4 472.5 779.3 473.6 779.1 474.7 779 475.8 778.8 476.9 778.6 478 778.3 479.2 778.1 480.4 777.8 481.6 777.6 482.8 777.3 484.1 776.9 485.3 776.6 486.6 776.2 487.8 775.8 489.1 775.4 490.4 775 491.7 774.6 493 774.1 494.3 773.6 495.6 773.1 496.9 772.5 498.2 772 499.5 771.4 500.9 770.8 502.2 770.2 503.5 769.6 504.7 768.9 506 768.2 507.3 767.5 508.6 766.8 509.8 766 511 765.3 512.3 764.5 513.5 763.7 514.6 762.8 515.8 762 517 761.1 518.1 760.3 519.2 759.4 520.3 758.4 521.3 757.5 522.3 756.5 523.3 755.6 524.3 754.6 525.2 753.6M440.3 803.2 442.2 803.2 444.1 803.3 446.1 803.3 448.2 803.2 450.3 803.2 452.4 803.1 454.7 802.9 456.9 802.8 459.2 802.5 461.5 802.3 463.9 802 466.3 801.7 468.7 801.3 471.2 800.9 473.7 800.5 476.2 800 478.8 799.5 481.3 798.9 483.9 798.3 486.5 797.7 489.1 797 491.7 796.3 494.3 795.5 497 794.7 499.6 793.9 502.2 793 504.8 792.1 507.4 791.1 510 790.1 512.6 789 515.1 788 517.7 786.8 520.2 785.7 522.7 784.4 525.2 783.2 527.6 781.9 530 780.6 532.4 779.2 534.7 777.8 537 776.4 539.3 774.9 541.5 773.4 543.6 771.8 545.7 770.2 547.8 768.6 549.8 767 551.7 765.3 553.6 763.6M412 827.2 414.8 827.4 417.7 827.6 420.7 827.8 423.8 827.9 427 827.9 430.2 827.9 433.5 827.8 436.9 827.7 440.3 827.6 443.8 827.3 447.4 827.1 451 826.7 454.7 826.4 458.4 825.9 462.1 825.4 465.9 824.9 469.7 824.3 473.5 823.6 477.4 822.9 481.3 822.1 485.2 821.2 489.1 820.3 493.1 819.4 497 818.4 500.9 817.3 504.8 816.1 508.8 814.9 512.7 813.7 516.6 812.3 520.4 810.9 524.3 809.5 528.1 808 531.9 806.4 535.6 804.8 539.3 803.2 543 801.4 546.6 799.6 550.1 797.8 553.6 795.9 557.1 794 560.4 792 563.7 789.9 567 787.8 570.1 785.6 573.2 783.4 576.2 781.2 579.1 778.9 581.9 776.6M383.7 851.7 387.5 852.1 391.4 852.5 395.4 852.8 399.5 853.1 403.7 853.3 408 853.4 412.4 853.4 416.9 853.4 421.5 853.4 426.1 853.2 430.9 853 435.7 852.7 440.6 852.4 445.5 851.9 450.5 851.4 455.5 850.9 460.6 850.2 465.8 849.5 470.9 848.7 476.1 847.8 481.3 846.8 486.5 845.8 491.8 844.7 497 843.5 502.3 842.2 507.5 840.9 512.7 839.5 517.9 838 523.1 836.4 528.3 834.7 533.4 833 538.5 831.2 543.5 829.3 548.5 827.4 553.4 825.3 558.3 823.2 563.1 821.1 567.9 818.8 572.5 816.5 577.1 814.1 581.6 811.7 586 809.1 590.3 806.6 594.5 803.9 598.6 801.2 602.6 798.4 606.5 795.6 610.3 792.7M355.4 876.5 360.1 877.2 365 877.8 370 878.3 375.1 878.8 380.4 879.2 385.8 879.5 391.3 879.7 396.9 879.8 402.6 879.9 408.5 879.9 414.4 879.8 420.4 879.6 426.5 879.3 432.7 878.9 438.9 878.5 445.2 877.9 451.6 877.3 458 876.5 464.4 875.7 470.9 874.8 477.4 873.8 483.9 872.7 490.5 871.5 497 870.2 503.6 868.8 510.1 867.3 516.7 865.7 523.2 864 529.7 862.3 536.1 860.4 542.5 858.5 548.9 856.4 555.2 854.3 561.4 852 567.6 849.7 573.7 847.3 579.7 844.8 585.6 842.2 591.4 839.6 597.2 836.8 602.8 834 608.3 831.1 613.7 828.1 618.9 825 624.1 821.9 629.1 818.6 633.9 815.3 638.6 812M327.1 901.5 332.8 902.4 338.6 903.3 344.6 904.1 350.7 904.8 357.1 905.5 363.5 906 370.2 906.4 376.9 906.8 383.8 907 390.8 907.2 397.9 907.2 405.1 907.2 412.4 907 419.8 906.8 427.3 906.4 434.9 905.9 442.5 905.4 450.2 904.7 457.9 903.9 465.7 903 473.5 902 481.4 900.8 489.2 899.6 497.1 898.2 504.9 896.8 512.8 895.2 520.6 893.5 528.4 891.7 536.2 889.8 544 887.8 551.6 885.7 559.3 883.5 566.8 881.1 574.3 878.7 581.7 876.1 589 873.5 596.2 870.7 603.3 867.9 610.3 864.9 617.2 861.8 624 858.7 630.6 855.4 637 852.1 643.3 848.7 649.5 845.1 655.5 841.5 661.3 837.8 667 834.1M298.8 926.5 305.4 927.8 312.2 929 319.2 930.1 326.4 931.1 333.8 932 341.3 932.9 349 933.6 356.9 934.1 364.9 934.6 373.1 935 381.4 935.2 389.8 935.4 398.3 935.4 407 935.3 415.7 935.1 424.5 934.7 433.4 934.3 442.4 933.7 451.4 933 460.5 932.1 469.6 931.1 478.8 930 487.9 928.8 497.1 927.5 506.3 926 515.4 924.4 524.6 922.6 533.7 920.8 542.8 918.8 551.8 916.7 560.8 914.4 569.7 912 578.5 909.5 587.2 906.9 595.9 904.2 604.4 901.3 612.8 898.4 621.1 895.3 629.2 892.1 637.3 888.8 645.1 885.3 652.8 881.8 660.4 878.1 667.7 874.4 674.9 870.6 681.9 866.6 688.7 862.6 695.3 858.4M270.5 951.4 278 953.1 285.8 954.7 293.8 956.1 302 957.5 310.5 958.7 319.1 959.8 327.9 960.8 336.9 961.7 346.1 962.5 355.4 963.1 364.9 963.6 374.5 963.9 384.3 964.2 394.1 964.2 404.1 964.2 414.2 964 424.4 963.7 434.6 963.2 444.9 962.6 455.3 961.9 465.7 961 476.2 959.9 486.7 958.8 497.1 957.4 507.6 956 518.1 954.3 528.5 952.6 539 950.7 549.3 948.6 559.6 946.4 569.9 944.1 580.1 941.6 590.1 939 600.1 936.3 610 933.4 619.7 930.3 629.4 927.2 638.8 923.9 648.1 920.5 657.3 916.9 666.3 913.2 675.1 909.5 683.7 905.5 692.1 901.5 700.4 897.4 708.3 893.1 716.1 888.7 723.6 884.3M242.2 976.2 250.7 978.2 259.4 980.2 268.4 982 277.7 983.7 287.2 985.3 296.9 986.7 306.8 988.1 316.9 989.2 327.2 990.3 337.7 991.2 348.4 991.9 359.2 992.5 370.2 993 381.3 993.3 392.5 993.4 403.9 993.4 415.3 993.3 426.8 992.9 438.4 992.5 450.1 991.8 461.8 991 473.6 990 485.4 988.9 497.2 987.6 509 986.2 520.7 984.6 532.5 982.8 544.2 980.9 555.9 978.8 567.5 976.5 579 974.1 590.5 971.5 601.8 968.8 613 965.9 624.1 962.9 635.1 959.7 645.9 956.4 656.6 952.9 667.1 949.2 677.4 945.5 687.5 941.6 697.4 937.5 707.1 933.3 716.5 929 725.8 924.6 734.8 920 743.5 915.3 752 910.5"/>
<path fill="none" stroke="#000" stroke-width="3.1" d="M496.9 757 496.9 746.1"/>
<path fill="none" stroke="#000" stroke-width="2.3" stroke-linejoin="round" d="M496.9 757 491.2 761.5 485.6 766 479.9 770.5 474.3 775.1 468.6 779.7 462.9 784.4 457.3 789 451.6 793.7 446 798.4 440.3 803.2 434.6 807.9 429 812.7 423.3 817.5 417.7 822.4 412 827.2 406.3 832.1 400.7 837 395 841.9 389.4 846.8 383.7 851.7 378 856.6 372.4 861.6 366.7 866.6 361.1 871.5 355.4 876.5 349.7 881.5 344.1 886.5 338.4 891.5 332.8 896.5 327.1 901.5 321.4 906.5 315.8 911.5 310.1 916.5 304.5 921.5 298.8 926.5 293.1 931.5 287.5 936.5 281.8 941.5 276.2 946.5 270.5 951.4 264.8 956.4 259.2 961.4 253.5 966.3 247.9 971.2 242.2 976.2 236.5 981.1 230.9 985.9 225.2 990.8 219.6 995.7 213.9 1000.5"/>
<path fill="none" stroke="#000" stroke-width="3.9" stroke-linejoin="round" d="M496.9 746.1 502.6 747.4 508.2 748.8 513.9 750.3 519.6 751.9 525.2 753.6 530.9 755.3 536.6 757.2 542.2 759.2 547.9 761.4 553.6 763.6 559.3 765.9 564.9 768.4 570.6 771 576.3 773.7 581.9 776.6 587.6 779.5 593.3 782.6 598.9 785.9 604.6 789.2 610.3 792.7 615.9 796.3 621.6 800.1 627.3 803.9 632.9 807.9 638.6 812 644.3 816.2 649.9 820.5 655.6 824.9 661.3 829.4 667 834.1 672.6 838.8 678.3 843.6 684 848.5 689.6 853.4 695.3 858.4 701 863.5 706.6 868.6 712.3 873.8 718 879 723.6 884.3 729.3 889.5 735 894.8 740.6 900 746.3 905.3 752 910.5 757.6 915.7 763.3 920.8 769 925.9 774.6 930.9 780.3 935.9"/>
<path fill="none" stroke="#000" stroke-width="5.0" stroke-linejoin="round" stroke-linecap="round" d="M213.9 1000.5 223.3 1003 233 1005.3 243 1007.5 253.3 1009.6 263.8 1011.5 274.6 1013.3 285.7 1015 296.9 1016.5 308.4 1017.8 320 1018.9 331.9 1020 343.9 1020.8 356.1 1021.5 368.4 1022 380.9 1022.3 393.5 1022.5 406.2 1022.5 419.1 1022.3 431.9 1021.9 444.9 1021.4 457.9 1020.7 471 1019.8 484.1 1018.7 497.2 1017.5 510.3 1016 523.4 1014.4 536.5 1012.6 549.5 1010.6 562.4 1008.5 575.3 1006.1 588.1 1003.6 600.8 1000.9 613.4 998.1 625.9 995.1 638.3 991.9 650.4 988.5 662.5 984.9 674.3 981.2 686 977.4 697.4 973.4 708.7 969.2 719.7 964.9 730.4 960.4 741 955.8 751.2 951 761.2 946.1 770.9 941 780.3 935.9"/>
<path fill="none" stroke="#262626" stroke-width="1.5" stroke-linejoin="miter" d="M157.3 1045L497.4 1190.6L837 1045M157.3 1045L157.3 838.2L496.9 692.6L837 838.2L837 1045"/>
<path fill="none" stroke="#262626" stroke-width="1.4" d="M157.3 1045L149 1048.5M837 1045L845.3 1048.5M171.5 1051.1L167.2 1052.9M822.9 1051.1L827.2 1052.9M185.6 1057.1L181.3 1059M808.7 1057.1L813 1059M199.8 1063.2L195.5 1065.1M794.5 1063.2L798.9 1065M214 1069.3L209.7 1071.1M780.4 1069.3L784.7 1071.1M228.2 1075.3L219.9 1078.9M766.2 1075.3L774.5 1078.9M242.3 1081.4L238 1083.3M752.1 1081.4L756.4 1083.2M256.5 1087.5L252.2 1089.3M738 1087.5L742.3 1089.3M270.7 1093.5L266.3 1095.4M723.8 1093.5L728.1 1095.4M284.8 1099.6L280.5 1101.5M709.6 1099.6L714 1101.4M299 1105.7L290.7 1109.2M695.5 1105.7L703.8 1109.2M313.2 1111.7L308.9 1113.6M681.4 1111.7L685.7 1113.6M327.4 1117.8L323 1119.7M667.2 1117.8L671.5 1119.6M341.5 1123.9L337.2 1125.7M653 1123.9L657.4 1125.7M355.7 1129.9L351.4 1131.8M638.9 1129.9L643.2 1131.8M369.9 1136L361.6 1139.5M624.8 1136L633 1139.5M384 1142.1L379.7 1143.9M610.6 1142.1L614.9 1143.9M398.2 1148.1L393.9 1150M596.4 1148.1L600.8 1150M412.4 1154.2L408.1 1156.1M582.3 1154.2L586.6 1156M426.5 1160.3L422.2 1162.1M568.1 1160.3L572.5 1162.1M440.7 1166.3L432.4 1169.9M554 1166.3L562.3 1169.9M454.9 1172.4L450.6 1174.3M539.9 1172.4L544.2 1174.2M469.1 1178.5L464.7 1180.3M525.7 1178.5L530 1180.3M483.2 1184.5L478.9 1186.4M511.5 1184.5L515.9 1186.4M497.4 1190.6L493.1 1192.5M497.4 1190.6L501.7 1192.4M157.3 1045L149 1041.5M157.3 1026.2L153 1024.4M157.3 1007.4L153 1005.6M157.3 988.6L153 986.8M157.3 969.8L153 968M157.3 951L149 947.5M157.3 932.2L153 930.4M157.3 913.4L153 911.6M157.3 894.6L153 892.8M157.3 875.8L153 874M157.3 857L149 853.5M157.3 838.2L153 836.4"/>
<path fill="none" stroke="#dcdcdc" stroke-width="1.3" d="M1364.2 929.7L1364.2 722.9M1505.8 929.7L1505.8 722.9M1364.2 929.7L1704.2 1075.3M1505.8 929.7L1166.2 1075.3M1293.4 960.1L1293.4 753.3M1576.6 960.1L1576.6 753.3M1293.4 960.1L1633.5 1105.7M1576.6 960.1L1237 1105.7M1222.7 990.4L1222.7 783.6M1647.5 990.4L1647.5 783.6M1222.7 990.4L1562.8 1136M1647.5 990.4L1307.9 1136M1151.9 1020.7L1151.9 813.9M1718.3 1020.7L1718.3 813.9M1151.9 1020.7L1492 1166.3M1718.3 1020.7L1378.7 1166.3M1434.9 805.4L1095.3 951M1434.9 805.4L1775 951M1434.9 711.4L1095.3 857M1434.9 711.4L1775 857"/>
<path fill="none" stroke="#262626" stroke-width="1.5" d="M1434.9 899.4L1095.3 1045M1434.9 899.4L1775 1045M1434.9 899.4L1434.9 692.6"/>
<g opacity="0.7">
<path fill="#0060ff" stroke="#0060ff" stroke-width="0.7" d="M1159 972.7l-7.1 5.4 14.2 4.6 18.4 5.3 -14.3 -8.6 -10.6 -7.2z"/>
<path fill="#0070ff" stroke="#0070ff" stroke-width="0.7" d="M1168.4 965.3l-8.8 6.9 10.6 7.2 14.3 8.6 22.7 5.6 22.6 4.6 -14.4 -6.4 -17.2 -8.6 -15.6 -8.9 -13.8 -9.3z"/>
<path fill="#0080ff" stroke="#0080ff" stroke-width="0.7" d="M1175.5 959.7l-6.7 5.3 13.8 9.3 11.6 6.7 12.4 6.6 18 8.4 5.2 2.2 5.1 1 23.1 3.8 21.8 2.9 -14.1 -4.7 -15.2 -5.5 -14.4 -5.8 -13.5 -5.9 -12.6 -6.3 -11.7 -6.4 -10.9 -6.5 -9.8 -6.8z"/>
<path fill="#008fff" stroke="#008fff" stroke-width="0.7" d="M1184.9 952.1l-7.3 5.9 3.2 2.3 13.8 8.9 15.4 8.5 17 8.3 18.6 7.8 14.9 5.6 19.3 6.5 26.6 2.7 27.5 1.9 -25.3 -6.2 -21.9 -6.3 -20.5 -6.8 -19.1 -7.2 -17.6 -7.7 -16.1 -8.1 -14.4 -8.4 -12.9 -8.7z"/>
<path fill="#009fff" stroke="#009fff" stroke-width="0.7" d="M1194.4 944.4l-8.3 6.7 12.9 8.7 14.4 8.4 17.3 8.6 20.1 8.6 20.4 7.6 15.5 5 16.3 4.7 30.9 7.8 29.6 1.1 27.7 0.2 -32.6 -5.5 -29.3 -6.2 -27.4 -7.2 -25.4 -7.9 -23.3 -8.7 -21.1 -9.4 -18.6 -10 -10 -6.2 -9.1 -6.3z"/>
<path fill="#00afff" stroke="#00afff" stroke-width="0.7" d="M1201.4 938.5l-7 5.9 12.3 8.4 13.9 8.2 19.7 9.7 17.3 7.4 23.8 8.5 20.5 6.3 21.8 5.8 23 5.2 24 4.6 20.5 3.3 30.9 -0.8 28.5 -1.5 -21.9 -2 -19.1 -2.1 -18.7 -2.5 -18.1 -2.9 -17.6 -3.3 -17 -3.6 -16.4 -3.9 -15.7 -4.3 -15 -4.5 -17.1 -5.9 -15 -5.8 -12.5 -5.4 -11.6 -5.6 -10.7 -5.8 -12.2 -7.5 -9.5 -6.8z"/>
<path fill="#00bfff" stroke="#00bfff" stroke-width="0.7" d="M1208.5 932.7l-6 4.9 8.7 6.2 9.6 6.1 10.4 5.9 11.4 5.7 20.7 9 21.7 7.9 23.7 7.3 23.9 6.1 28.4 6 29.3 5 32 4.1 28.3 2.6 30.4 -2.7 29.9 -3.5 -24.1 -0.5 -19.6 -0.9 -25.7 -1.7 -18.8 -1.8 -22.3 -2.7 -19.9 -3 -22.9 -4.1 -21.8 -4.8 -20.7 -5.3 -19.5 -5.8 -18.2 -6.3 -14.5 -5.8 -14.1 -6.4 -14.3 -7.4 -12.8 -7.8 -11.2 -8z"/>
<path fill="#00cfff" stroke="#00cfff" stroke-width="0.7" d="M1217.9 924.7l-7.4 6.3 8.3 6 12.4 7.9 13.7 7.4 11.6 5.5 12.3 5.2 13 5 23.4 7.7 15 4.2 15.6 3.9 27.5 5.9 29 4.8 18.1 2.5 18.5 2 19 1.7 19.3 1.2 32.9 1.2 10.8 0.2 8.8 -1.3 25.5 -4.1 25.5 -4.9 -27 1.3 -26.2 0.5 -25.9 -0.2 -25.4 -1 -27.6 -1.9 -27.5 -2.9 -23.3 -3.2 -23.4 -4.1 -25.5 -5.5 -20.1 -5.2 -18.8 -5.7 -21.8 -7.8 -19.6 -8.5 -14.1 -7.2 -13 -7.8 -13.1 -9.4z"/>
<path fill="#00dfff" stroke="#00dfff" stroke-width="0.7" d="M1225 918.8l-6.6 5.6 5.1 3.9 11.5 7.7 12.9 7.4 14.5 7.2 15.8 6.7 12.8 4.8 13.6 4.5 14.2 4.2 14.9 4 15.6 3.6 15.1 3.1 29.2 5 17.5 2.3 18 2 18.4 1.6 18.7 1.2 19 0.8 19.3 0.4 19.5 0 19.7 -0.5 27 -1.3 29.8 -6.8 28.1 -7.6 -30.6 3.7 -32 2.6 -31.9 1.5 -25.4 0.4 -25 -0.4 -30.6 -1.6 -29.7 -2.6 -28.6 -3.6 -27.2 -4.7 -25.8 -5.6 -24 -6.4 -22.1 -7.3 -20.1 -7.9 -18 -8.5 -9.7 -5.4 -7.4 -4.6 -6.9 -4.7 -7.4 -5.7z"/>
<path fill="#00efff" stroke="#00efff" stroke-width="0.7" d="M1232.1 912.8l-5.9 5 7.4 5.7 5.5 3.8 12 7.3 13.4 7.1 14.9 6.6 16.3 6.3 17.5 5.9 14 4 14.6 3.8 15 3.4 16.1 3.2 16.3 2.8 16.9 2.5 17.3 2 20.2 1.9 21.7 1.5 18.4 0.8 18.8 0.3 18.9 0 21.8 -0.6 22.8 -1.2 19.2 -1.4 19.2 -1.9 24.2 -3 29.1 -9.3 25.1 -9.4 -28.3 5.8 -30.4 5 -18.5 2.4 -18.6 2.1 -31 2.3 -18.6 0.9 -18.5 0.5 -30.5 -0.2 -29.9 -1.3 -17.6 -1.3 -17.2 -1.7 -27.7 -3.6 -16 -2.6 -15.5 -3 -27.2 -6.4 -24.5 -7.2 -12.6 -4.3 -11.8 -4.6 -11.1 -4.8 -10.3 -5.1 -9.5 -5.1 -8.7 -5.4 -7.9 -5.5 -7 -5.6z"/>
<path fill="#00ffff" stroke="#00ffff" stroke-width="0.7" d="M1241.5 904.8l-7.6 6.4 9.6 7.5 11.9 7.7 15 8.1 15.9 7.3 18 6.9 17.3 5.7 13.6 3.9 19.3 4.7 15.1 3.2 18.3 3.3 19.1 2.9 16.7 2 17.2 1.7 21.4 1.5 20 0.9 24.3 0.4 18.4 -0.1 20.7 -0.7 22.7 -1.4 18.6 -1.5 18.6 -2.1 18.5 -2.4 18.3 -2.8 18.1 -3.3 22.3 -4.7 16.4 -6.8 19.1 -9 -2.3 -1.9 -22 6.1 -16.9 4.2 -17.2 3.7 -23.4 4.4 -29.7 4.4 -30.1 3.2 -31.1 2.2 -35.1 0.9 -31.2 -0.5 -32.9 -1.9 -16.8 -1.6 -16.4 -1.9 -16 -2.3 -15.5 -2.6 -15 -2.9 -14.4 -3.3 -13.8 -3.6 -13.2 -3.8 -12.6 -4.1 -11.8 -4.4 -11.1 -4.5 -12.7 -6 -10.3 -5.5 -9.5 -5.8 -9.1 -6.4 -6.6 -5.5z"/>
<path fill="#10ffef" stroke="#10ffef" stroke-width="0.7" d="M1248.6 898.8l-7 5.9 9 7.2 12.8 8.5 12.8 7.1 13.6 6.4 15 6 15.9 5.6 13.3 4 13.6 3.7 17.8 4.1 16.3 3.2 15.5 2.6 16 2.3 22 2.5 16.9 1.4 17.2 1.1 17.5 0.6 17.7 0.3 17.9 -0.2 18.1 -0.5 18.1 -1 21.5 -1.7 34.8 -4 17.3 -2.6 17.3 -3 16.2 -3.3 17.1 -3.9 16.8 -4.2 16.4 -4.7 -7.9 -6.6 -15.9 4.6 -16.3 4.1 -22.2 5 -17 3.2 -17.3 2.9 -17.4 2.4 -17.5 2 -24 2.1 -28.9 1.5 -29.1 0.4 -28.6 -0.7 -33.3 -2.3 -16.2 -1.7 -15.8 -2 -15.3 -2.4 -14.8 -2.7 -14.3 -3 -13.8 -3.4 -24.5 -7.1 -12.9 -4.5 -11.1 -4.3 -10.3 -4.6 -9.7 -4.7 -8.8 -4.9 -8.1 -5.1 -7.2 -5.2 -8.4 -7z"/>
<path fill="#20ffdf" stroke="#20ffdf" stroke-width="0.7" d="M1255.7 892.8l-6.3 5.4 10.7 8.8 11 7.3 13.1 7.3 14.2 6.6 14.6 5.8 12.9 4.5 15.7 4.8 15.6 4 16.5 3.7 14.6 2.8 18.1 3 18 2.3 16.2 1.7 33.3 2.3 34.4 0.7 17.5 -0.3 17.6 -0.6 17.6 -1 17.6 -1.5 17.6 -1.9 17.4 -2.3 32.8 -5.5 29.5 -6.4 16.3 -4.1 15.9 -4.6 -7.3 -6.4 -15.5 4.5 -15.8 4 -21.7 4.8 -16.6 3.2 -16.8 2.7 -17 2.4 -22.8 2.4 -17.8 1.5 -27.9 1.3 -28.3 0.4 -27.8 -0.8 -32.4 -2.3 -30.9 -3.8 -14.9 -2.3 -14.3 -2.7 -13.8 -3 -13.2 -3.3 -12.6 -3.6 -12 -3.8 -11.3 -4.1 -10.7 -4.3 -9.8 -4.4 -9.2 -4.7 -8.4 -4.8 -7.6 -5 -8.1 -6.1 -6.5 -5.8z"/>
<path fill="#30ffcf" stroke="#30ffcf" stroke-width="0.7" d="M1262.7 886.9l-5.6 4.7 5.7 5.2 6.6 5.1 9.9 6.6 11.4 6.4 12.7 6.1 14 5.7 13.4 4.8 14 4.3 15.9 4.3 14.9 3.4 14.2 2.8 18 3 16.9 2.3 15.7 1.7 32.4 2.3 33.4 0.8 34.1 -0.8 17.2 -1 17.1 -1.4 17.1 -1.8 17.1 -2.2 16.8 -2.6 15.6 -2.8 28.3 -6.1 15.8 -4 15.5 -4.5 -7 -6.2 -15.1 4.3 -15.4 4 -21.2 4.6 -16.2 3 -16.4 2.7 -22.1 2.9 -16.7 1.7 -18.6 1.4 -31.4 1.3 -27.5 0 -26.9 -1.1 -26.1 -2 -29.9 -3.8 -28.2 -5.1 -13.3 -2.9 -12.7 -3.3 -12.1 -3.5 -11.5 -3.8 -10.8 -4 -10.1 -4.2 -9.4 -4.4 -10.2 -5.5 -8.8 -5.4 -6.8 -4.8 -6.2 -5 -5.3 -5.1z"/>
<path fill="#40ffbf" stroke="#40ffbf" stroke-width="0.7" d="M1272.2 878.9l-7.3 6.1 7.1 6.7 9.2 6.8 10.8 6.8 12.7 6.7 13.5 6 14.3 5.4 11.5 3.8 16.3 4.6 12.9 3.2 18.1 3.8 14.1 2.4 29.7 4 31.2 2.6 32.4 1.2 33 -0.4 16.7 -0.8 19.9 -1.4 32.9 -3.6 16.5 -2.5 16.6 -2.9 29 -6.1 15.4 -4 15.1 -4.3 -6.7 -6.1 -14.8 4.2 -15.1 3.8 -20.6 4.5 -15.8 2.9 -16.1 2.5 -16.1 2.1 -16.3 1.8 -21.7 1.7 -27.1 1.2 -26.7 0.1 -26.3 -1 -30.4 -2.4 -29 -3.8 -27.2 -5.1 -12.8 -3 -12.2 -3.2 -11.6 -3.5 -10.9 -3.7 -10.3 -4 -9.7 -4.1 -8.9 -4.3 -8.2 -4.6 -7.3 -4.5 -7.4 -5.3 -7 -5.9 -4.9 -4.9z"/>
<path fill="#50ffaf" stroke="#50ffaf" stroke-width="0.7" d="M1279.2 873l-6.5 5.4 8.6 8.2 10.7 7.9 10 6.1 11.4 5.8 12.7 5.6 13.8 5.2 11.2 3.7 11.8 3.4 14.4 3.6 15.5 3.3 13.6 2.5 15.4 2.4 18.3 2.2 30.4 2.4 31.6 1 32.2 -0.5 32.6 -2 32.5 -3.6 16 -2.4 15.9 -2.8 27.5 -5.9 13.5 -3.4 14.8 -4.2 -6.6 -6.1 -15.4 4.3 -15.5 3.9 -15.7 3.3 -18.2 3.4 -15.7 2.4 -15.7 2 -15.9 1.6 -21.1 1.6 -26.4 1.1 -26 0 -25.5 -1.1 -29.5 -2.5 -28 -3.9 -26.1 -5 -23.9 -6.2 -11.2 -3.5 -10.5 -3.7 -9.8 -3.9 -9.1 -4.1 -8.3 -4.2 -7.7 -4.4 -6.9 -4.5 -6.2 -4.6 -6.7 -5.9 -4.8 -5.1z"/>
<path fill="#60ff9f" stroke="#60ff9f" stroke-width="0.7" d="M1288.7 865.2l-8 6.6 4.4 4.8 7.7 6.7 10.1 7.1 12.8 7.3 11.6 5.6 10.6 4.3 12.8 4.6 11.2 3.5 15.6 4.2 12.6 2.9 17.3 3.4 27.7 4 29.3 2.8 15.1 0.9 19 0.5 17.1 0 15.8 -0.3 31.7 -1.9 31.7 -3.4 15.7 -2.3 15.5 -2.6 15.3 -3.1 15 -3.4 24.2 -6.6 -6.4 -5.9 -14.2 3.9 -14.4 3.5 -14.8 3.2 -20.1 3.6 -30.7 4.2 -15.4 1.5 -20.6 1.5 -25.7 0.9 -25.2 -0.2 -24.7 -1.1 -28.6 -2.6 -27 -3.9 -25.1 -5.1 -22.9 -6.2 -10.6 -3.4 -9.9 -3.7 -9.3 -3.8 -8.6 -4 -7.9 -4.2 -7.1 -4.3 -6.3 -4.3 -5.8 -4.6 -5 -4.6 -5.4 -6.1z"/>
<path fill="#70ff8f" stroke="#70ff8f" stroke-width="0.7" d="M1295.8 859.4l-7 5.7 7 7.7 9.1 7.5 8.7 5.8 10 5.7 11.3 5.4 9.3 3.8 13.4 4.8 10.7 3.4 15.1 4 12.4 2.9 16.7 3.2 27.2 4 28.6 2.6 29.7 1.2 30.5 -0.2 30.9 -1.6 30.9 -3.2 30.4 -4.7 14.9 -3 14.7 -3.2 23.8 -6.3 -6.4 -6 -13.9 3.7 -14.1 3.4 -14.5 3.1 -19.6 3.4 -14.9 2.2 -17.8 2.1 -17.3 1.5 -15.1 0.9 -24.9 0.8 -24.6 -0.3 -23.9 -1.3 -27.6 -2.7 -25.3 -3.9 -24.7 -5.2 -21.9 -6.1 -18.4 -6.6 -9.8 -4.3 -7.9 -3.8 -7.5 -4.2 -6.8 -4.3 -5.7 -4.2 -5.3 -4.5 -5.7 -5.8 -3.5 -4.5z"/>
<path fill="#80ff80" stroke="#80ff80" stroke-width="0.7" d="M1305.2 851.7l-8.2 6.6 3.5 4.5 5.8 5.9 9.1 7.3 11 7 10.3 5.3 11.5 5.1 9.4 3.6 12.9 4.4 11.4 3.3 13.6 3.3 13.9 2.9 25.7 4.2 27.3 3 30 1.6 18.2 0.3 14.9 -0.2 30.1 -1.5 30.1 -3 29.8 -4.4 14.6 -2.8 14.3 -3.2 23.3 -6 -6.4 -6 -13.5 3.6 -13.9 3.3 -14.1 2.9 -19.2 3.3 -29.2 3.7 -18.5 1.6 -15.7 0.9 -24.3 0.5 -23.8 -0.4 -23.1 -1.4 -26.6 -2.8 -25 -4.1 -23 -5.1 -20.8 -6.2 -9.1 -3.2 -9.2 -3.7 -8.5 -3.9 -7.2 -3.8 -6.8 -4 -6.1 -4.1 -5.6 -4.3 -4.5 -4.2 -4 -4.3 -4.1 -5.7z"/>
<path fill="#8fff70" stroke="#8fff70" stroke-width="0.7" d="M1312.3 846l-6.8 5.5 5.4 7.2 7.2 7 7.2 5.5 8.6 5.4 9.9 5.3 11.3 5.1 9.1 3.5 11 3.7 12.6 3.7 11 2.8 15.6 3.3 25 4.1 26.6 2.8 27.8 1.6 28.8 0.1 29.2 -1.3 28 -2.5 27.6 -3.9 27.9 -5.4 26 -6.6 -6.3 -5.9 -13.3 3.4 -15.8 3.6 -16.3 3.1 -14.1 2.3 -28.4 3.4 -19.1 1.5 -14.3 0.7 -22.8 0.4 -23.8 -0.5 -22.3 -1.6 -25.6 -2.9 -23.9 -4.2 -20.8 -4.9 -11.3 -3.2 -9.5 -3.2 -17.3 -6.9 -7.6 -3.7 -6.9 -3.8 -6.3 -4 -5.6 -4.1 -4.7 -4 -4.2 -4.1 -4 -5 -3 -4.7z"/>
<path fill="#9fff60" stroke="#9fff60" stroke-width="0.7" d="M1321.7 838.5l-7.6 6.1 3.6 5.5 6.1 6.9 6.3 5.5 7.5 5.3 11.2 6.5 7.6 3.7 11.2 4.7 12.3 4.3 10 3.1 12.3 3.2 13.1 2.9 23.9 4.2 25.6 2.9 26.9 1.7 27.9 0.4 28.4 -1.1 28.6 -2.4 28.3 -4 27.8 -5.4 22.3 -5.5 -6.4 -6 -13 3.3 -13.3 3 -13.6 2.6 -17 2.7 -29 3.3 -18.6 1.4 -13.9 0.6 -22 0.2 -21.5 -0.7 -23.1 -1.7 -20.6 -2.5 -23.2 -4.1 -20.8 -5 -19.3 -6.1 -16.4 -6.7 -7.3 -3.7 -6.6 -3.7 -7.4 -4.9 -5.3 -4.2 -4.2 -4 -4 -4.4 -3.4 -4.9 -2.1 -4z"/>
<path fill="#afff50" stroke="#afff50" stroke-width="0.7" d="M1331.1 831.1l-8.1 6.4 2 3.9 5 6.8 5.8 5.8 7.7 6.1 8 5.1 6.8 3.7 10.2 4.7 10.9 4.3 9.5 3.2 10.1 3 13.5 3.4 11.1 2.3 14.9 2.7 25.1 3.2 25.9 1.8 27 0.6 27.6 -0.8 27.8 -2.3 27.7 -3.6 27.1 -5.1 21.9 -5.3 -6.5 -6 -25.8 5.9 -17.6 3.2 -13.5 2 -27 2.9 -18.1 1.1 -13.4 0.5 -22.1 0 -21.5 -0.9 -20.8 -1.8 -19.7 -2.7 -22 -4.2 -20.1 -5.1 -17.7 -6 -7.8 -3.2 -7.5 -3.6 -6.6 -3.5 -6 -3.7 -5.3 -3.8 -4.8 -3.9 -4.8 -4.8 -3.2 -4.1 -2.4 -3.8 -2.4 -5.1z"/>
<path fill="#bfff40" stroke="#bfff40" stroke-width="0.7" d="M1340.6 823.7l-8.6 6.7 1.4 3.3 3.4 5.6 5.5 6.5 7.3 6.3 8 5.5 7.6 4.4 7.1 3.4 7.8 3.4 11.3 4.2 12.3 3.8 10 2.6 11.3 2.6 13.8 2.6 23.5 3.3 25 2 26.1 0.8 26.7 -0.6 27.1 -1.9 27 -3.4 26.5 -4.8 21.4 -5 -6.6 -6 -25.2 5.6 -12.9 2.2 -17.5 2.5 -26.3 2.6 -17.5 1 -13.1 0.3 -21.3 -0.2 -20.8 -1.1 -19.8 -2 -17.5 -2.5 -18.9 -3.8 -19.2 -5.1 -16.9 -5.9 -7.6 -3.3 -7.5 -3.6 -11.2 -6.8 -5.7 -4.3 -4.7 -4.3 -4.3 -4.9 -2.6 -3.7 -2 -3.7 -1.8 -4.8z"/>
<path fill="#cfff30" stroke="#cfff30" stroke-width="0.7" d="M1350 816.4l-8.8 6.8 1 3 2.8 5.5 4.6 6.1 6.4 6.2 6.6 5.1 7 4.4 6.8 3.6 9.6 4.4 7.9 3.1 9.2 3.2 12.3 3.5 12.7 3.1 10.5 2.1 22.5 3.4 24.8 2.3 24.3 1 25.9 -0.3 26.3 -1.7 26.3 -3 24.3 -4.2 22.5 -5 -6.7 -6.1 -24.7 5.2 -12.6 2.1 -17 2.3 -25.6 2.3 -16.4 0.7 -13.2 0.2 -16.6 -0.3 -20 -1.1 -19.2 -2 -18.2 -2.8 -18.5 -3.9 -17.6 -5 -15.1 -5.6 -8.6 -3.9 -6.9 -3.7 -5.6 -3.4 -4.9 -3.5 -4.9 -4.1 -4.1 -4.3 -3.6 -4.5 -2.2 -3.7 -1.5 -3.4 -1.3 -4.5z"/>
<path fill="#dfff20" stroke="#dfff20" stroke-width="0.7" d="M1359.4 809.1l-8.9 6.9 0.7 2.7 2.8 6.4 4.1 5.9 5.1 5.4 6.5 5.2 5.1 3.5 7.9 4.5 7 3.5 9.5 4 10 3.5 9.8 2.9 21 5 21.9 3.6 24.5 2.5 24.6 1 21.5 -0.1 24.9 -1.3 25.6 -2.8 22.7 -3.6 23.1 -4.9 -6.8 -6.2 -24.2 4.9 -12.3 1.9 -16.6 2 -12.5 1.2 -16.5 1 -24.5 0.3 -19.7 -0.7 -16 -1.2 -17.8 -2.2 -17.6 -3 -18 -4.3 -15.6 -4.9 -13.5 -5.6 -12.2 -6.4 -5.1 -3.4 -5.1 -3.9 -4.4 -4 -3 -3.4 -2.5 -3.4 -2.5 -4.4 -1.7 -4.3 -0.8 -4.1z"/>
<path fill="#efff10" stroke="#efff10" stroke-width="0.7" d="M1368.9 801.9l-9 6.9 0.3 2 1.7 5.3 3.2 5.9 4.2 5.2 6.1 5.7 4.8 3.6 6.7 4.3 6.6 3.6 8.3 3.8 8.9 3.5 10.2 3.3 11 3.1 9.5 2.2 20.5 3.6 22.1 2.6 23.3 1.4 23.3 0.1 21.7 -1 24.9 -2.4 22 -3.3 22.8 -4.6 -7.1 -6.3 -19.7 3.9 -20.7 2.9 -23.6 2.2 -21.5 0.8 -22 -0.2 -18.9 -1.1 -20.4 -2.3 -20.9 -3.8 -15.1 -3.7 -16 -5.2 -13.6 -5.9 -11.2 -6.4 -8.6 -6.5 -3.5 -3.3 -3.7 -4.3 -2.7 -4.3 -1.9 -4.1 -1.1 -3.9 -0.4 -3.7z"/>
<path fill="#ffff00" stroke="#ffff00" stroke-width="0.7" d="M1378.3 794.6l-8.9 6.9 0.2 2.5 1.3 5.1 2.5 5.2 3.9 5.3 5.4 5.5 5.4 4.4 6.6 4.3 7 3.8 7.3 3.4 14.8 5.6 8.5 2.6 11 2.7 18.2 3.6 20.5 2.8 22.7 1.6 22.2 0.4 20 -0.7 24.2 -2 22.5 -3.1 21.3 -4.1 -7.4 -6.4 -18.8 3.4 -20 2.7 -23.5 1.8 -19.4 0.5 -19.9 -0.5 -21.1 -1.6 -19 -2.6 -17 -3.4 -14.9 -4.1 -13.9 -4.9 -12.5 -5.9 -10.1 -6.2 -4.3 -3.3 -4.1 -3.8 -3.5 -3.8 -2.5 -3.6 -2.1 -3.9 -1.3 -3.7 -0.7 -3.6 -0.1 -3.3z"/>
<path fill="#ffef00" stroke="#ffef00" stroke-width="0.7" d="M1387.7 787.3l-8.9 6.9 0 1.6 0.6 4.8 1.9 5.2 3 4.9 4.7 5.4 4.3 4 5.6 4.2 6.7 4.1 5.8 3 13.7 5.8 8.8 3 9.7 2.8 18 3.9 20.1 3 17.8 1.7 22.5 0.8 23.2 -0.5 19.6 -1.4 23.4 -3 19.3 -3.5 -7.8 -6.5 -18.8 3.1 -21 2.3 -20.8 1.2 -17.4 0.2 -20.8 -0.9 -18.9 -1.9 -17 -2.8 -15.1 -3.4 -13.4 -4 -12.9 -5.1 -11.3 -5.8 -9 -6 -6.9 -6.4 -3 -3.6 -2.3 -3.7 -1.7 -3.5 -0.9 -3.4 -0.4 -3.2 0.1 -3.7z"/>
<path fill="#ffdf00" stroke="#ffdf00" stroke-width="0.7" d="M1397.2 779.9l-9 7 -0.1 2.2 0.4 4.7 1.3 4.2 2.4 4.6 3.6 4.8 3.9 4 4.7 3.8 5 3.5 5.7 3.3 6.4 3.3 7.1 3 7.9 3 8.7 2.7 17.3 4.2 19.1 3.2 19.3 2 19.5 0.8 18.7 -0.1 20.8 -1.2 21 -2.3 18.8 -3.1 -8.1 -6.8 -18.2 2.7 -18.8 1.8 -18.1 0.8 -18.4 -0.1 -17.5 -1.1 -16.5 -1.9 -18.5 -3.2 -13.7 -3.5 -11.9 -3.9 -11.2 -4.7 -10.5 -5.7 -8.1 -5.8 -6.3 -6.2 -2.4 -3.1 -2.1 -3.5 -1.3 -3.3 -0.8 -3 -0.3 -3.5 0.3 -3.7z"/>
<path fill="#ffcf00" stroke="#ffcf00" stroke-width="0.7" d="M1404.2 774l-6.9 5.8 -0.3 3.1 0.4 4.4 1.3 4.4 2.2 4.2 3.4 4.5 3.7 3.8 4.6 3.8 5.4 3.8 5.2 3 6.4 3.2 6.7 2.9 12.9 4.5 16.3 4.2 15.2 2.9 17 2.1 18.6 1.2 19.9 0.2 18.4 -0.8 18.8 -1.8 18.2 -2.7 -8.8 -6.9 -18 2.2 -14.5 1.1 -17.9 0.5 -17.5 -0.5 -16.7 -1.3 -15.9 -2.2 -14.6 -3 -13 -3.6 -10.7 -3.8 -10.8 -4.9 -9.1 -5.2 -7.7 -5.9 -5.1 -5.5 -2.3 -3.2 -1.6 -3.1 -1.9 -6.1 -0.4 -2.8 0.1 -3.3z"/>
<path fill="#ffbf00" stroke="#ffbf00" stroke-width="0.7" d="M1411.3 767.7l-6.1 5.5 -0.1 2.3 0.5 4.4 1.5 4.8 1.9 3.8 3.1 4.2 3.4 3.6 3.1 2.7 5 3.7 4.5 2.9 10.8 5.5 13.2 5.1 14.8 4.2 13.7 2.9 15.2 2.2 16.7 1.5 18.2 0.6 16 -0.4 17.4 -1.2 18.7 -2.2 -9.5 -7.3 -16.8 1.6 -15 0.7 -15.1 -0.1 -15.7 -0.8 -15.7 -1.7 -12.5 -2.1 -13.4 -3.1 -11 -3.3 -9.8 -3.6 -8.5 -4 -7.8 -4.5 -7.6 -5.8 -5.3 -5.5 -3.8 -5.7 -2.6 -6.1 -0.5 -2.6 -0.2 -2.9z"/>
<path fill="#ffaf00" stroke="#ffaf00" stroke-width="0.7" d="M1416 763.2l-4 3.8 0.3 3.7 1.1 3.8 2.2 4.7 2.3 3.6 3.2 3.9 3.3 3.1 3.7 3 8.4 5.5 11 5.4 10.6 4 11 3.3 13.4 3.1 12.5 2.1 15.7 1.7 15.7 0.8 15.1 0.1 15 -0.7 16.8 -1.6 -10.6 -7.8 -13.9 0.9 -15 0.2 -12.3 -0.4 -12.9 -1 -13.5 -1.7 -12.3 -2.4 -11.1 -2.8 -10 -3.2 -8.9 -3.5 -7.8 -3.9 -6.9 -4 -6.4 -4.8 -5.5 -5.4 -4.6 -5.8 -2.8 -5.3 -0.9 -4.3z"/>
<path fill="#ff9f00" stroke="#ff9f00" stroke-width="0.7" d="M1420.8 758.3l-2.9 3 0.9 4.3 1.6 3.4 2.2 3.4 5.7 6.5 6.7 5.7 7.6 5 9.6 4.9 9.5 3.8 10 3.2 11.1 2.8 12.3 2.4 13.5 1.7 12.9 1 12.3 0.4 15 -0.2 13.9 -0.9 -12.1 -8.4 -13.7 0.2 -11.2 -0.3 -12.3 -0.9 -9.7 -1.2 -9.3 -1.5 -9.8 -2.1 -10.1 -2.8 -9.2 -3.1 -8.2 -3.4 -7.4 -3.6 -6.5 -3.9 -5.6 -4 -6.1 -5.1 -4.7 -4.9 -2.9 -4.4 -0.9 -3.4z"/>
<path fill="#ff8f00" stroke="#ff8f00" stroke-width="0.7" d="M1425.5 753.1l-2.5 2.8 0.7 2.9 1 2 2.1 2.9 6 6 6.8 5.5 7.9 5.1 8.8 4.6 9 3.7 9.2 3.1 10.1 2.8 9.8 2.1 9.3 1.5 9.7 1.2 12.3 0.9 11.2 0.3 13.7 -0.2 -14.5 -9.4 -17.2 -1 -10.1 -1.2 -8.7 -1.3 -17 -3.9 -9 -2.8 -8.3 -3 -7.6 -3.4 -6.8 -3.5 -6.7 -3.9 -6.3 -4.2 -5.6 -4.3 -2.9 -2.8 -1.8 -2.6 -0.6 -2.3z"/>
<path fill="#ff8000" stroke="#ff8000" stroke-width="0.7" d="M1430.2 747.4l-2.7 3.3 0.1 0.9 1.6 3.1 3.6 3.7 7.1 5.4 8.6 5.3 8.2 4.5 9.1 4.1 8.3 3 9 2.8 17 3.9 8.7 1.3 10.1 1.2 17.2 1 -19.1 -11.4 -14.6 -2.2 -14.9 -3.4 -14.3 -4.4 -11.6 -4.6 -12.5 -5.9 -10.4 -5.8 -5.6 -4.1 -1.4 -1.8 -0.2 -1.5z"/>
<path fill="#ff7000" stroke="#ff7000" stroke-width="0.7" d="M1432.5 744.4l-1 1.4 0.3 1.7 1.7 2 3.2 2.4 11.2 6.4 16.1 7.6 11.9 4.5 14.7 4.3 13 2.8 13.4 2 -16 -8.8 -16.5 -8.4 -16.3 -5.2 -19.6 -7.5 -11.3 -5.4 -2.4 -1.8 -0.4 -0.8 0.3 -0.5 0.1 0.2z"/>
<path fill="#ff6000" stroke="#ff6000" stroke-width="0.7" d="M1434.9 741.1l-0.4 0.5 0.2 0.6 2.1 1.8 10.4 5 19.6 7.6 17.7 5.7 -49.6 -23.5 0 2.3z"/>
</g>
<path fill="none" stroke="#000" stroke-width="3.1" stroke-linejoin="round" d="M1434.9 741 1430.5 748.1 1426 754.6 1421.6 760.6 1417.1 766.2 1412.7 771.4 1408.2 776.4 1403.8 781.1 1399.3 785.8 1394.9 790.4 1390.4 794.9 1386 799.5 1381.6 804.1 1377.1 808.7 1372.7 813.4 1368.2 818 1363.8 822.7 1359.3 827.4 1354.9 832.2 1350.4 836.9 1346 841.7 1341.5 846.6 1337.1 851.4 1332.7 856.4 1328.2 861.3 1323.8 866.4 1319.3 871.4 1314.9 876.5 1310.4 881.7 1306 886.8 1301.5 892 1297.1 897.2 1292.6 902.5 1288.2 907.7 1283.8 913 1279.3 918.3 1274.9 923.5 1270.4 928.8 1266 934.1 1261.5 939.3 1257.1 944.6 1252.6 949.8 1248.2 954.9 1243.7 960.1 1239.3 965.2 1234.9 970.3 1230.4 975.3 1226 980.3 1221.5 985.2 1217.1 990 1212.6 994.8M1434.9 740.7 1431.8 747.5 1428.8 753.8 1425.7 759.6 1422.7 765.2 1419.6 770.4 1416.5 775.4 1413.5 780.2 1410.4 784.9 1407.4 789.6 1404.3 794.3 1401.2 799 1398.2 803.7 1395.1 808.5 1392.1 813.3 1389 818.1 1385.9 823 1382.9 827.9 1379.8 832.8 1376.8 837.8 1373.7 842.8 1370.6 847.9 1367.6 853 1364.5 858.2 1361.5 863.5 1358.4 868.8 1355.3 874.1 1352.3 879.5 1349.2 885 1346.2 890.4 1343.1 896 1340 901.5 1337 907.1 1333.9 912.7 1330.9 918.3 1327.8 924 1324.7 929.6 1321.7 935.2 1318.6 940.9 1315.6 946.5 1312.5 952.1 1309.4 957.7 1306.4 963.3 1303.3 968.8 1300.3 974.3 1297.2 979.8 1294.1 985.2 1291.1 990.5 1288 995.8 1285 1001 1281.9 1006.1M1434.9 740.4 1433.3 746.8 1431.8 752.7 1430.2 758.4 1428.7 763.7 1427.1 768.8 1425.6 773.7 1424 778.4 1422.4 783.1 1420.9 787.8 1419.3 792.5 1417.8 797.2 1416.2 802 1414.7 806.8 1413.1 811.6 1411.5 816.5 1410 821.4 1408.4 826.4 1406.9 831.4 1405.3 836.5 1403.8 841.6 1402.2 846.8 1400.6 852.1 1399.1 857.4 1397.5 862.8 1396 868.2 1394.4 873.7 1392.9 879.3 1391.3 884.9 1389.7 890.6 1388.2 896.3 1386.6 902.1 1385.1 907.9 1383.5 913.7 1382 919.6 1380.4 925.4 1378.8 931.3 1377.3 937.2 1375.7 943.1 1374.2 949 1372.6 954.9 1371.1 960.8 1369.5 966.6 1368 972.4 1366.4 978.2 1364.8 983.9 1363.3 989.6 1361.7 995.2 1360.2 1000.7 1358.6 1006.1 1357.1 1011.4M1434.9 740.1 1434.9 745.9 1434.9 751.5 1434.9 756.7 1434.9 761.8 1434.9 766.6 1434.9 771.3 1434.9 775.9 1434.9 780.4 1435 785 1435 789.5 1435 794.1 1435 798.8 1435 803.5 1435 808.2 1435 813 1435 817.9 1435 822.8 1435 827.7 1435 832.8 1435 837.9 1435 843.1 1435 848.3 1435 853.7 1435 859.1 1435 864.5 1435.1 870.1 1435.1 875.7 1435.1 881.4 1435.1 887.1 1435.1 892.9 1435.1 898.7 1435.1 904.6 1435.1 910.5 1435.1 916.5 1435.1 922.5 1435.1 928.5 1435.1 934.5 1435.1 940.5 1435.1 946.6 1435.1 952.6 1435.1 958.6 1435.1 964.6 1435.2 970.5 1435.2 976.4 1435.2 982.3 1435.2 988.1 1435.2 993.8 1435.2 999.4 1435.2 1005 1435.2 1010.4M1434.9 739.7 1436.5 745 1438 750 1439.6 754.8 1441.2 759.4 1442.7 763.8 1444.3 768.2 1445.9 772.5 1447.4 776.7 1449 781 1450.6 785.3 1452.2 789.7 1453.7 794.1 1455.3 798.5 1456.9 803.1 1458.4 807.7 1460 812.3 1461.6 817 1463.1 821.8 1464.7 826.7 1466.3 831.7 1467.8 836.7 1469.4 841.8 1471 847 1472.5 852.3 1474.1 857.6 1475.7 863.1 1477.3 868.6 1478.8 874.2 1480.4 879.8 1482 885.6 1483.5 891.4 1485.1 897.2 1486.7 903.1 1488.2 909 1489.8 915 1491.4 921 1492.9 927 1494.5 933 1496.1 939 1497.6 945.1 1499.2 951.1 1500.8 957.1 1502.3 963 1503.9 968.9 1505.5 974.8 1507.1 980.6 1508.6 986.3 1510.2 992 1511.8 997.5 1513.3 1002.9M1434.9 739.4 1438 743.9 1441 748.2 1444.1 752.4 1447.2 756.5 1450.3 760.4 1453.3 764.3 1456.4 768.2 1459.5 772.1 1462.5 776 1465.6 779.9 1468.7 783.9 1471.8 787.9 1474.8 792 1477.9 796.2 1481 800.5 1484 804.8 1487.1 809.2 1490.2 813.7 1493.2 818.3 1496.3 822.9 1499.4 827.7 1502.5 832.5 1505.5 837.5 1508.6 842.5 1511.7 847.6 1514.7 852.8 1517.8 858.1 1520.9 863.5 1524 868.9 1527 874.5 1530.1 880.1 1533.2 885.7 1536.2 891.4 1539.3 897.2 1542.4 903 1545.5 908.8 1548.5 914.7 1551.6 920.6 1554.7 926.5 1557.7 932.4 1560.8 938.3 1563.9 944.2 1566.9 950 1570 955.8 1573.1 961.6 1576.2 967.3 1579.2 972.9 1582.3 978.4 1585.4 983.8 1588.4 989.1M1434.9 739.1 1439.4 742.8 1443.8 746.3 1448.3 749.8 1452.7 753.2 1457.2 756.5 1461.6 759.9 1466.1 763.2 1470.5 766.6 1475 769.9 1479.5 773.4 1483.9 776.9 1488.4 780.4 1492.8 784.1 1497.3 787.8 1501.7 791.6 1506.2 795.4 1510.6 799.4 1515.1 803.5 1519.5 807.6 1524 811.9 1528.5 816.2 1532.9 820.7 1537.4 825.2 1541.8 829.9 1546.3 834.6 1550.7 839.5 1555.2 844.4 1559.6 849.4 1564.1 854.6 1568.6 859.8 1573 865.1 1577.5 870.4 1581.9 875.8 1586.4 881.3 1590.8 886.8 1595.3 892.4 1599.7 898 1604.2 903.7 1608.7 909.3 1613.1 915 1617.6 920.6 1622 926.3 1626.5 931.9 1630.9 937.5 1635.4 943 1639.8 948.4 1644.3 953.8 1648.7 959.1 1653.2 964.2 1657.7 969.3M1406.6 772 1407.5 771.9 1408.5 771.8 1409.5 771.8 1410.5 771.7 1411.6 771.5 1412.7 771.4 1413.8 771.3 1414.9 771.1 1416 771 1417.2 770.8 1418.4 770.6 1419.6 770.4 1420.8 770.1 1422.1 769.9 1423.3 769.6 1424.6 769.4 1425.8 769.1 1427.1 768.8 1428.4 768.5 1429.7 768.1 1431 767.8 1432.3 767.4 1433.6 767 1434.9 766.6 1436.2 766.2 1437.5 765.7 1438.9 765.3 1440.2 764.8 1441.5 764.3 1442.7 763.8 1444 763.3 1445.3 762.8 1446.6 762.2 1447.8 761.6 1449 761 1450.3 760.4 1451.5 759.8 1452.6 759.2 1453.8 758.6 1455 757.9 1456.1 757.2 1457.2 756.5 1458.3 755.8 1459.3 755.1 1460.3 754.4 1461.3 753.6 1462.3 752.9 1463.2 752.1M1378.3 794.6 1380.2 794.7 1382.1 794.8 1384.1 794.9 1386.2 794.9 1388.3 795 1390.4 794.9 1392.7 794.9 1394.9 794.8 1397.2 794.7 1399.5 794.6 1401.9 794.5 1404.3 794.3 1406.7 794.1 1409.2 793.8 1411.7 793.5 1414.2 793.2 1416.8 792.9 1419.3 792.5 1421.9 792.1 1424.5 791.6 1427.1 791.2 1429.7 790.7 1432.3 790.1 1435 789.5 1437.6 788.9 1440.2 788.3 1442.8 787.6 1445.4 786.9 1448 786.1 1450.6 785.3 1453.1 784.5 1455.7 783.6 1458.2 782.8 1460.7 781.8 1463.2 780.9 1465.6 779.9 1468 778.9 1470.4 777.9 1472.7 776.8 1475 775.7 1477.3 774.5 1479.5 773.4 1481.6 772.2 1483.7 771 1485.8 769.7 1487.8 768.5 1489.7 767.2 1491.6 765.8M1350 816.4 1352.8 816.8 1355.7 817.1 1358.7 817.4 1361.8 817.7 1365 817.9 1368.2 818 1371.5 818.2 1374.9 818.2 1378.3 818.3 1381.8 818.3 1385.4 818.2 1389 818.1 1392.7 818 1396.4 817.8 1400.1 817.5 1403.9 817.2 1407.7 816.9 1411.5 816.5 1415.4 816 1419.3 815.5 1423.2 815 1427.1 814.4 1431.1 813.7 1435 813 1438.9 812.2 1442.8 811.4 1446.8 810.6 1450.7 809.6 1454.6 808.7 1458.4 807.7 1462.3 806.6 1466.1 805.5 1469.9 804.3 1473.6 803.1 1477.3 801.8 1481 800.5 1484.6 799.1 1488.1 797.7 1491.6 796.2 1495.1 794.7 1498.4 793.2 1501.7 791.6 1505 789.9 1508.1 788.2 1511.2 786.5 1514.2 784.8 1517.1 783 1519.9 781.1M1321.7 838.5 1325.5 839.2 1329.4 839.8 1333.4 840.4 1337.5 840.9 1341.7 841.3 1346 841.7 1350.4 842.1 1354.9 842.3 1359.5 842.6 1364.1 842.7 1368.9 842.8 1373.7 842.8 1378.6 842.8 1383.5 842.7 1388.5 842.5 1393.5 842.3 1398.6 842 1403.8 841.6 1408.9 841.2 1414.1 840.6 1419.3 840.1 1424.5 839.4 1429.8 838.7 1435 837.9 1440.3 837 1445.5 836.1 1450.7 835.1 1455.9 834 1461.1 832.9 1466.3 831.7 1471.4 830.4 1476.5 829 1481.5 827.6 1486.5 826.1 1491.4 824.5 1496.3 822.9 1501.1 821.2 1505.9 819.5 1510.5 817.7 1515.1 815.8 1519.6 813.9 1524 811.9 1528.3 809.8 1532.5 807.7 1536.6 805.5 1540.6 803.3 1544.5 801 1548.3 798.7M1293.4 861.3 1298.1 862.3 1303 863.3 1308 864.1 1313.1 864.9 1318.4 865.7 1323.8 866.4 1329.3 867 1334.9 867.5 1340.6 867.9 1346.5 868.3 1352.4 868.6 1358.4 868.8 1364.5 868.9 1370.7 868.9 1376.9 868.9 1383.2 868.7 1389.6 868.5 1396 868.2 1402.4 867.8 1408.9 867.3 1415.4 866.8 1421.9 866.1 1428.5 865.4 1435 864.5 1441.6 863.6 1448.1 862.6 1454.7 861.5 1461.2 860.3 1467.7 859 1474.1 857.6 1480.5 856.2 1486.9 854.6 1493.2 853 1499.4 851.3 1505.6 849.5 1511.7 847.6 1517.7 845.6 1523.6 843.6 1529.4 841.5 1535.2 839.3 1540.8 837 1546.3 834.6 1551.7 832.2 1556.9 829.7 1562.1 827.1 1567.1 824.5 1571.9 821.8 1576.6 819M1265.1 884.9 1270.8 886.3 1276.6 887.6 1282.6 888.8 1288.7 890 1295.1 891 1301.5 892 1308.2 892.9 1314.9 893.7 1321.8 894.4 1328.8 895 1335.9 895.5 1343.1 896 1350.4 896.3 1357.8 896.5 1365.3 896.6 1372.9 896.6 1380.5 896.5 1388.2 896.3 1395.9 896 1403.7 895.6 1411.5 895.1 1419.4 894.5 1427.2 893.7 1435.1 892.9 1442.9 891.9 1450.8 890.9 1458.6 889.7 1466.4 888.4 1474.2 887.1 1482 885.6 1489.6 884 1497.3 882.3 1504.8 880.5 1512.3 878.6 1519.7 876.6 1527 874.5 1534.2 872.3 1541.3 869.9 1548.3 867.5 1555.2 865 1562 862.5 1568.6 859.8 1575 857 1581.3 854.1 1587.5 851.2 1593.5 848.2 1599.3 845.1 1605 841.9M1236.8 908.8 1243.4 910.6 1250.2 912.3 1257.2 914 1264.4 915.5 1271.8 916.9 1279.3 918.3 1287 919.5 1294.9 920.6 1302.9 921.6 1311.1 922.5 1319.4 923.3 1327.8 924 1336.3 924.5 1345 924.9 1353.7 925.2 1362.5 925.4 1371.4 925.5 1380.4 925.4 1389.4 925.3 1398.5 925 1407.6 924.5 1416.8 924 1425.9 923.3 1435.1 922.5 1444.3 921.5 1453.4 920.5 1462.6 919.3 1471.7 918 1480.8 916.5 1489.8 915 1498.8 913.3 1507.7 911.5 1516.5 909.5 1525.2 907.5 1533.9 905.3 1542.4 903 1550.8 900.6 1559.1 898.1 1567.2 895.4 1575.3 892.7 1583.1 889.8 1590.8 886.8 1598.4 883.8 1605.7 880.6 1612.9 877.3 1619.9 873.9 1626.7 870.5 1633.3 866.9M1208.5 932.7 1216 934.9 1223.8 937.1 1231.8 939.1 1240 941 1248.5 942.9 1257.1 944.6 1265.9 946.1 1274.9 947.6 1284.1 948.9 1293.4 950.1 1302.9 951.2 1312.5 952.1 1322.3 952.9 1332.1 953.6 1342.1 954.2 1352.2 954.5 1362.4 954.8 1372.6 954.9 1382.9 954.9 1393.3 954.7 1403.7 954.4 1414.2 953.9 1424.7 953.3 1435.1 952.6 1445.6 951.7 1456.1 950.7 1466.5 949.5 1477 948.1 1487.3 946.7 1497.6 945.1 1507.9 943.3 1518.1 941.4 1528.1 939.4 1538.1 937.2 1548 934.9 1557.7 932.4 1567.4 929.8 1576.8 927.1 1586.1 924.3 1595.3 921.3 1604.3 918.2 1613.1 915 1621.7 911.6 1630.1 908.2 1638.4 904.6 1646.3 900.9 1654.1 897.1 1661.6 893.2M1180.2 955.9 1188.7 958.6 1197.4 961.2 1206.4 963.7 1215.7 966 1225.2 968.2 1234.9 970.3 1244.8 972.2 1254.9 974 1265.2 975.7 1275.7 977.2 1286.4 978.6 1297.2 979.8 1308.2 980.9 1319.3 981.8 1330.5 982.6 1341.9 983.2 1353.3 983.6 1364.8 983.9 1376.4 984 1388.1 984 1399.8 983.8 1411.6 983.5 1423.4 983 1435.2 982.3 1447 981.4 1458.7 980.4 1470.5 979.3 1482.2 978 1493.9 976.5 1505.5 974.8 1517 973 1528.5 971 1539.8 968.9 1551 966.6 1562.1 964.2 1573.1 961.6 1583.9 958.9 1594.6 956 1605.1 952.9 1615.4 949.8 1625.5 946.4 1635.4 943 1645.1 939.4 1654.5 935.7 1663.8 931.8 1672.8 927.8 1681.5 923.7 1690 919.5"/>
<path fill="none" stroke="#000" stroke-width="3.1" d="M1434.9 741.3 1434.9 738.8"/>
<path fill="none" stroke="#000" stroke-width="2.3" stroke-linejoin="round" d="M1434.9 741.3 1429.2 748.6 1423.6 755.2 1417.9 761.3 1412.3 766.8 1406.6 772 1400.9 776.8 1395.3 781.4 1389.6 785.9 1384 790.2 1378.3 794.6 1372.6 799 1367 803.3 1361.3 807.7 1355.7 812 1350 816.4 1344.3 820.8 1338.7 825.2 1333 829.6 1327.4 834.1 1321.7 838.5 1316 843 1310.4 847.5 1304.7 852.1 1299.1 856.7 1293.4 861.3 1287.7 866 1282.1 870.7 1276.4 875.4 1270.8 880.1 1265.1 884.9 1259.4 889.6 1253.8 894.4 1248.1 899.2 1242.5 904 1236.8 908.8 1231.1 913.6 1225.5 918.4 1219.8 923.2 1214.2 927.9 1208.5 932.7 1202.8 937.4 1197.2 942.1 1191.5 946.7 1185.9 951.3 1180.2 955.9 1174.5 960.5 1168.9 964.9 1163.2 969.4 1157.6 973.8 1151.9 978.1"/>
<path fill="none" stroke="#000" stroke-width="3.9" stroke-linejoin="round" d="M1434.9 738.8 1440.6 741.5 1446.2 744.2 1451.9 746.8 1457.6 749.5 1463.2 752.1 1468.9 754.8 1474.6 757.5 1480.2 760.2 1485.9 763 1491.6 765.8 1497.3 768.7 1502.9 771.7 1508.6 774.8 1514.3 777.9 1519.9 781.1 1525.6 784.4 1531.3 787.9 1536.9 791.4 1542.6 795 1548.3 798.7 1553.9 802.6 1559.6 806.5 1565.3 810.6 1570.9 814.7 1576.6 819 1582.3 823.4 1587.9 827.8 1593.6 832.4 1599.3 837.1 1605 841.9 1610.6 846.7 1616.3 851.7 1622 856.7 1627.6 861.8 1633.3 866.9 1639 872.1 1644.6 877.3 1650.3 882.6 1656 887.9 1661.6 893.2 1667.3 898.5 1673 903.8 1678.6 909.1 1684.3 914.3 1690 919.5 1695.6 924.6 1701.3 929.7 1707 934.6 1712.6 939.4 1718.3 944.1"/>
<path fill="none" stroke="#000" stroke-width="5.0" stroke-linejoin="round" stroke-linecap="round" d="M1151.9 978.1 1161.3 981.2 1171 984.2 1181 987.1 1191.3 989.8 1201.8 992.4 1212.6 994.8 1223.7 997.1 1234.9 999.2 1246.4 1001.2 1258 1003 1269.9 1004.6 1281.9 1006.1 1294.1 1007.4 1306.4 1008.6 1318.9 1009.5 1331.5 1010.4 1344.2 1011 1357.1 1011.4 1369.9 1011.7 1382.9 1011.8 1395.9 1011.7 1409 1011.5 1422.1 1011 1435.2 1010.4 1448.3 1009.6 1461.4 1008.7 1474.5 1007.5 1487.5 1006.2 1500.4 1004.6 1513.3 1002.9 1526.1 1001.1 1538.8 999 1551.4 996.8 1563.9 994.4 1576.3 991.8 1588.4 989.1 1600.5 986.2 1612.3 983.1 1624 979.9 1635.4 976.5 1646.7 973 1657.7 969.3 1668.4 965.4 1679 961.5 1689.2 957.3 1699.2 953.1 1708.9 948.6 1718.3 944.1"/>
<path fill="none" stroke="#262626" stroke-width="1.5" stroke-linejoin="miter" d="M1095.3 1045L1435.4 1190.6L1775 1045M1095.3 1045L1095.3 838.2L1434.9 692.6L1775 838.2L1775 1045"/>
<path fill="none" stroke="#262626" stroke-width="1.4" d="M1095.3 1045L1087 1048.5M1775 1045L1783.3 1048.5M1109.5 1051.1L1105.2 1052.9M1760.9 1051.1L1765.2 1052.9M1123.6 1057.1L1119.3 1059M1746.7 1057.1L1751 1059M1137.8 1063.2L1133.5 1065.1M1732.6 1063.2L1736.9 1065M1152 1069.3L1147.7 1071.1M1718.4 1069.3L1722.7 1071.1M1166.2 1075.3L1157.9 1078.9M1704.2 1075.3L1712.5 1078.9M1180.3 1081.4L1176 1083.3M1690.1 1081.4L1694.4 1083.2M1194.5 1087.5L1190.2 1089.3M1676 1087.5L1680.3 1089.3M1208.7 1093.5L1204.3 1095.4M1661.8 1093.5L1666.1 1095.4M1222.8 1099.6L1218.5 1101.5M1647.7 1099.6L1652 1101.4M1237 1105.7L1228.7 1109.2M1633.5 1105.7L1641.8 1109.2M1251.2 1111.7L1246.9 1113.6M1619.3 1111.7L1623.7 1113.6M1265.4 1117.8L1261 1119.7M1605.2 1117.8L1609.5 1119.6M1279.5 1123.9L1275.2 1125.7M1591.1 1123.9L1595.4 1125.7M1293.7 1129.9L1289.4 1131.8M1576.9 1129.9L1581.2 1131.8M1307.9 1136L1299.6 1139.5M1562.8 1136L1571 1139.5M1322 1142.1L1317.7 1143.9M1548.6 1142.1L1552.9 1143.9M1336.2 1148.1L1331.9 1150M1534.4 1148.1L1538.8 1150M1350.4 1154.2L1346.1 1156.1M1520.3 1154.2L1524.6 1156M1364.5 1160.3L1360.2 1162.1M1506.2 1160.3L1510.5 1162.1M1378.7 1166.3L1370.4 1169.9M1492 1166.3L1500.3 1169.9M1392.9 1172.4L1388.6 1174.3M1477.8 1172.4L1482.2 1174.2M1407.1 1178.5L1402.7 1180.3M1463.7 1178.5L1468 1180.3M1421.2 1184.5L1416.9 1186.4M1449.5 1184.5L1453.9 1186.4M1435.4 1190.6L1431.1 1192.5M1435.4 1190.6L1439.7 1192.4M1095.3 1045L1087 1041.5M1095.3 1026.2L1091 1024.4M1095.3 1007.4L1091 1005.6M1095.3 988.6L1091 986.8M1095.3 969.8L1091 968M1095.3 951L1087 947.5M1095.3 932.2L1091 930.4M1095.3 913.4L1091 911.6M1095.3 894.6L1091 892.8M1095.3 875.8L1091 874M1095.3 857L1087 853.5M1095.3 838.2L1091 836.4"/>
<rect x="587.60" y="621.2" width="11.22" height="37.20" fill="#00008f"/>
<rect x="598.22" y="621.2" width="11.22" height="37.20" fill="#00009f"/>
<rect x="608.83" y="621.2" width="11.22" height="37.20" fill="#0000af"/>
<rect x="619.45" y="621.2" width="11.22" height="37.20" fill="#0000bf"/>
<rect x="630.06" y="621.2" width="11.22" height="37.20" fill="#0000cf"/>
<rect x="640.68" y="621.2" width="11.22" height="37.20" fill="#0000df"/>
<rect x="651.29" y="621.2" width="11.22" height="37.20" fill="#0000ef"/>
<rect x="661.91" y="621.2" width="11.22" height="37.20" fill="#0000ff"/>
<rect x="672.52" y="621.2" width="11.22" height="37.20" fill="#0010ff"/>
<rect x="683.14" y="621.2" width="11.22" height="37.20" fill="#0020ff"/>
<rect x="693.76" y="621.2" width="11.22" height="37.20" fill="#0030ff"/>
<rect x="704.37" y="621.2" width="11.22" height="37.20" fill="#0040ff"/>
<rect x="714.99" y="621.2" width="11.22" height="37.20" fill="#0050ff"/>
<rect x="725.60" y="621.2" width="11.22" height="37.20" fill="#0060ff"/>
<rect x="736.22" y="621.2" width="11.22" height="37.20" fill="#0070ff"/>
<rect x="746.83" y="621.2" width="11.22" height="37.20" fill="#0080ff"/>
<rect x="757.45" y="621.2" width="11.22" height="37.20" fill="#008fff"/>
<rect x="768.07" y="621.2" width="11.22" height="37.20" fill="#009fff"/>
<rect x="778.68" y="621.2" width="11.22" height="37.20" fill="#00afff"/>
<rect x="789.30" y="621.2" width="11.22" height="37.20" fill="#00bfff"/>
<rect x="799.91" y="621.2" width="11.22" height="37.20" fill="#00cfff"/>
<rect x="810.53" y="621.2" width="11.22" height="37.20" fill="#00dfff"/>
<rect x="821.14" y="621.2" width="11.22" height="37.20" fill="#00efff"/>
<rect x="831.76" y="621.2" width="11.22" height="37.20" fill="#00ffff"/>
<rect x="842.38" y="621.2" width="11.22" height="37.20" fill="#10ffef"/>
<rect x="852.99" y="621.2" width="11.22" height="37.20" fill="#20ffdf"/>
<rect x="863.61" y="621.2" width="11.22" height="37.20" fill="#30ffcf"/>
<rect x="874.22" y="621.2" width="11.22" height="37.20" fill="#40ffbf"/>
<rect x="884.84" y="621.2" width="11.22" height="37.20" fill="#50ffaf"/>
<rect x="895.45" y="621.2" width="11.22" height="37.20" fill="#60ff9f"/>
<rect x="906.07" y="621.2" width="11.22" height="37.20" fill="#70ff8f"/>
<rect x="916.68" y="621.2" width="11.22" height="37.20" fill="#80ff80"/>
<rect x="927.30" y="621.2" width="11.22" height="37.20" fill="#8fff70"/>
<rect x="937.92" y="621.2" width="11.22" height="37.20" fill="#9fff60"/>
<rect x="948.53" y="621.2" width="11.22" height="37.20" fill="#afff50"/>
<rect x="959.15" y="621.2" width="11.22" height="37.20" fill="#bfff40"/>
<rect x="969.76" y="621.2" width="11.22" height="37.20" fill="#cfff30"/>
<rect x="980.38" y="621.2" width="11.22" height="37.20" fill="#dfff20"/>
<rect x="990.99" y="621.2" width="11.22" height="37.20" fill="#efff10"/>
<rect x="1001.61" y="621.2" width="11.22" height="37.20" fill="#ffff00"/>
<rect x="1012.23" y="621.2" width="11.22" height="37.20" fill="#ffef00"/>
<rect x="1022.84" y="621.2" width="11.22" height="37.20" fill="#ffdf00"/>
<rect x="1033.46" y="621.2" width="11.22" height="37.20" fill="#ffcf00"/>
<rect x="1044.07" y="621.2" width="11.22" height="37.20" fill="#ffbf00"/>
<rect x="1054.69" y="621.2" width="11.22" height="37.20" fill="#ffaf00"/>
<rect x="1065.30" y="621.2" width="11.22" height="37.20" fill="#ff9f00"/>
<rect x="1075.92" y="621.2" width="11.22" height="37.20" fill="#ff8f00"/>
<rect x="1086.53" y="621.2" width="11.22" height="37.20" fill="#ff8000"/>
<rect x="1097.15" y="621.2" width="11.22" height="37.20" fill="#ff7000"/>
<rect x="1107.77" y="621.2" width="11.22" height="37.20" fill="#ff6000"/>
<rect x="1118.38" y="621.2" width="11.22" height="37.20" fill="#ff5000"/>
<rect x="1129.00" y="621.2" width="11.22" height="37.20" fill="#ff4000"/>
<rect x="1139.61" y="621.2" width="11.22" height="37.20" fill="#ff3000"/>
<rect x="1150.23" y="621.2" width="11.22" height="37.20" fill="#ff2000"/>
<rect x="1160.84" y="621.2" width="11.22" height="37.20" fill="#ff1000"/>
<rect x="1171.46" y="621.2" width="11.22" height="37.20" fill="#ff0000"/>
<rect x="1182.08" y="621.2" width="11.22" height="37.20" fill="#ef0000"/>
<rect x="1192.69" y="621.2" width="11.22" height="37.20" fill="#df0000"/>
<rect x="1203.31" y="621.2" width="11.22" height="37.20" fill="#cf0000"/>
<rect x="1213.92" y="621.2" width="11.22" height="37.20" fill="#bf0000"/>
<rect x="1224.54" y="621.2" width="11.22" height="37.20" fill="#af0000"/>
<rect x="1235.15" y="621.2" width="11.22" height="37.20" fill="#9f0000"/>
<rect x="1245.77" y="621.2" width="11.22" height="37.20" fill="#8f0000"/>
<rect x="1256.38" y="621.2" width="11.22" height="37.20" fill="#800000"/>
<rect x="587.6" y="621.2" width="679.40" height="37.20" fill="none" stroke="#262626" stroke-width="1.5"/>
<path stroke="#262626" stroke-width="1.4" d="M742.0 658.4v-6M896.4 658.4v-6M1050.8 658.4v-6M1205.2 658.4v-6"/>
<text transform="matrix(0.3368 0.0000 0.0000 0.3296 88.6895 395.1704)" font-size="100" font-weight="bold" fill="#262626">2.8</text>
<text transform="matrix(0.3389 0.0000 0.0000 0.3352 141.3221 425.4648)" font-size="100" font-weight="bold" fill="#262626">3.05</text>
<text transform="matrix(0.3368 0.0000 0.0000 0.3423 230.6263 455.8577)" font-size="100" font-weight="bold" fill="#262626">3.3</text>
<text transform="matrix(0.3363 0.0000 0.0000 0.3465 282.9274 486.6535)" font-size="100" font-weight="bold" fill="#262626">3.55</text>
<text transform="matrix(0.3306 0.0000 0.0000 0.3380 372.7388 516.6620)" font-size="100" font-weight="bold" fill="#262626">3.8</text>
<text transform="matrix(0.3376 0.0000 0.0000 0.3296 857.4872 395.1704)" font-size="100" font-weight="bold" fill="#262626">2.8</text>
<text transform="matrix(0.3342 0.0000 0.0000 0.3268 787.2316 425.4732)" font-size="100" font-weight="bold" fill="#262626">3.05</text>
<text transform="matrix(0.3301 0.0000 0.0000 0.3338 717.2398 455.8662)" font-size="100" font-weight="bold" fill="#262626">3.3</text>
<text transform="matrix(0.3342 0.0000 0.0000 0.3465 646.2316 486.6535)" font-size="100" font-weight="bold" fill="#262626">3.55</text>
<text transform="matrix(0.3269 0.0000 0.0000 0.3366 575.7463 516.5634)" font-size="100" font-weight="bold" fill="#262626">3.8</text>
<text transform="matrix(0.3260 0.0000 0.0000 0.3471 117.9220 170.6529)" font-size="100" font-weight="bold" fill="#262626">5</text>
<text transform="matrix(0.3245 0.0000 0.0000 0.3536 117.1509 264.4000)" font-size="100" font-weight="bold" fill="#262626">4</text>
<text transform="matrix(0.3200 0.0000 0.0000 0.3437 117.9600 357.6563)" font-size="100" font-weight="bold" fill="#262626">3</text>
<text transform="matrix(0.0000 -0.3759 0.3787 0.0000 65.6468 388.5311)" font-size="100" font-weight="bold" fill="#262626">Refractive index (n)</text>
<text transform="matrix(0.3765 0.0000 0.0000 0.3681 0.7648 530.6702)" font-size="100" font-weight="bold" fill="#262626">Photon energy (eV)</text>
<text transform="matrix(0.3760 0.0000 0.0000 0.3798 716.7678 499.1245)" font-size="100" font-weight="bold" fill="#262626">Photon energy (eV)</text>
<text transform="matrix(0.4100 0.0000 0.0000 0.4054 180.8502 190.3946)" font-size="100" font-weight="normal" fill="#000">Ge rich</text>
<text transform="matrix(0.4102 0.0000 0.0000 0.3986 709.8492 298.1014)" font-size="100" font-weight="normal" fill="#000">Si rich</text>
<text transform="matrix(0.4124 0.0000 0.0000 0.4140 440.3130 443.3256)" font-size="100" font-weight="normal" fill="#000">p<tspan font-size="78" dy="47.5">H</tspan><tspan dy="-47.5">/p = 0</tspan></text>
<text transform="matrix(0.3368 0.0000 0.0000 0.3296 1024.8895 395.3704)" font-size="100" font-weight="bold" fill="#262626">2.8</text>
<text transform="matrix(0.3389 0.0000 0.0000 0.3352 1077.5221 425.6648)" font-size="100" font-weight="bold" fill="#262626">3.05</text>
<text transform="matrix(0.3368 0.0000 0.0000 0.3423 1166.8263 456.0577)" font-size="100" font-weight="bold" fill="#262626">3.3</text>
<text transform="matrix(0.3363 0.0000 0.0000 0.3465 1219.1274 486.8535)" font-size="100" font-weight="bold" fill="#262626">3.55</text>
<text transform="matrix(0.3306 0.0000 0.0000 0.3380 1308.9388 516.8620)" font-size="100" font-weight="bold" fill="#262626">3.8</text>
<text transform="matrix(0.3376 0.0000 0.0000 0.3296 1793.6872 395.3704)" font-size="100" font-weight="bold" fill="#262626">2.8</text>
<text transform="matrix(0.3342 0.0000 0.0000 0.3268 1723.4316 425.6732)" font-size="100" font-weight="bold" fill="#262626">3.05</text>
<text transform="matrix(0.3301 0.0000 0.0000 0.3338 1653.4398 456.0662)" font-size="100" font-weight="bold" fill="#262626">3.3</text>
<text transform="matrix(0.3342 0.0000 0.0000 0.3465 1582.4316 486.8535)" font-size="100" font-weight="bold" fill="#262626">3.55</text>
<text transform="matrix(0.3269 0.0000 0.0000 0.3366 1511.9463 516.7634)" font-size="100" font-weight="bold" fill="#262626">3.8</text>
<text transform="matrix(0.3260 0.0000 0.0000 0.3471 1054.1220 170.8529)" font-size="100" font-weight="bold" fill="#262626">5</text>
<text transform="matrix(0.3245 0.0000 0.0000 0.3536 1053.3509 264.6000)" font-size="100" font-weight="bold" fill="#262626">4</text>
<text transform="matrix(0.3200 0.0000 0.0000 0.3437 1054.1600 357.8563)" font-size="100" font-weight="bold" fill="#262626">3</text>
<text transform="matrix(0.0000 -0.3753 0.3777 0.0000 996.9691 435.6273)" font-size="100" font-weight="bold" fill="#262626">Refractive index (n)</text>
<text transform="matrix(0.3762 0.0000 0.0000 0.3670 946.8663 549.7926)" font-size="100" font-weight="bold" fill="#262626">Photon energy (eV)</text>
<text transform="matrix(0.3764 0.0000 0.0000 0.3777 1578.8655 527.1691)" font-size="100" font-weight="bold" fill="#262626">Photon energy (eV)</text>
<text transform="matrix(0.4100 0.0000 0.0000 0.4027 1121.3502 195.5973)" font-size="100" font-weight="normal" fill="#000">Ge rich</text>
<text transform="matrix(0.4124 0.0000 0.0000 0.4041 1647.8380 181.8959)" font-size="100" font-weight="normal" fill="#000">Si rich</text>
<text transform="matrix(0.4130 0.0000 0.0000 0.4066 1341.4091 435.8826)" font-size="100" font-weight="normal" fill="#000">p<tspan font-size="78" dy="47.5">H</tspan><tspan dy="-47.5">/p = 0.05</tspan></text>
<text transform="matrix(0.3368 0.0000 0.0000 0.3296 88.6895 1085.1704)" font-size="100" font-weight="bold" fill="#262626">2.8</text>
<text transform="matrix(0.3389 0.0000 0.0000 0.3352 141.3221 1115.4648)" font-size="100" font-weight="bold" fill="#262626">3.05</text>
<text transform="matrix(0.3368 0.0000 0.0000 0.3423 230.6263 1145.8577)" font-size="100" font-weight="bold" fill="#262626">3.3</text>
<text transform="matrix(0.3363 0.0000 0.0000 0.3465 282.9274 1176.6535)" font-size="100" font-weight="bold" fill="#262626">3.55</text>
<text transform="matrix(0.3306 0.0000 0.0000 0.3380 372.7388 1206.6620)" font-size="100" font-weight="bold" fill="#262626">3.8</text>
<text transform="matrix(0.3376 0.0000 0.0000 0.3296 857.4872 1085.1704)" font-size="100" font-weight="bold" fill="#262626">2.8</text>
<text transform="matrix(0.3342 0.0000 0.0000 0.3268 787.2316 1115.4732)" font-size="100" font-weight="bold" fill="#262626">3.05</text>
<text transform="matrix(0.3301 0.0000 0.0000 0.3338 717.2398 1145.8662)" font-size="100" font-weight="bold" fill="#262626">3.3</text>
<text transform="matrix(0.3342 0.0000 0.0000 0.3465 646.2316 1176.6535)" font-size="100" font-weight="bold" fill="#262626">3.55</text>
<text transform="matrix(0.3269 0.0000 0.0000 0.3366 575.7463 1206.5634)" font-size="100" font-weight="bold" fill="#262626">3.8</text>
<text transform="matrix(0.3260 0.0000 0.0000 0.3471 117.9220 860.6529)" font-size="100" font-weight="bold" fill="#262626">5</text>
<text transform="matrix(0.3245 0.0000 0.0000 0.3536 117.1509 954.4000)" font-size="100" font-weight="bold" fill="#262626">4</text>
<text transform="matrix(0.3200 0.0000 0.0000 0.3437 117.9600 1047.6563)" font-size="100" font-weight="bold" fill="#262626">3</text>
<text transform="matrix(0.0000 -0.3750 0.3745 0.0000 65.6362 1116.2250)" font-size="100" font-weight="bold" fill="#262626">Refractive index (n)</text>
<text transform="matrix(0.3777 0.0000 0.0000 0.3713 2.0562 1219.8032)" font-size="100" font-weight="bold" fill="#262626">Photon energy (eV)</text>
<text transform="matrix(0.3770 0.0000 0.0000 0.3777 712.3609 1186.7691)" font-size="100" font-weight="bold" fill="#262626">Photon energy (eV)</text>
<text transform="matrix(0.4096 0.0000 0.0000 0.4095 187.8518 890.5905)" font-size="100" font-weight="normal" fill="#000">Ge rich</text>
<text transform="matrix(0.4124 0.0000 0.0000 0.4095 714.9380 866.4905)" font-size="100" font-weight="normal" fill="#000">Si rich</text>
<text transform="matrix(0.4011 0.0000 0.0000 0.4157 414.0920 1127.4463)" font-size="100" font-weight="normal" fill="#000">p<tspan font-size="78" dy="47.5">H</tspan><tspan dy="-47.5">/p = 0.1</tspan></text>
<text transform="matrix(0.3368 0.0000 0.0000 0.3296 1026.6895 1085.1704)" font-size="100" font-weight="bold" fill="#262626">2.8</text>
<text transform="matrix(0.3389 0.0000 0.0000 0.3352 1079.3221 1115.4648)" font-size="100" font-weight="bold" fill="#262626">3.05</text>
<text transform="matrix(0.3368 0.0000 0.0000 0.3423 1168.6263 1145.8577)" font-size="100" font-weight="bold" fill="#262626">3.3</text>
<text transform="matrix(0.3363 0.0000 0.0000 0.3465 1220.9274 1176.6535)" font-size="100" font-weight="bold" fill="#262626">3.55</text>
<text transform="matrix(0.3306 0.0000 0.0000 0.3380 1310.7388 1206.6620)" font-size="100" font-weight="bold" fill="#262626">3.8</text>
<text transform="matrix(0.3376 0.0000 0.0000 0.3296 1795.4872 1085.1704)" font-size="100" font-weight="bold" fill="#262626">2.8</text>
<text transform="matrix(0.3342 0.0000 0.0000 0.3268 1725.2316 1115.4732)" font-size="100" font-weight="bold" fill="#262626">3.05</text>
<text transform="matrix(0.3301 0.0000 0.0000 0.3338 1655.2398 1145.8662)" font-size="100" font-weight="bold" fill="#262626">3.3</text>
<text transform="matrix(0.3342 0.0000 0.0000 0.3465 1584.2316 1176.6535)" font-size="100" font-weight="bold" fill="#262626">3.55</text>
<text transform="matrix(0.3269 0.0000 0.0000 0.3366 1513.7463 1206.5634)" font-size="100" font-weight="bold" fill="#262626">3.8</text>
<text transform="matrix(0.3260 0.0000 0.0000 0.3471 1055.9220 860.6529)" font-size="100" font-weight="bold" fill="#262626">5</text>
<text transform="matrix(0.3245 0.0000 0.0000 0.3536 1055.1509 954.4000)" font-size="100" font-weight="bold" fill="#262626">4</text>
<text transform="matrix(0.3200 0.0000 0.0000 0.3437 1055.9600 1047.6563)" font-size="100" font-weight="bold" fill="#262626">3</text>
<text transform="matrix(0.0000 -0.3753 0.3755 0.0000 1011.8138 1125.6273)" font-size="100" font-weight="bold" fill="#262626">Refractive index (n)</text>
<text transform="matrix(0.3766 0.0000 0.0000 0.3670 941.7640 1238.4926)" font-size="100" font-weight="bold" fill="#262626">Photon energy (eV)</text>
<text transform="matrix(0.3767 0.0000 0.0000 0.3649 1581.2632 1218.8372)" font-size="100" font-weight="bold" fill="#262626">Photon energy (eV)</text>
<text transform="matrix(0.4100 0.0000 0.0000 0.4095 1107.8502 878.5905)" font-size="100" font-weight="normal" fill="#000">Ge rich</text>
<text transform="matrix(0.4120 0.0000 0.0000 0.4095 1650.3398 869.3905)" font-size="100" font-weight="normal" fill="#000">Si rich</text>
<text transform="matrix(0.4138 0.0000 0.0000 0.4107 1361.4037 1127.0843)" font-size="100" font-weight="normal" fill="#000">p<tspan font-size="78" dy="47.5">H</tspan><tspan dy="-47.5">/p = 0.2</tspan></text>
<text transform="matrix(0.3040 0.0000 0.0000 0.3099 579.7920 699.9901)" font-size="100" font-weight="bold" fill="#262626">3</text>
<text transform="matrix(0.3015 0.0000 0.0000 0.3099 721.3970 699.9901)" font-size="100" font-weight="bold" fill="#262626">3.5</text>
<text transform="matrix(0.2981 0.0000 0.0000 0.3188 887.9038 700.3000)" font-size="100" font-weight="bold" fill="#262626">4</text>
<text transform="matrix(0.3052 0.0000 0.0000 0.3143 1029.5896 699.9857)" font-size="100" font-weight="bold" fill="#262626">4.5</text>
<text transform="matrix(0.2960 0.0000 0.0000 0.3171 1196.7120 700.0829)" font-size="100" font-weight="bold" fill="#262626">5</text>
</svg>
</body></html>
